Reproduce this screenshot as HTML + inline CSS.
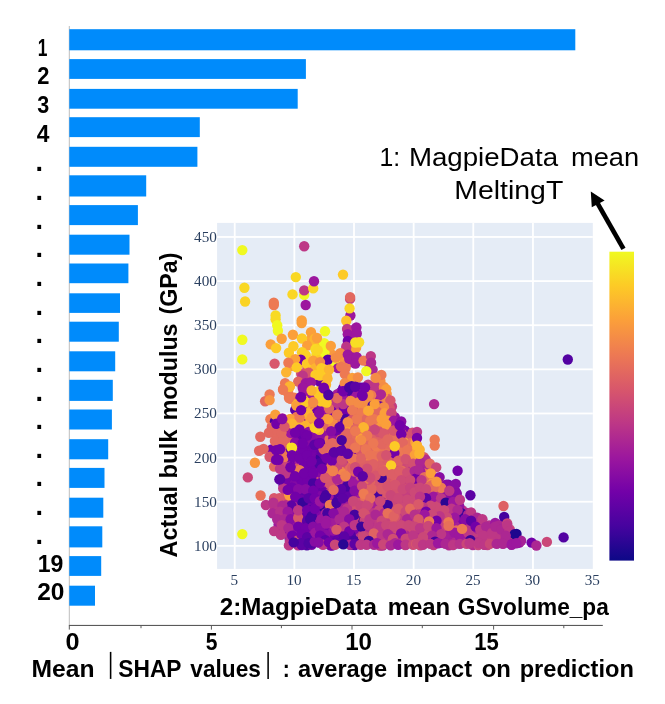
<!DOCTYPE html>
<html lang="en"><head><meta charset="utf-8"><title>SHAP feature importance</title>
<style>
html,body{margin:0;padding:0;background:#fff;}
body{width:665px;height:704px;overflow:hidden;position:relative;}
svg{display:block;position:absolute;left:0;top:0;}
.b{font-family:"Liberation Sans",sans-serif;font-weight:700;fill:#000;}
.r{font-family:"Liberation Sans",sans-serif;font-weight:400;fill:#000;}
.t{font-family:"Liberation Serif",serif;font-size:15.2px;fill:#2a3f5f;}
</style></head><body>
<svg width="665" height="704" viewBox="0 0 665 704">
<defs><linearGradient id="pl" x1="0" y1="1" x2="0" y2="0">
<stop offset="0.0000" stop-color="#0d0887"/>
<stop offset="0.1111" stop-color="#46039f"/>
<stop offset="0.2222" stop-color="#7201a8"/>
<stop offset="0.3333" stop-color="#9c179e"/>
<stop offset="0.4444" stop-color="#bd3786"/>
<stop offset="0.5556" stop-color="#d8576b"/>
<stop offset="0.6667" stop-color="#ed7953"/>
<stop offset="0.7778" stop-color="#fb9f3a"/>
<stop offset="0.8889" stop-color="#fdca26"/>
<stop offset="1.0000" stop-color="#f0f921"/>
</linearGradient>
<clipPath id="pc"><rect x="217.1" y="222.9" width="375.7" height="346"/></clipPath>
</defs>
<rect x="0" y="0" width="665" height="704" fill="#ffffff"/>
<g id="bars">
<rect x="68.8" y="26" width="1" height="599.5" fill="#bdbdbd"/>
<rect x="69.3" y="29.2" width="506.0" height="21.1" fill="#008bfb"/>
<rect x="69.3" y="59.1" width="236.6" height="19.8" fill="#008bfb"/>
<rect x="69.3" y="88.9" width="228.4" height="19.8" fill="#008bfb"/>
<rect x="69.3" y="117.2" width="130.5" height="19.9" fill="#008bfb"/>
<rect x="69.3" y="146.8" width="128.1" height="20.0" fill="#008bfb"/>
<rect x="69.3" y="175.3" width="76.9" height="21.2" fill="#008bfb"/>
<rect x="69.3" y="205.1" width="68.6" height="20.0" fill="#008bfb"/>
<rect x="69.3" y="234.7" width="60.2" height="20.0" fill="#008bfb"/>
<rect x="69.3" y="263.5" width="59.1" height="19.7" fill="#008bfb"/>
<rect x="69.3" y="293.3" width="50.7" height="19.6" fill="#008bfb"/>
<rect x="69.3" y="321.7" width="49.5" height="20.0" fill="#008bfb"/>
<rect x="69.3" y="351.3" width="45.9" height="20.0" fill="#008bfb"/>
<rect x="69.3" y="379.8" width="43.5" height="21.1" fill="#008bfb"/>
<rect x="69.3" y="409.5" width="42.6" height="20.0" fill="#008bfb"/>
<rect x="69.3" y="439.2" width="38.9" height="20.1" fill="#008bfb"/>
<rect x="69.3" y="467.9" width="35.2" height="20.0" fill="#008bfb"/>
<rect x="69.3" y="497.7" width="34.0" height="20.0" fill="#008bfb"/>
<rect x="69.3" y="526.3" width="33.0" height="21.1" fill="#008bfb"/>
<rect x="69.3" y="556.1" width="31.9" height="19.8" fill="#008bfb"/>
<rect x="69.3" y="585.7" width="25.7" height="20.0" fill="#008bfb"/>
</g>
<g id="scatter">
<rect x="217.1" y="222.9" width="375.7" height="346" fill="#e5ecf6"/>
<rect x="233.80" y="222.9" width="1.8" height="346" fill="#ffffff"/>
<rect x="293.45" y="222.9" width="1.8" height="346" fill="#ffffff"/>
<rect x="353.10" y="222.9" width="1.8" height="346" fill="#ffffff"/>
<rect x="412.75" y="222.9" width="1.8" height="346" fill="#ffffff"/>
<rect x="472.40" y="222.9" width="1.8" height="346" fill="#ffffff"/>
<rect x="532.05" y="222.9" width="1.8" height="346" fill="#ffffff"/>
<rect x="217.1" y="544.95" width="375.7" height="1.8" fill="#ffffff"/>
<rect x="217.1" y="500.82" width="375.7" height="1.8" fill="#ffffff"/>
<rect x="217.1" y="456.70" width="375.7" height="1.8" fill="#ffffff"/>
<rect x="217.1" y="412.57" width="375.7" height="1.8" fill="#ffffff"/>
<rect x="217.1" y="368.45" width="375.7" height="1.8" fill="#ffffff"/>
<rect x="217.1" y="324.32" width="375.7" height="1.8" fill="#ffffff"/>
<rect x="217.1" y="280.20" width="375.7" height="1.8" fill="#ffffff"/>
<rect x="217.1" y="236.07" width="375.7" height="1.8" fill="#ffffff"/>
<g clip-path="url(#pc)">
<circle cx="319.9" cy="415.7" r="5.2" fill="#99169f"/>
<circle cx="347.3" cy="459.9" r="5.2" fill="#da5a69"/>
<circle cx="293.3" cy="475.1" r="5.2" fill="#7402a7"/>
<circle cx="416.2" cy="513.6" r="5.2" fill="#de6164"/>
<circle cx="368.8" cy="519.7" r="5.2" fill="#c03b83"/>
<circle cx="353.8" cy="398.9" r="5.2" fill="#f48d46"/>
<circle cx="340.9" cy="392.0" r="5.2" fill="#7a05a6"/>
<circle cx="309.0" cy="398.7" r="5.2" fill="#ee7a52"/>
<circle cx="281.7" cy="466.9" r="5.2" fill="#d4526f"/>
<circle cx="383.9" cy="413.7" r="5.2" fill="#f99a3d"/>
<circle cx="466.7" cy="519.6" r="5.2" fill="#b02a90"/>
<circle cx="407.8" cy="520.9" r="5.2" fill="#c8447b"/>
<circle cx="416.6" cy="452.6" r="5.2" fill="#f79342"/>
<circle cx="402.5" cy="448.4" r="5.2" fill="#e87158"/>
<circle cx="325.8" cy="423.8" r="5.2" fill="#9011a1"/>
<circle cx="353.9" cy="416.5" r="5.2" fill="#e56c5c"/>
<circle cx="443.7" cy="532.3" r="5.2" fill="#e46b5d"/>
<circle cx="344.5" cy="393.7" r="5.2" fill="#7a05a6"/>
<circle cx="391.8" cy="531.0" r="5.2" fill="#c4407f"/>
<circle cx="372.3" cy="496.5" r="5.2" fill="#e06462"/>
<circle cx="396.8" cy="506.4" r="5.2" fill="#d6546d"/>
<circle cx="289.4" cy="464.2" r="5.2" fill="#7f08a5"/>
<circle cx="316.4" cy="355.0" r="5.2" fill="#f9d824"/>
<circle cx="406.1" cy="538.2" r="5.2" fill="#be3985"/>
<circle cx="479.8" cy="539.6" r="5.2" fill="#b12b8f"/>
<circle cx="305.3" cy="377.0" r="5.2" fill="#b6308b"/>
<circle cx="330.1" cy="442.3" r="5.2" fill="#e16561"/>
<circle cx="290.0" cy="488.6" r="5.2" fill="#b22c8e"/>
<circle cx="344.5" cy="532.3" r="5.2" fill="#c13c82"/>
<circle cx="312.5" cy="421.0" r="5.2" fill="#fad625"/>
<circle cx="318.4" cy="370.3" r="5.2" fill="#fdcb26"/>
<circle cx="355.3" cy="459.4" r="5.2" fill="#e46a5e"/>
<circle cx="334.1" cy="481.3" r="5.2" fill="#d25071"/>
<circle cx="386.5" cy="441.4" r="5.2" fill="#df6264"/>
<circle cx="330.7" cy="518.4" r="5.2" fill="#7f08a5"/>
<circle cx="411.9" cy="539.3" r="5.2" fill="#d14f72"/>
<circle cx="283.6" cy="500.4" r="5.2" fill="#d4536f"/>
<circle cx="299.6" cy="487.6" r="5.2" fill="#6801a6"/>
<circle cx="343.9" cy="488.1" r="5.2" fill="#5302a2"/>
<circle cx="290.6" cy="366.1" r="5.2" fill="#fa9d3b"/>
<circle cx="318.3" cy="456.4" r="5.2" fill="#6002a4"/>
<circle cx="323.4" cy="458.9" r="5.2" fill="#8209a4"/>
<circle cx="469.5" cy="542.2" r="5.2" fill="#c13c82"/>
<circle cx="301.5" cy="532.3" r="5.2" fill="#7001a8"/>
<circle cx="424.4" cy="521.3" r="5.2" fill="#c6417d"/>
<circle cx="391.7" cy="488.0" r="5.2" fill="#ca4779"/>
<circle cx="387.2" cy="477.4" r="5.2" fill="#d6546d"/>
<circle cx="339.4" cy="438.3" r="5.2" fill="#dc5d67"/>
<circle cx="330.4" cy="536.4" r="5.2" fill="#6102a4"/>
<circle cx="461.6" cy="542.5" r="5.2" fill="#ae2991"/>
<circle cx="362.0" cy="393.7" r="5.2" fill="#840aa4"/>
<circle cx="380.5" cy="394.8" r="5.2" fill="#ea7556"/>
<circle cx="387.6" cy="426.1" r="5.2" fill="#de6164"/>
<circle cx="390.7" cy="525.3" r="5.2" fill="#d5536e"/>
<circle cx="352.3" cy="399.4" r="5.2" fill="#f58e45"/>
<circle cx="365.2" cy="416.3" r="5.2" fill="#ec7854"/>
<circle cx="344.7" cy="510.0" r="5.2" fill="#ac2792"/>
<circle cx="361.5" cy="463.8" r="5.2" fill="#e3685f"/>
<circle cx="327.0" cy="362.4" r="5.2" fill="#fdc329"/>
<circle cx="405.2" cy="471.0" r="5.2" fill="#cb4878"/>
<circle cx="332.8" cy="499.1" r="5.2" fill="#350498"/>
<circle cx="372.8" cy="447.7" r="5.2" fill="#eb7655"/>
<circle cx="445.0" cy="541.2" r="5.2" fill="#a72296"/>
<circle cx="445.7" cy="516.7" r="5.2" fill="#b7318a"/>
<circle cx="334.3" cy="503.3" r="5.2" fill="#5902a3"/>
<circle cx="361.1" cy="444.3" r="5.2" fill="#f1854b"/>
<circle cx="452.0" cy="543.0" r="5.2" fill="#b7318a"/>
<circle cx="294.2" cy="397.6" r="5.2" fill="#ec7755"/>
<circle cx="304.0" cy="502.2" r="5.2" fill="#7d07a5"/>
<circle cx="397.3" cy="430.1" r="5.2" fill="#9413a0"/>
<circle cx="276.7" cy="465.7" r="5.2" fill="#6801a6"/>
<circle cx="354.0" cy="483.7" r="5.2" fill="#9513a0"/>
<circle cx="402.6" cy="462.6" r="5.2" fill="#ca4779"/>
<circle cx="383.5" cy="484.9" r="5.2" fill="#320597"/>
<circle cx="361.0" cy="441.8" r="5.2" fill="#e66e5b"/>
<circle cx="355.1" cy="409.3" r="5.2" fill="#ee7d51"/>
<circle cx="372.2" cy="439.1" r="5.2" fill="#e76f5a"/>
<circle cx="372.8" cy="434.3" r="5.2" fill="#da5a69"/>
<circle cx="347.5" cy="506.0" r="5.2" fill="#a41f98"/>
<circle cx="455.6" cy="511.1" r="5.2" fill="#a01b9b"/>
<circle cx="307.1" cy="406.3" r="5.2" fill="#fcad34"/>
<circle cx="448.1" cy="525.4" r="5.2" fill="#e3685f"/>
<circle cx="430.2" cy="471.6" r="5.2" fill="#e7705a"/>
<circle cx="309.2" cy="474.6" r="5.2" fill="#7402a8"/>
<circle cx="293.7" cy="477.3" r="5.2" fill="#7804a7"/>
<circle cx="323.4" cy="365.7" r="5.2" fill="#fba935"/>
<circle cx="390.9" cy="445.8" r="5.2" fill="#e2675f"/>
<circle cx="391.7" cy="458.4" r="5.2" fill="#e46b5d"/>
<circle cx="394.9" cy="438.5" r="5.2" fill="#e3685f"/>
<circle cx="347.3" cy="423.7" r="5.2" fill="#cf4c74"/>
<circle cx="319.3" cy="542.5" r="5.2" fill="#9111a1"/>
<circle cx="423.0" cy="481.7" r="5.2" fill="#c5407e"/>
<circle cx="323.0" cy="535.4" r="5.2" fill="#8d0fa1"/>
<circle cx="312.0" cy="470.7" r="5.2" fill="#8109a5"/>
<circle cx="307.2" cy="520.3" r="5.2" fill="#6302a5"/>
<circle cx="462.2" cy="510.3" r="5.2" fill="#b93389"/>
<circle cx="336.5" cy="517.3" r="5.2" fill="#a62197"/>
<circle cx="438.1" cy="509.8" r="5.2" fill="#d04e73"/>
<circle cx="278.3" cy="435.1" r="5.2" fill="#db5c68"/>
<circle cx="396.9" cy="510.0" r="5.2" fill="#e26760"/>
<circle cx="376.8" cy="530.4" r="5.2" fill="#c5407e"/>
<circle cx="351.4" cy="484.1" r="5.2" fill="#9e199c"/>
<circle cx="317.7" cy="364.8" r="5.2" fill="#fcbd2c"/>
<circle cx="390.2" cy="474.6" r="5.2" fill="#d4526f"/>
<circle cx="297.5" cy="431.6" r="5.2" fill="#7201a8"/>
<circle cx="376.5" cy="474.9" r="5.2" fill="#c7437c"/>
<circle cx="359.0" cy="451.7" r="5.2" fill="#e76f5a"/>
<circle cx="352.1" cy="462.6" r="5.2" fill="#e56c5c"/>
<circle cx="353.7" cy="444.3" r="5.2" fill="#e46a5e"/>
<circle cx="422.3" cy="511.0" r="5.2" fill="#9212a0"/>
<circle cx="304.1" cy="430.1" r="5.2" fill="#7d07a5"/>
<circle cx="422.7" cy="460.2" r="5.2" fill="#cd4a76"/>
<circle cx="305.2" cy="420.5" r="5.2" fill="#fcb82f"/>
<circle cx="359.3" cy="387.4" r="5.2" fill="#6d01a7"/>
<circle cx="453.1" cy="528.4" r="5.2" fill="#e87158"/>
<circle cx="386.1" cy="499.2" r="5.2" fill="#c7437c"/>
<circle cx="335.7" cy="365.8" r="5.2" fill="#f69243"/>
<circle cx="417.0" cy="480.1" r="5.2" fill="#b6308b"/>
<circle cx="379.1" cy="516.6" r="5.2" fill="#c9457a"/>
<circle cx="416.2" cy="459.6" r="5.2" fill="#cf4d74"/>
<circle cx="506.3" cy="539.1" r="5.2" fill="#a21d9a"/>
<circle cx="472.8" cy="529.2" r="5.2" fill="#c03b83"/>
<circle cx="329.2" cy="358.0" r="5.2" fill="#f79541"/>
<circle cx="433.1" cy="482.2" r="5.2" fill="#f2874a"/>
<circle cx="334.4" cy="449.4" r="5.2" fill="#5902a3"/>
<circle cx="308.3" cy="517.0" r="5.2" fill="#5302a2"/>
<circle cx="379.6" cy="502.2" r="5.2" fill="#340597"/>
<circle cx="452.6" cy="521.3" r="5.2" fill="#a21d99"/>
<circle cx="492.8" cy="539.1" r="5.2" fill="#b6308b"/>
<circle cx="337.5" cy="535.7" r="5.2" fill="#6b01a6"/>
<circle cx="339.4" cy="460.0" r="5.2" fill="#8008a5"/>
<circle cx="304.4" cy="458.8" r="5.2" fill="#6e01a7"/>
<circle cx="340.4" cy="491.7" r="5.2" fill="#5c02a4"/>
<circle cx="429.3" cy="539.6" r="5.2" fill="#a62197"/>
<circle cx="363.2" cy="400.9" r="5.2" fill="#7a05a6"/>
<circle cx="377.6" cy="391.7" r="5.2" fill="#b7328a"/>
<circle cx="339.7" cy="433.2" r="5.2" fill="#5f02a4"/>
<circle cx="326.4" cy="531.0" r="5.2" fill="#7804a7"/>
<circle cx="350.5" cy="487.4" r="5.2" fill="#a92395"/>
<circle cx="473.6" cy="542.0" r="5.2" fill="#bc3687"/>
<circle cx="340.4" cy="427.1" r="5.2" fill="#f0814e"/>
<circle cx="315.7" cy="428.3" r="5.2" fill="#fdc528"/>
<circle cx="344.3" cy="498.5" r="5.2" fill="#b32d8d"/>
<circle cx="395.0" cy="523.6" r="5.2" fill="#c7437c"/>
<circle cx="339.6" cy="420.2" r="5.2" fill="#e46b5d"/>
<circle cx="317.9" cy="421.0" r="5.2" fill="#f1854b"/>
<circle cx="279.6" cy="451.8" r="5.2" fill="#7603a7"/>
<circle cx="333.2" cy="429.8" r="5.2" fill="#8109a5"/>
<circle cx="391.2" cy="412.6" r="5.2" fill="#f8983f"/>
<circle cx="383.7" cy="478.1" r="5.2" fill="#d7566c"/>
<circle cx="311.7" cy="338.4" r="5.2" fill="#fba437"/>
<circle cx="441.5" cy="507.1" r="5.2" fill="#c5417e"/>
<circle cx="365.1" cy="401.1" r="5.2" fill="#f79541"/>
<circle cx="322.2" cy="441.8" r="5.2" fill="#e87159"/>
<circle cx="330.1" cy="509.0" r="5.2" fill="#820aa4"/>
<circle cx="332.7" cy="496.1" r="5.2" fill="#e76f5a"/>
<circle cx="326.5" cy="499.0" r="5.2" fill="#4b03a0"/>
<circle cx="332.7" cy="366.6" r="5.2" fill="#fdc329"/>
<circle cx="304.4" cy="507.1" r="5.2" fill="#6502a5"/>
<circle cx="314.6" cy="470.6" r="5.2" fill="#6e01a7"/>
<circle cx="405.0" cy="513.5" r="5.2" fill="#c23d81"/>
<circle cx="402.5" cy="430.6" r="5.2" fill="#8a0ea2"/>
<circle cx="317.7" cy="478.3" r="5.2" fill="#6801a6"/>
<circle cx="458.9" cy="530.4" r="5.2" fill="#bb3587"/>
<circle cx="359.4" cy="476.8" r="5.2" fill="#6d01a7"/>
<circle cx="376.6" cy="517.4" r="5.2" fill="#ba3488"/>
<circle cx="387.5" cy="421.1" r="5.2" fill="#fb9e3b"/>
<circle cx="330.7" cy="524.5" r="5.2" fill="#a62097"/>
<circle cx="350.6" cy="538.6" r="5.2" fill="#6202a5"/>
<circle cx="344.0" cy="399.2" r="5.2" fill="#bb3588"/>
<circle cx="353.8" cy="525.4" r="5.2" fill="#b93489"/>
<circle cx="354.7" cy="494.6" r="5.2" fill="#cf4c74"/>
<circle cx="343.9" cy="431.0" r="5.2" fill="#dc5d67"/>
<circle cx="361.6" cy="489.2" r="5.2" fill="#9614a0"/>
<circle cx="357.6" cy="459.2" r="5.2" fill="#e16561"/>
<circle cx="401.1" cy="477.9" r="5.2" fill="#c5417e"/>
<circle cx="311.4" cy="463.3" r="5.2" fill="#6e01a7"/>
<circle cx="285.5" cy="452.5" r="5.2" fill="#7101a8"/>
<circle cx="305.4" cy="416.1" r="5.2" fill="#fba935"/>
<circle cx="411.6" cy="534.3" r="5.2" fill="#cb4878"/>
<circle cx="409.2" cy="505.4" r="5.2" fill="#c7427c"/>
<circle cx="386.7" cy="394.0" r="5.2" fill="#f79540"/>
<circle cx="373.0" cy="466.7" r="5.2" fill="#df6263"/>
<circle cx="400.7" cy="542.3" r="5.2" fill="#b93389"/>
<circle cx="296.3" cy="528.8" r="5.2" fill="#7b06a6"/>
<circle cx="425.8" cy="498.6" r="5.2" fill="#b02b8f"/>
<circle cx="288.9" cy="437.7" r="5.2" fill="#e97258"/>
<circle cx="454.7" cy="535.9" r="5.2" fill="#a62197"/>
<circle cx="332.4" cy="405.4" r="5.2" fill="#c6427d"/>
<circle cx="420.1" cy="537.7" r="5.2" fill="#d5546e"/>
<circle cx="368.9" cy="456.4" r="5.2" fill="#e97258"/>
<circle cx="370.2" cy="449.7" r="5.2" fill="#eb7655"/>
<circle cx="296.7" cy="501.9" r="5.2" fill="#c5407e"/>
<circle cx="382.5" cy="538.6" r="5.2" fill="#c4407f"/>
<circle cx="325.9" cy="412.7" r="5.2" fill="#96149f"/>
<circle cx="427.9" cy="513.6" r="5.2" fill="#c7437c"/>
<circle cx="297.4" cy="474.3" r="5.2" fill="#e06462"/>
<circle cx="325.7" cy="417.5" r="5.2" fill="#a51f98"/>
<circle cx="412.9" cy="487.8" r="5.2" fill="#c8447b"/>
<circle cx="380.3" cy="445.7" r="5.2" fill="#dd5f66"/>
<circle cx="318.7" cy="437.2" r="5.2" fill="#7f08a5"/>
<circle cx="405.0" cy="430.6" r="5.2" fill="#7402a8"/>
<circle cx="283.6" cy="516.4" r="5.2" fill="#a72196"/>
<circle cx="355.4" cy="520.7" r="5.2" fill="#7804a6"/>
<circle cx="300.5" cy="510.4" r="5.2" fill="#6801a6"/>
<circle cx="336.9" cy="530.8" r="5.2" fill="#b12b8f"/>
<circle cx="463.8" cy="538.4" r="5.2" fill="#a01b9b"/>
<circle cx="371.8" cy="415.5" r="5.2" fill="#f0804e"/>
<circle cx="373.2" cy="484.8" r="5.2" fill="#d8576b"/>
<circle cx="395.4" cy="499.0" r="5.2" fill="#c7427c"/>
<circle cx="469.5" cy="538.8" r="5.2" fill="#c03a83"/>
<circle cx="328.4" cy="538.3" r="5.2" fill="#7d07a5"/>
<circle cx="391.3" cy="427.0" r="5.2" fill="#9c179e"/>
<circle cx="420.3" cy="481.8" r="5.2" fill="#d5546e"/>
<circle cx="321.8" cy="524.0" r="5.2" fill="#8a0ea2"/>
<circle cx="311.4" cy="415.6" r="5.2" fill="#f79541"/>
<circle cx="462.3" cy="517.4" r="5.2" fill="#a31e99"/>
<circle cx="355.8" cy="406.1" r="5.2" fill="#f1844c"/>
<circle cx="380.3" cy="405.4" r="5.2" fill="#f79342"/>
<circle cx="369.8" cy="495.1" r="5.2" fill="#e66d5b"/>
<circle cx="305.1" cy="462.5" r="5.2" fill="#7703a7"/>
<circle cx="364.7" cy="502.0" r="5.2" fill="#cc4977"/>
<circle cx="411.5" cy="516.5" r="5.2" fill="#cd4a76"/>
<circle cx="430.6" cy="508.9" r="5.2" fill="#c7437c"/>
<circle cx="316.4" cy="445.5" r="5.2" fill="#4c03a0"/>
<circle cx="346.5" cy="433.7" r="5.2" fill="#db5d67"/>
<circle cx="426.5" cy="495.9" r="5.2" fill="#cf4c74"/>
<circle cx="510.0" cy="541.9" r="5.2" fill="#a92495"/>
<circle cx="330.3" cy="364.8" r="5.2" fill="#f69143"/>
<circle cx="474.3" cy="535.3" r="5.2" fill="#c5407e"/>
<circle cx="433.1" cy="478.7" r="5.2" fill="#e87159"/>
<circle cx="290.2" cy="459.1" r="5.2" fill="#6402a5"/>
<circle cx="427.9" cy="469.9" r="5.2" fill="#e3695e"/>
<circle cx="351.0" cy="345.0" r="5.2" fill="#fad425"/>
<circle cx="322.8" cy="488.7" r="5.2" fill="#7d07a5"/>
<circle cx="402.7" cy="488.5" r="5.2" fill="#c33e80"/>
<circle cx="365.5" cy="445.1" r="5.2" fill="#ef7f4f"/>
<circle cx="383.8" cy="524.1" r="5.2" fill="#d35270"/>
<circle cx="337.3" cy="423.8" r="5.2" fill="#dc5d67"/>
<circle cx="442.1" cy="539.6" r="5.2" fill="#af2990"/>
<circle cx="285.6" cy="484.7" r="5.2" fill="#7704a7"/>
<circle cx="434.6" cy="492.9" r="5.2" fill="#dc5e66"/>
<circle cx="430.4" cy="488.5" r="5.2" fill="#d5546e"/>
<circle cx="394.8" cy="426.7" r="5.2" fill="#8e10a1"/>
<circle cx="318.5" cy="441.4" r="5.2" fill="#8109a4"/>
<circle cx="365.7" cy="452.8" r="5.2" fill="#e66d5b"/>
<circle cx="451.9" cy="518.0" r="5.2" fill="#e87258"/>
<circle cx="386.8" cy="527.3" r="5.2" fill="#c6427d"/>
<circle cx="290.9" cy="483.7" r="5.2" fill="#8109a5"/>
<circle cx="303.7" cy="391.1" r="5.2" fill="#6a01a6"/>
<circle cx="344.4" cy="405.6" r="5.2" fill="#c6427d"/>
<circle cx="305.1" cy="423.0" r="5.2" fill="#f99b3d"/>
<circle cx="437.3" cy="539.4" r="5.2" fill="#b02a8f"/>
<circle cx="362.6" cy="392.1" r="5.2" fill="#7603a7"/>
<circle cx="299.8" cy="466.1" r="5.2" fill="#ee7c51"/>
<circle cx="377.3" cy="412.2" r="5.2" fill="#e06462"/>
<circle cx="322.1" cy="531.6" r="5.2" fill="#7301a8"/>
<circle cx="388.3" cy="405.0" r="5.2" fill="#df6263"/>
<circle cx="372.2" cy="424.6" r="5.2" fill="#e06362"/>
<circle cx="384.1" cy="471.3" r="5.2" fill="#e16660"/>
<circle cx="494.3" cy="528.0" r="5.2" fill="#a01a9b"/>
<circle cx="301.4" cy="520.2" r="5.2" fill="#7301a8"/>
<circle cx="290.6" cy="481.8" r="5.2" fill="#7402a8"/>
<circle cx="465.3" cy="538.3" r="5.2" fill="#a21d9a"/>
<circle cx="303.9" cy="440.6" r="5.2" fill="#6c01a7"/>
<circle cx="449.0" cy="545.3" r="5.2" fill="#b22d8e"/>
<circle cx="468.9" cy="532.7" r="5.2" fill="#bc3687"/>
<circle cx="297.3" cy="439.1" r="5.2" fill="#9111a1"/>
<circle cx="368.8" cy="506.1" r="5.2" fill="#d25071"/>
<circle cx="394.9" cy="457.0" r="5.2" fill="#fdc528"/>
<circle cx="299.9" cy="438.9" r="5.2" fill="#6801a6"/>
<circle cx="423.5" cy="541.6" r="5.2" fill="#b6308b"/>
<circle cx="355.8" cy="419.4" r="5.2" fill="#e56c5c"/>
<circle cx="424.0" cy="471.3" r="5.2" fill="#e46b5d"/>
<circle cx="301.8" cy="434.6" r="5.2" fill="#6901a6"/>
<circle cx="328.5" cy="412.6" r="5.2" fill="#e97258"/>
<circle cx="470.7" cy="517.6" r="5.2" fill="#8b0ea2"/>
<circle cx="384.1" cy="448.0" r="5.2" fill="#e16661"/>
<circle cx="433.5" cy="516.4" r="5.2" fill="#6502a5"/>
<circle cx="362.6" cy="503.0" r="5.2" fill="#ca4779"/>
<circle cx="487.5" cy="536.4" r="5.2" fill="#c33f80"/>
<circle cx="490.7" cy="530.5" r="5.2" fill="#b52f8c"/>
<circle cx="340.0" cy="500.2" r="5.2" fill="#6702a6"/>
<circle cx="415.7" cy="516.6" r="5.2" fill="#b22c8e"/>
<circle cx="382.9" cy="487.9" r="5.2" fill="#4d03a0"/>
<circle cx="350.3" cy="409.5" r="5.2" fill="#dd6065"/>
<circle cx="380.4" cy="380.9" r="5.2" fill="#f58e45"/>
<circle cx="405.1" cy="478.1" r="5.2" fill="#d8576b"/>
<circle cx="301.3" cy="362.4" r="5.2" fill="#f99a3d"/>
<circle cx="339.9" cy="424.1" r="5.2" fill="#5802a3"/>
<circle cx="413.5" cy="459.8" r="5.2" fill="#c9467a"/>
<circle cx="366.6" cy="473.0" r="5.2" fill="#d4526f"/>
<circle cx="375.3" cy="398.4" r="5.2" fill="#e87059"/>
<circle cx="419.4" cy="516.5" r="5.2" fill="#b32d8d"/>
<circle cx="387.9" cy="423.1" r="5.2" fill="#fcae33"/>
<circle cx="307.0" cy="502.5" r="5.2" fill="#6d01a7"/>
<circle cx="444.3" cy="527.9" r="5.2" fill="#c33e80"/>
<circle cx="325.2" cy="505.6" r="5.2" fill="#41039d"/>
<circle cx="337.0" cy="412.7" r="5.2" fill="#c5407e"/>
<circle cx="358.7" cy="513.6" r="5.2" fill="#cb4878"/>
<circle cx="381.1" cy="423.4" r="5.2" fill="#fb9f3a"/>
<circle cx="417.2" cy="500.1" r="5.2" fill="#c13c82"/>
<circle cx="401.9" cy="460.0" r="5.2" fill="#e56c5c"/>
<circle cx="347.3" cy="456.5" r="5.2" fill="#5402a2"/>
<circle cx="394.7" cy="520.1" r="5.2" fill="#c43f7f"/>
<circle cx="326.2" cy="420.3" r="5.2" fill="#f79441"/>
<circle cx="275.9" cy="424.5" r="5.2" fill="#6901a6"/>
<circle cx="347.2" cy="408.1" r="5.2" fill="#ea7457"/>
<circle cx="285.7" cy="492.5" r="5.2" fill="#e06462"/>
<circle cx="315.9" cy="417.5" r="5.2" fill="#9413a0"/>
<circle cx="357.3" cy="431.9" r="5.2" fill="#fba139"/>
<circle cx="329.0" cy="418.9" r="5.2" fill="#e66d5b"/>
<circle cx="413.2" cy="484.6" r="5.2" fill="#c13b82"/>
<circle cx="386.3" cy="534.7" r="5.2" fill="#d04d73"/>
<circle cx="294.5" cy="430.4" r="5.2" fill="#9b169e"/>
<circle cx="316.2" cy="399.4" r="5.2" fill="#f9d725"/>
<circle cx="306.9" cy="536.0" r="5.2" fill="#6202a5"/>
<circle cx="370.0" cy="420.9" r="5.2" fill="#e66e5b"/>
<circle cx="426.7" cy="527.0" r="5.2" fill="#b93389"/>
<circle cx="394.0" cy="493.1" r="5.2" fill="#d25071"/>
<circle cx="347.0" cy="467.9" r="5.2" fill="#d9586a"/>
<circle cx="361.2" cy="500.0" r="5.2" fill="#cb4778"/>
<circle cx="321.3" cy="422.8" r="5.2" fill="#8d0fa2"/>
<circle cx="310.6" cy="520.1" r="5.2" fill="#5a02a3"/>
<circle cx="402.7" cy="480.9" r="5.2" fill="#cb4878"/>
<circle cx="404.9" cy="462.3" r="5.2" fill="#dc5d67"/>
<circle cx="383.4" cy="466.1" r="5.2" fill="#dd6065"/>
<circle cx="401.5" cy="523.5" r="5.2" fill="#ca4679"/>
<circle cx="312.2" cy="526.8" r="5.2" fill="#8f10a1"/>
<circle cx="287.2" cy="521.5" r="5.2" fill="#b8328a"/>
<circle cx="371.7" cy="521.7" r="5.2" fill="#b6308b"/>
<circle cx="311.7" cy="439.2" r="5.2" fill="#7302a8"/>
<circle cx="361.1" cy="420.2" r="5.2" fill="#f0804e"/>
<circle cx="409.8" cy="460.6" r="5.2" fill="#d6546d"/>
<circle cx="427.5" cy="488.8" r="5.2" fill="#cb4778"/>
<circle cx="362.0" cy="433.8" r="5.2" fill="#f69243"/>
<circle cx="316.1" cy="465.8" r="5.2" fill="#6f01a7"/>
<circle cx="443.8" cy="498.0" r="5.2" fill="#98159f"/>
<circle cx="387.7" cy="494.6" r="5.2" fill="#c9457a"/>
<circle cx="359.2" cy="516.7" r="5.2" fill="#9111a1"/>
<circle cx="308.0" cy="528.6" r="5.2" fill="#6702a6"/>
<circle cx="296.9" cy="451.9" r="5.2" fill="#6202a5"/>
<circle cx="314.4" cy="422.7" r="5.2" fill="#fccc26"/>
<circle cx="426.0" cy="503.5" r="5.2" fill="#7a05a6"/>
<circle cx="484.8" cy="532.5" r="5.2" fill="#b42e8d"/>
<circle cx="289.4" cy="513.2" r="5.2" fill="#a92395"/>
<circle cx="386.1" cy="485.4" r="5.2" fill="#db5c68"/>
<circle cx="355.7" cy="387.3" r="5.2" fill="#5802a3"/>
<circle cx="350.8" cy="460.3" r="5.2" fill="#e36a5e"/>
<circle cx="358.3" cy="421.0" r="5.2" fill="#eb7556"/>
<circle cx="346.6" cy="453.2" r="5.2" fill="#6602a5"/>
<circle cx="332.6" cy="467.5" r="5.2" fill="#6302a5"/>
<circle cx="324.9" cy="527.2" r="5.2" fill="#9111a1"/>
<circle cx="503.4" cy="531.7" r="5.2" fill="#b8328a"/>
<circle cx="465.3" cy="541.9" r="5.2" fill="#b93389"/>
<circle cx="301.9" cy="516.3" r="5.2" fill="#c23e81"/>
<circle cx="301.2" cy="373.8" r="5.2" fill="#cf4c74"/>
<circle cx="416.1" cy="484.8" r="5.2" fill="#d04e73"/>
<circle cx="311.1" cy="422.8" r="5.2" fill="#f9da24"/>
<circle cx="284.0" cy="523.8" r="5.2" fill="#b8328a"/>
<circle cx="362.7" cy="467.5" r="5.2" fill="#cd4976"/>
<circle cx="368.7" cy="434.4" r="5.2" fill="#ea7457"/>
<circle cx="380.2" cy="480.9" r="5.2" fill="#d14f72"/>
<circle cx="319.7" cy="430.6" r="5.2" fill="#fcb530"/>
<circle cx="350.7" cy="427.5" r="5.2" fill="#e87059"/>
<circle cx="347.5" cy="469.2" r="5.2" fill="#ef7d50"/>
<circle cx="463.5" cy="523.6" r="5.2" fill="#aa2594"/>
<circle cx="366.8" cy="506.2" r="5.2" fill="#c43f7f"/>
<circle cx="314.2" cy="464.1" r="5.2" fill="#5103a1"/>
<circle cx="364.5" cy="420.6" r="5.2" fill="#e56d5c"/>
<circle cx="350.4" cy="362.1" r="5.2" fill="#99169f"/>
<circle cx="419.5" cy="476.5" r="5.2" fill="#b12b8f"/>
<circle cx="429.4" cy="494.9" r="5.2" fill="#9513a0"/>
<circle cx="354.7" cy="336.2" r="5.2" fill="#a21d9a"/>
<circle cx="286.1" cy="459.1" r="5.2" fill="#7503a7"/>
<circle cx="328.5" cy="506.7" r="5.2" fill="#3b049a"/>
<circle cx="371.7" cy="446.0" r="5.2" fill="#e56c5c"/>
<circle cx="326.2" cy="434.5" r="5.2" fill="#e46a5e"/>
<circle cx="310.7" cy="535.6" r="5.2" fill="#8f10a1"/>
<circle cx="361.7" cy="410.1" r="5.2" fill="#fba03a"/>
<circle cx="348.0" cy="413.1" r="5.2" fill="#6102a4"/>
<circle cx="360.8" cy="542.0" r="5.2" fill="#be3885"/>
<circle cx="325.6" cy="538.4" r="5.2" fill="#8008a5"/>
<circle cx="376.1" cy="543.2" r="5.2" fill="#b42e8d"/>
<circle cx="321.2" cy="518.2" r="5.2" fill="#a31d99"/>
<circle cx="304.1" cy="532.5" r="5.2" fill="#6d01a7"/>
<circle cx="355.8" cy="535.4" r="5.2" fill="#7f08a5"/>
<circle cx="361.7" cy="458.8" r="5.2" fill="#ef7f4f"/>
<circle cx="290.1" cy="505.8" r="5.2" fill="#a31e99"/>
<circle cx="307.8" cy="470.3" r="5.2" fill="#7402a8"/>
<circle cx="398.9" cy="532.6" r="5.2" fill="#d04e73"/>
<circle cx="381.1" cy="451.6" r="5.2" fill="#d8576b"/>
<circle cx="335.9" cy="499.5" r="5.2" fill="#4b03a0"/>
<circle cx="411.8" cy="439.0" r="5.2" fill="#ca4679"/>
<circle cx="294.0" cy="499.6" r="5.2" fill="#6602a6"/>
<circle cx="503.5" cy="529.0" r="5.2" fill="#c7437c"/>
<circle cx="343.5" cy="463.0" r="5.2" fill="#e56b5d"/>
<circle cx="318.9" cy="506.9" r="5.2" fill="#5402a2"/>
<circle cx="365.2" cy="394.5" r="5.2" fill="#9312a0"/>
<circle cx="365.3" cy="477.5" r="5.2" fill="#d8576b"/>
<circle cx="352.2" cy="383.3" r="5.2" fill="#3c049b"/>
<circle cx="316.3" cy="478.5" r="5.2" fill="#6a01a6"/>
<circle cx="416.0" cy="442.3" r="5.2" fill="#db5c67"/>
<circle cx="310.9" cy="394.0" r="5.2" fill="#9513a0"/>
<circle cx="462.9" cy="514.8" r="5.2" fill="#a92395"/>
<circle cx="308.0" cy="531.2" r="5.2" fill="#9111a1"/>
<circle cx="455.0" cy="506.8" r="5.2" fill="#c13c82"/>
<circle cx="347.9" cy="525.0" r="5.2" fill="#b02a90"/>
<circle cx="314.1" cy="510.5" r="5.2" fill="#310596"/>
<circle cx="314.2" cy="442.3" r="5.2" fill="#4f03a1"/>
<circle cx="361.6" cy="482.0" r="5.2" fill="#d4526f"/>
<circle cx="409.9" cy="481.0" r="5.2" fill="#c13b82"/>
<circle cx="297.4" cy="449.8" r="5.2" fill="#97149f"/>
<circle cx="436.8" cy="506.2" r="5.2" fill="#d14f72"/>
<circle cx="447.3" cy="531.4" r="5.2" fill="#ba3488"/>
<circle cx="368.4" cy="426.3" r="5.2" fill="#fcba2d"/>
<circle cx="307.0" cy="427.6" r="5.2" fill="#fcb430"/>
<circle cx="348.4" cy="398.8" r="5.2" fill="#9a169e"/>
<circle cx="369.1" cy="472.8" r="5.2" fill="#d5536e"/>
<circle cx="422.0" cy="500.0" r="5.2" fill="#b02a90"/>
<circle cx="307.7" cy="480.1" r="5.2" fill="#7101a8"/>
<circle cx="368.8" cy="534.9" r="5.2" fill="#be3885"/>
<circle cx="375.5" cy="512.9" r="5.2" fill="#d4526f"/>
<circle cx="378.8" cy="538.1" r="5.2" fill="#ce4b75"/>
<circle cx="456.7" cy="524.8" r="5.2" fill="#a41e98"/>
<circle cx="372.1" cy="442.4" r="5.2" fill="#eb7655"/>
<circle cx="314.8" cy="449.9" r="5.2" fill="#5003a1"/>
<circle cx="354.6" cy="462.7" r="5.2" fill="#eb7655"/>
<circle cx="384.1" cy="403.2" r="5.2" fill="#e87158"/>
<circle cx="351.9" cy="495.6" r="5.2" fill="#6801a6"/>
<circle cx="388.1" cy="437.3" r="5.2" fill="#df6263"/>
<circle cx="323.1" cy="435.2" r="5.2" fill="#8109a4"/>
<circle cx="453.1" cy="489.5" r="5.2" fill="#9011a1"/>
<circle cx="478.1" cy="520.0" r="5.2" fill="#7703a7"/>
<circle cx="478.4" cy="538.8" r="5.2" fill="#b42e8d"/>
<circle cx="303.5" cy="427.1" r="5.2" fill="#7402a7"/>
<circle cx="434.4" cy="507.0" r="5.2" fill="#c5417e"/>
<circle cx="406.2" cy="542.1" r="5.2" fill="#ce4b75"/>
<circle cx="383.9" cy="511.0" r="5.2" fill="#ca4679"/>
<circle cx="382.6" cy="545.6" r="5.2" fill="#b12c8e"/>
<circle cx="355.6" cy="395.8" r="5.2" fill="#a62197"/>
<circle cx="329.6" cy="460.1" r="5.2" fill="#6502a5"/>
<circle cx="300.6" cy="503.7" r="5.2" fill="#6e01a7"/>
<circle cx="339.6" cy="397.8" r="5.2" fill="#bd3786"/>
<circle cx="318.6" cy="534.4" r="5.2" fill="#860ca3"/>
<circle cx="306.9" cy="455.5" r="5.2" fill="#6701a6"/>
<circle cx="316.0" cy="498.6" r="5.2" fill="#7703a7"/>
<circle cx="390.9" cy="431.8" r="5.2" fill="#d25071"/>
<circle cx="368.5" cy="499.7" r="5.2" fill="#c4407f"/>
<circle cx="326.5" cy="508.9" r="5.2" fill="#8209a4"/>
<circle cx="293.6" cy="541.5" r="5.2" fill="#c03a83"/>
<circle cx="351.8" cy="478.7" r="5.2" fill="#6f01a7"/>
<circle cx="332.8" cy="426.2" r="5.2" fill="#98159f"/>
<circle cx="453.0" cy="539.3" r="5.2" fill="#b6318b"/>
<circle cx="429.7" cy="505.8" r="5.2" fill="#be3885"/>
<circle cx="378.9" cy="496.2" r="5.2" fill="#e46b5d"/>
<circle cx="380.5" cy="465.8" r="5.2" fill="#d7566c"/>
<circle cx="484.0" cy="527.9" r="5.2" fill="#bb3588"/>
<circle cx="344.2" cy="442.8" r="5.2" fill="#df6263"/>
<circle cx="330.8" cy="434.2" r="5.2" fill="#de6164"/>
<circle cx="368.9" cy="463.7" r="5.2" fill="#d9586a"/>
<circle cx="377.4" cy="496.8" r="5.2" fill="#d8576b"/>
<circle cx="433.3" cy="502.8" r="5.2" fill="#c8447b"/>
<circle cx="322.0" cy="445.6" r="5.2" fill="#db5c67"/>
<circle cx="362.1" cy="509.6" r="5.2" fill="#d35170"/>
<circle cx="361.4" cy="424.1" r="5.2" fill="#eb7556"/>
<circle cx="322.2" cy="437.2" r="5.2" fill="#5602a2"/>
<circle cx="408.2" cy="534.2" r="5.2" fill="#c23d81"/>
<circle cx="312.7" cy="444.7" r="5.2" fill="#6c01a7"/>
<circle cx="442.3" cy="528.0" r="5.2" fill="#be3885"/>
<circle cx="317.7" cy="539.6" r="5.2" fill="#9413a0"/>
<circle cx="286.4" cy="523.3" r="5.2" fill="#ae2991"/>
<circle cx="328.9" cy="401.6" r="5.2" fill="#b7318a"/>
<circle cx="383.6" cy="424.3" r="5.2" fill="#df6263"/>
<circle cx="348.1" cy="538.3" r="5.2" fill="#6602a5"/>
<circle cx="364.5" cy="455.3" r="5.2" fill="#e87059"/>
<circle cx="319.4" cy="531.4" r="5.2" fill="#7703a7"/>
<circle cx="333.6" cy="416.5" r="5.2" fill="#ef7f4f"/>
<circle cx="497.7" cy="537.9" r="5.2" fill="#bb3587"/>
<circle cx="351.5" cy="521.1" r="5.2" fill="#8c0fa2"/>
<circle cx="386.2" cy="401.4" r="5.2" fill="#dc5e66"/>
<circle cx="325.8" cy="521.4" r="5.2" fill="#a41f98"/>
<circle cx="340.6" cy="514.8" r="5.2" fill="#a92494"/>
<circle cx="417.0" cy="492.7" r="5.2" fill="#c13c82"/>
<circle cx="301.9" cy="523.4" r="5.2" fill="#7001a8"/>
<circle cx="383.3" cy="503.2" r="5.2" fill="#d04e73"/>
<circle cx="434.4" cy="510.5" r="5.2" fill="#b32d8e"/>
<circle cx="359.0" cy="449.3" r="5.2" fill="#df6363"/>
<circle cx="364.6" cy="460.5" r="5.2" fill="#dd6065"/>
<circle cx="411.7" cy="503.7" r="5.2" fill="#df6263"/>
<circle cx="330.7" cy="417.4" r="5.2" fill="#ec7754"/>
<circle cx="397.0" cy="456.6" r="5.2" fill="#dc5d67"/>
<circle cx="451.9" cy="523.6" r="5.2" fill="#cd4a76"/>
<circle cx="369.6" cy="431.9" r="5.2" fill="#f2864a"/>
<circle cx="383.3" cy="452.9" r="5.2" fill="#cc4977"/>
<circle cx="405.0" cy="532.5" r="5.2" fill="#c13b82"/>
<circle cx="386.1" cy="506.9" r="5.2" fill="#d5536e"/>
<circle cx="433.0" cy="527.5" r="5.2" fill="#8b0ea2"/>
<circle cx="440.4" cy="484.9" r="5.2" fill="#7704a7"/>
<circle cx="419.6" cy="462.1" r="5.2" fill="#cb4878"/>
<circle cx="400.9" cy="441.5" r="5.2" fill="#de6064"/>
<circle cx="387.4" cy="488.8" r="5.2" fill="#d7566c"/>
<circle cx="433.7" cy="485.8" r="5.2" fill="#e3695e"/>
<circle cx="381.2" cy="492.4" r="5.2" fill="#d6556d"/>
<circle cx="375.2" cy="456.6" r="5.2" fill="#eb7655"/>
<circle cx="420.3" cy="545.4" r="5.2" fill="#c6427d"/>
<circle cx="308.0" cy="379.2" r="5.2" fill="#b12b8f"/>
<circle cx="395.0" cy="452.2" r="5.2" fill="#e06461"/>
<circle cx="290.6" cy="466.7" r="5.2" fill="#7a05a6"/>
<circle cx="398.5" cy="538.0" r="5.2" fill="#a41f98"/>
<circle cx="288.8" cy="474.2" r="5.2" fill="#6c01a7"/>
<circle cx="379.5" cy="428.3" r="5.2" fill="#d04e73"/>
<circle cx="426.6" cy="518.2" r="5.2" fill="#c13c82"/>
<circle cx="420.0" cy="489.3" r="5.2" fill="#cb4878"/>
<circle cx="481.9" cy="525.0" r="5.2" fill="#b02b8f"/>
<circle cx="361.4" cy="473.2" r="5.2" fill="#cd4a76"/>
<circle cx="383.7" cy="516.8" r="5.2" fill="#dc5e66"/>
<circle cx="291.1" cy="510.5" r="5.2" fill="#aa2594"/>
<circle cx="441.8" cy="530.5" r="5.2" fill="#ee7b52"/>
<circle cx="297.2" cy="410.3" r="5.2" fill="#7c06a6"/>
<circle cx="351.0" cy="453.0" r="5.2" fill="#ed7953"/>
<circle cx="394.7" cy="473.1" r="5.2" fill="#d4526f"/>
<circle cx="377.5" cy="528.4" r="5.2" fill="#c23d81"/>
<circle cx="339.5" cy="401.3" r="5.2" fill="#bd3786"/>
<circle cx="405.0" cy="499.0" r="5.2" fill="#cd4a76"/>
<circle cx="354.1" cy="440.8" r="5.2" fill="#ee7b52"/>
<circle cx="285.7" cy="476.5" r="5.2" fill="#7402a8"/>
<circle cx="480.6" cy="532.6" r="5.2" fill="#a62197"/>
<circle cx="330.3" cy="477.9" r="5.2" fill="#d35170"/>
<circle cx="358.7" cy="456.0" r="5.2" fill="#f79342"/>
<circle cx="394.5" cy="539.1" r="5.2" fill="#b52f8c"/>
<circle cx="378.9" cy="431.7" r="5.2" fill="#db5b68"/>
<circle cx="353.9" cy="476.5" r="5.2" fill="#a72196"/>
<circle cx="314.4" cy="474.6" r="5.2" fill="#8109a4"/>
<circle cx="401.1" cy="484.6" r="5.2" fill="#c9457a"/>
<circle cx="325.7" cy="482.3" r="5.2" fill="#e06362"/>
<circle cx="362.5" cy="496.8" r="5.2" fill="#c6427d"/>
<circle cx="387.6" cy="538.8" r="5.2" fill="#c7427c"/>
<circle cx="297.9" cy="516.2" r="5.2" fill="#b8328a"/>
<circle cx="486.9" cy="538.7" r="5.2" fill="#be3885"/>
<circle cx="322.5" cy="410.4" r="5.2" fill="#890da2"/>
<circle cx="519.4" cy="542.6" r="5.2" fill="#a72296"/>
<circle cx="308.3" cy="420.9" r="5.2" fill="#fba736"/>
<circle cx="426.5" cy="477.7" r="5.2" fill="#fba239"/>
<circle cx="443.9" cy="507.1" r="5.2" fill="#c33e80"/>
<circle cx="279.4" cy="527.0" r="5.2" fill="#ba3488"/>
<circle cx="361.0" cy="412.5" r="5.2" fill="#ed7853"/>
<circle cx="353.9" cy="434.9" r="5.2" fill="#dd5f65"/>
<circle cx="474.6" cy="520.0" r="5.2" fill="#b6308b"/>
<circle cx="387.1" cy="467.5" r="5.2" fill="#e3685f"/>
<circle cx="426.8" cy="492.1" r="5.2" fill="#9212a0"/>
<circle cx="398.2" cy="467.7" r="5.2" fill="#e16661"/>
<circle cx="424.3" cy="462.8" r="5.2" fill="#df6264"/>
<circle cx="466.6" cy="527.7" r="5.2" fill="#7402a7"/>
<circle cx="369.0" cy="491.5" r="5.2" fill="#da5a69"/>
<circle cx="330.7" cy="449.9" r="5.2" fill="#e87059"/>
<circle cx="311.0" cy="517.4" r="5.2" fill="#370498"/>
<circle cx="441.8" cy="523.4" r="5.2" fill="#c5417e"/>
<circle cx="398.1" cy="513.3" r="5.2" fill="#e77059"/>
<circle cx="390.6" cy="435.0" r="5.2" fill="#d8576b"/>
<circle cx="311.9" cy="427.9" r="5.2" fill="#fcab34"/>
<circle cx="336.2" cy="416.2" r="5.2" fill="#ea7457"/>
<circle cx="371.8" cy="477.0" r="5.2" fill="#d4526f"/>
<circle cx="391.0" cy="438.7" r="5.2" fill="#e16561"/>
<circle cx="416.9" cy="510.9" r="5.2" fill="#b7318b"/>
<circle cx="438.4" cy="521.8" r="5.2" fill="#c5417e"/>
<circle cx="415.0" cy="538.4" r="5.2" fill="#c8447b"/>
<circle cx="297.6" cy="426.8" r="5.2" fill="#8109a4"/>
<circle cx="408.2" cy="465.7" r="5.2" fill="#cf4c74"/>
<circle cx="386.8" cy="521.6" r="5.2" fill="#d5536e"/>
<circle cx="364.4" cy="465.9" r="5.2" fill="#d4526f"/>
<circle cx="292.9" cy="470.1" r="5.2" fill="#7804a7"/>
<circle cx="441.2" cy="542.7" r="5.2" fill="#ae2991"/>
<circle cx="348.3" cy="406.5" r="5.2" fill="#b93389"/>
<circle cx="306.9" cy="545.3" r="5.2" fill="#5003a1"/>
<circle cx="372.7" cy="517.8" r="5.2" fill="#b5308c"/>
<circle cx="284.0" cy="469.8" r="5.2" fill="#be3885"/>
<circle cx="315.2" cy="494.8" r="5.2" fill="#6202a5"/>
<circle cx="492.1" cy="542.0" r="5.2" fill="#c5417e"/>
<circle cx="358.3" cy="467.7" r="5.2" fill="#c7437c"/>
<circle cx="335.9" cy="525.6" r="5.2" fill="#ba3488"/>
<circle cx="368.1" cy="436.9" r="5.2" fill="#f2874a"/>
<circle cx="329.8" cy="529.2" r="5.2" fill="#9011a1"/>
<circle cx="321.8" cy="398.6" r="5.2" fill="#fccf25"/>
<circle cx="376.2" cy="502.5" r="5.2" fill="#c6427d"/>
<circle cx="341.0" cy="531.7" r="5.2" fill="#6302a5"/>
<circle cx="347.3" cy="426.8" r="5.2" fill="#df6363"/>
<circle cx="361.3" cy="530.8" r="5.2" fill="#b12b8f"/>
<circle cx="287.4" cy="442.4" r="5.2" fill="#e76f5a"/>
<circle cx="355.1" cy="401.1" r="5.2" fill="#f8983f"/>
<circle cx="422.5" cy="513.6" r="5.2" fill="#b02a90"/>
<circle cx="348.8" cy="488.0" r="5.2" fill="#7f08a5"/>
<circle cx="394.3" cy="484.1" r="5.2" fill="#dd6065"/>
<circle cx="278.3" cy="444.2" r="5.2" fill="#e06362"/>
<circle cx="292.4" cy="509.3" r="5.2" fill="#a11c9a"/>
<circle cx="365.2" cy="388.3" r="5.2" fill="#96149f"/>
<circle cx="443.6" cy="514.6" r="5.2" fill="#d35170"/>
<circle cx="306.9" cy="385.0" r="5.2" fill="#a52097"/>
<circle cx="377.2" cy="477.6" r="5.2" fill="#d25071"/>
<circle cx="340.4" cy="441.1" r="5.2" fill="#db5c68"/>
<circle cx="333.3" cy="477.9" r="5.2" fill="#dc5d66"/>
<circle cx="347.7" cy="449.5" r="5.2" fill="#5a02a3"/>
<circle cx="326.5" cy="404.7" r="5.2" fill="#b83289"/>
<circle cx="377.1" cy="509.0" r="5.2" fill="#d04d73"/>
<circle cx="343.0" cy="491.0" r="5.2" fill="#5302a2"/>
<circle cx="387.0" cy="470.3" r="5.2" fill="#e16660"/>
<circle cx="426.4" cy="473.4" r="5.2" fill="#bf3984"/>
<circle cx="466.5" cy="517.8" r="5.2" fill="#7b06a6"/>
<circle cx="383.1" cy="543.4" r="5.2" fill="#a92395"/>
<circle cx="433.1" cy="496.7" r="5.2" fill="#9413a0"/>
<circle cx="300.1" cy="542.8" r="5.2" fill="#5003a1"/>
<circle cx="398.5" cy="519.9" r="5.2" fill="#c5417e"/>
<circle cx="345.0" cy="419.3" r="5.2" fill="#6d01a7"/>
<circle cx="353.7" cy="422.8" r="5.2" fill="#f1854b"/>
<circle cx="419.1" cy="467.9" r="5.2" fill="#b32d8d"/>
<circle cx="431.2" cy="501.9" r="5.2" fill="#c7437c"/>
<circle cx="433.5" cy="538.6" r="5.2" fill="#bc3687"/>
<circle cx="318.3" cy="475.2" r="5.2" fill="#6c01a7"/>
<circle cx="318.8" cy="391.0" r="5.2" fill="#fbd025"/>
<circle cx="319.7" cy="525.2" r="5.2" fill="#a92395"/>
<circle cx="312.3" cy="484.7" r="5.2" fill="#7001a8"/>
<circle cx="351.7" cy="354.9" r="5.2" fill="#97159f"/>
<circle cx="399.0" cy="503.2" r="5.2" fill="#ca4679"/>
<circle cx="354.6" cy="473.6" r="5.2" fill="#6b01a7"/>
<circle cx="430.8" cy="492.1" r="5.2" fill="#de6164"/>
<circle cx="276.0" cy="427.1" r="5.2" fill="#e56c5c"/>
<circle cx="436.9" cy="484.0" r="5.2" fill="#e97357"/>
<circle cx="365.3" cy="392.3" r="5.2" fill="#6b01a7"/>
<circle cx="315.0" cy="520.2" r="5.2" fill="#9413a0"/>
<circle cx="366.2" cy="516.6" r="5.2" fill="#bd3786"/>
<circle cx="406.3" cy="488.3" r="5.2" fill="#d6546d"/>
<circle cx="447.9" cy="496.0" r="5.2" fill="#9c179e"/>
<circle cx="303.6" cy="484.1" r="5.2" fill="#820aa4"/>
<circle cx="303.5" cy="518.3" r="5.2" fill="#6b01a7"/>
<circle cx="347.0" cy="415.6" r="5.2" fill="#ed7a53"/>
<circle cx="304.2" cy="543.4" r="5.2" fill="#8209a4"/>
<circle cx="390.2" cy="416.3" r="5.2" fill="#cf4d74"/>
<circle cx="289.6" cy="538.4" r="5.2" fill="#7603a7"/>
<circle cx="296.8" cy="513.3" r="5.2" fill="#be3985"/>
<circle cx="311.1" cy="502.4" r="5.2" fill="#6901a6"/>
<circle cx="433.0" cy="513.7" r="5.2" fill="#c5407e"/>
<circle cx="321.4" cy="413.5" r="5.2" fill="#a01b9b"/>
<circle cx="358.0" cy="485.1" r="5.2" fill="#8d0fa2"/>
<circle cx="445.7" cy="502.7" r="5.2" fill="#b93389"/>
<circle cx="353.7" cy="456.6" r="5.2" fill="#6702a6"/>
<circle cx="386.6" cy="481.5" r="5.2" fill="#db5c68"/>
<circle cx="380.5" cy="520.6" r="5.2" fill="#cd4a76"/>
<circle cx="310.4" cy="491.3" r="5.2" fill="#7d07a5"/>
<circle cx="319.1" cy="484.8" r="5.2" fill="#d6556d"/>
<circle cx="455.4" cy="491.2" r="5.2" fill="#8008a5"/>
<circle cx="301.3" cy="513.2" r="5.2" fill="#b6308b"/>
<circle cx="388.2" cy="523.4" r="5.2" fill="#d4536f"/>
<circle cx="301.7" cy="409.1" r="5.2" fill="#7f08a5"/>
<circle cx="380.8" cy="462.2" r="5.2" fill="#df6362"/>
<circle cx="296.5" cy="534.2" r="5.2" fill="#7e07a5"/>
<circle cx="347.0" cy="542.3" r="5.2" fill="#340597"/>
<circle cx="398.5" cy="473.3" r="5.2" fill="#dc5d67"/>
<circle cx="325.5" cy="463.4" r="5.2" fill="#6c01a7"/>
<circle cx="378.9" cy="469.3" r="5.2" fill="#e26760"/>
<circle cx="422.6" cy="466.4" r="5.2" fill="#d7566c"/>
<circle cx="430.9" cy="476.4" r="5.2" fill="#ee7b51"/>
<circle cx="415.9" cy="496.0" r="5.2" fill="#d4526f"/>
<circle cx="391.9" cy="406.5" r="5.2" fill="#c23d81"/>
<circle cx="358.6" cy="471.1" r="5.2" fill="#e16660"/>
<circle cx="483.3" cy="525.3" r="5.2" fill="#c43f7f"/>
<circle cx="373.1" cy="488.3" r="5.2" fill="#e87158"/>
<circle cx="344.4" cy="527.0" r="5.2" fill="#a21c9a"/>
<circle cx="342.8" cy="521.3" r="5.2" fill="#af2a90"/>
<circle cx="384.0" cy="491.3" r="5.2" fill="#c33e80"/>
<circle cx="332.8" cy="538.9" r="5.2" fill="#c8447b"/>
<circle cx="304.8" cy="509.8" r="5.2" fill="#7302a8"/>
<circle cx="455.3" cy="519.9" r="5.2" fill="#ee7c51"/>
<circle cx="477.5" cy="524.3" r="5.2" fill="#b6308b"/>
<circle cx="426.4" cy="466.7" r="5.2" fill="#aa2593"/>
<circle cx="416.2" cy="507.1" r="5.2" fill="#c23d81"/>
<circle cx="376.6" cy="484.9" r="5.2" fill="#d4526f"/>
<circle cx="379.9" cy="398.2" r="5.2" fill="#e66e5b"/>
<circle cx="339.7" cy="430.1" r="5.2" fill="#9111a1"/>
<circle cx="470.3" cy="527.0" r="5.2" fill="#7603a7"/>
<circle cx="296.6" cy="423.9" r="5.2" fill="#7503a7"/>
<circle cx="364.4" cy="470.7" r="5.2" fill="#c7427c"/>
<circle cx="408.6" cy="469.6" r="5.2" fill="#a01b9b"/>
<circle cx="448.7" cy="498.5" r="5.2" fill="#bc3686"/>
<circle cx="390.7" cy="513.5" r="5.2" fill="#cc4977"/>
<circle cx="314.3" cy="366.4" r="5.2" fill="#fcae33"/>
<circle cx="298.4" cy="532.5" r="5.2" fill="#6502a5"/>
<circle cx="404.9" cy="437.3" r="5.2" fill="#d7566c"/>
<circle cx="377.0" cy="431.4" r="5.2" fill="#da5a69"/>
<circle cx="383.0" cy="496.5" r="5.2" fill="#c7437c"/>
<circle cx="326.7" cy="441.0" r="5.2" fill="#de6064"/>
<circle cx="304.2" cy="478.5" r="5.2" fill="#6901a6"/>
<circle cx="420.5" cy="543.2" r="5.2" fill="#d04d73"/>
<circle cx="301.0" cy="527.7" r="5.2" fill="#7804a7"/>
<circle cx="377.4" cy="440.5" r="5.2" fill="#df6363"/>
<circle cx="292.8" cy="433.3" r="5.2" fill="#6a01a6"/>
<circle cx="340.2" cy="488.5" r="5.2" fill="#a11c9b"/>
<circle cx="353.7" cy="499.3" r="5.2" fill="#d5536e"/>
<circle cx="350.3" cy="430.8" r="5.2" fill="#e76f5a"/>
<circle cx="373.1" cy="419.9" r="5.2" fill="#df6363"/>
<circle cx="368.0" cy="445.3" r="5.2" fill="#ed7953"/>
<circle cx="314.5" cy="523.4" r="5.2" fill="#380499"/>
<circle cx="424.2" cy="538.0" r="5.2" fill="#cb4878"/>
<circle cx="358.6" cy="413.1" r="5.2" fill="#ed7a52"/>
<circle cx="412.5" cy="481.8" r="5.2" fill="#be3885"/>
<circle cx="390.3" cy="469.6" r="5.2" fill="#db5d67"/>
<circle cx="379.8" cy="416.0" r="5.2" fill="#f99b3d"/>
<circle cx="424.0" cy="473.4" r="5.2" fill="#ea7456"/>
<circle cx="296.7" cy="538.6" r="5.2" fill="#6702a6"/>
<circle cx="305.5" cy="399.1" r="5.2" fill="#a31e99"/>
<circle cx="387.1" cy="462.0" r="5.2" fill="#da5a69"/>
<circle cx="368.5" cy="386.6" r="5.2" fill="#b93389"/>
<circle cx="415.2" cy="469.5" r="5.2" fill="#d14f72"/>
<circle cx="325.5" cy="524.5" r="5.2" fill="#9212a0"/>
<circle cx="278.7" cy="499.8" r="5.2" fill="#b7318a"/>
<circle cx="443.7" cy="539.8" r="5.2" fill="#9f1a9c"/>
<circle cx="358.0" cy="416.7" r="5.2" fill="#ea7456"/>
<circle cx="348.4" cy="530.5" r="5.2" fill="#b7318a"/>
<circle cx="436.6" cy="525.1" r="5.2" fill="#ca4679"/>
<circle cx="459.0" cy="543.0" r="5.2" fill="#b83289"/>
<circle cx="325.9" cy="475.2" r="5.2" fill="#d35170"/>
<circle cx="495.6" cy="535.8" r="5.2" fill="#c5417e"/>
<circle cx="375.7" cy="506.4" r="5.2" fill="#c5407e"/>
<circle cx="286.1" cy="489.0" r="5.2" fill="#b12c8f"/>
<circle cx="364.6" cy="412.5" r="5.2" fill="#ec7754"/>
<circle cx="376.3" cy="416.2" r="5.2" fill="#f1844c"/>
<circle cx="315.3" cy="451.7" r="5.2" fill="#96149f"/>
<circle cx="314.1" cy="481.6" r="5.2" fill="#6402a5"/>
<circle cx="407.6" cy="477.6" r="5.2" fill="#c4407f"/>
<circle cx="401.7" cy="490.9" r="5.2" fill="#cd4a76"/>
<circle cx="330.0" cy="362.3" r="5.2" fill="#f2864b"/>
<circle cx="408.6" cy="516.2" r="5.2" fill="#c23d81"/>
<circle cx="354.6" cy="532.0" r="5.2" fill="#c6427d"/>
<circle cx="506.5" cy="542.4" r="5.2" fill="#a41f98"/>
<circle cx="394.3" cy="431.6" r="5.2" fill="#d04e73"/>
<circle cx="297.2" cy="481.6" r="5.2" fill="#7201a8"/>
<circle cx="389.7" cy="483.9" r="5.2" fill="#db5b68"/>
<circle cx="305.1" cy="528.4" r="5.2" fill="#6c01a7"/>
<circle cx="332.1" cy="354.7" r="5.2" fill="#f8983f"/>
<circle cx="297.1" cy="420.2" r="5.2" fill="#fcbb2d"/>
<circle cx="387.3" cy="433.7" r="5.2" fill="#d6556d"/>
<circle cx="337.2" cy="482.3" r="5.2" fill="#c33e80"/>
<circle cx="365.1" cy="440.6" r="5.2" fill="#f38849"/>
<circle cx="301.8" cy="401.6" r="5.2" fill="#fcb530"/>
<circle cx="319.1" cy="354.6" r="5.2" fill="#fad425"/>
<circle cx="394.3" cy="441.0" r="5.2" fill="#e46a5e"/>
<circle cx="447.3" cy="505.8" r="5.2" fill="#a21c9a"/>
<circle cx="394.9" cy="506.5" r="5.2" fill="#d14f72"/>
<circle cx="335.6" cy="434.3" r="5.2" fill="#7e07a5"/>
<circle cx="362.7" cy="439.0" r="5.2" fill="#ec7754"/>
<circle cx="344.0" cy="447.9" r="5.2" fill="#e97258"/>
<circle cx="369.1" cy="404.9" r="5.2" fill="#fba338"/>
<circle cx="503.4" cy="538.0" r="5.2" fill="#ae2891"/>
<circle cx="286.4" cy="510.9" r="5.2" fill="#b7318a"/>
<circle cx="387.5" cy="429.7" r="5.2" fill="#cf4d74"/>
<circle cx="294.4" cy="439.0" r="5.2" fill="#a92395"/>
<circle cx="316.0" cy="532.2" r="5.2" fill="#8c0fa2"/>
<circle cx="368.1" cy="537.9" r="5.2" fill="#b32d8d"/>
<circle cx="319.9" cy="489.5" r="5.2" fill="#6901a6"/>
<circle cx="355.7" cy="359.2" r="5.2" fill="#9212a0"/>
<circle cx="332.1" cy="534.8" r="5.2" fill="#6b01a7"/>
<circle cx="359.4" cy="530.5" r="5.2" fill="#7f08a5"/>
<circle cx="312.4" cy="473.0" r="5.2" fill="#7402a8"/>
<circle cx="404.2" cy="449.6" r="5.2" fill="#e56c5c"/>
<circle cx="454.8" cy="512.9" r="5.2" fill="#a01b9b"/>
<circle cx="382.7" cy="398.9" r="5.2" fill="#e56c5c"/>
<circle cx="288.9" cy="423.8" r="5.2" fill="#fba736"/>
<circle cx="466.8" cy="513.0" r="5.2" fill="#ad2891"/>
<circle cx="362.4" cy="387.6" r="5.2" fill="#6801a6"/>
<circle cx="391.5" cy="419.6" r="5.2" fill="#f99a3d"/>
<circle cx="498.4" cy="530.6" r="5.2" fill="#b93389"/>
<circle cx="372.1" cy="499.2" r="5.2" fill="#c5407e"/>
<circle cx="337.0" cy="453.3" r="5.2" fill="#6602a5"/>
<circle cx="317.7" cy="510.5" r="5.2" fill="#8109a4"/>
<circle cx="332.6" cy="527.2" r="5.2" fill="#a82395"/>
<circle cx="369.0" cy="483.7" r="5.2" fill="#c9457a"/>
<circle cx="316.1" cy="537.9" r="5.2" fill="#8d0fa2"/>
<circle cx="341.6" cy="476.9" r="5.2" fill="#d5546e"/>
<circle cx="357.3" cy="498.5" r="5.2" fill="#d5536e"/>
<circle cx="330.6" cy="428.2" r="5.2" fill="#97149f"/>
<circle cx="391.8" cy="535.3" r="5.2" fill="#a92494"/>
<circle cx="379.7" cy="391.7" r="5.2" fill="#ef7e50"/>
<circle cx="340.0" cy="523.4" r="5.2" fill="#a21d99"/>
<circle cx="389.9" cy="451.2" r="5.2" fill="#da5a69"/>
<circle cx="399.0" cy="451.9" r="5.2" fill="#e66d5b"/>
<circle cx="307.3" cy="442.5" r="5.2" fill="#6701a6"/>
<circle cx="376.0" cy="448.6" r="5.2" fill="#e56b5d"/>
<circle cx="487.8" cy="528.2" r="5.2" fill="#a52097"/>
<circle cx="290.1" cy="528.0" r="5.2" fill="#8d0fa1"/>
<circle cx="344.6" cy="452.0" r="5.2" fill="#5e02a4"/>
<circle cx="292.9" cy="459.7" r="5.2" fill="#6102a5"/>
<circle cx="293.5" cy="463.9" r="5.2" fill="#9c179e"/>
<circle cx="340.4" cy="453.2" r="5.2" fill="#6d01a7"/>
<circle cx="366.8" cy="426.8" r="5.2" fill="#e97258"/>
<circle cx="304.4" cy="451.6" r="5.2" fill="#6502a5"/>
<circle cx="322.7" cy="430.0" r="5.2" fill="#fcb530"/>
<circle cx="332.7" cy="460.3" r="5.2" fill="#6801a6"/>
<circle cx="409.1" cy="433.6" r="5.2" fill="#7d07a5"/>
<circle cx="366.2" cy="431.5" r="5.2" fill="#e87159"/>
<circle cx="342.9" cy="390.2" r="5.2" fill="#7804a6"/>
<circle cx="436.6" cy="491.4" r="5.2" fill="#c23d81"/>
<circle cx="322.0" cy="466.7" r="5.2" fill="#7804a6"/>
<circle cx="311.0" cy="431.4" r="5.2" fill="#8b0ea2"/>
<circle cx="329.3" cy="491.5" r="5.2" fill="#7302a8"/>
<circle cx="329.6" cy="431.6" r="5.2" fill="#e46b5d"/>
<circle cx="470.0" cy="535.5" r="5.2" fill="#d4526f"/>
<circle cx="406.3" cy="433.6" r="5.2" fill="#7905a6"/>
<circle cx="386.4" cy="398.3" r="5.2" fill="#e06462"/>
<circle cx="303.6" cy="394.2" r="5.2" fill="#6202a5"/>
<circle cx="312.8" cy="531.0" r="5.2" fill="#9413a0"/>
<circle cx="398.2" cy="441.1" r="5.2" fill="#da5a69"/>
<circle cx="405.7" cy="525.3" r="5.2" fill="#ca4679"/>
<circle cx="355.2" cy="426.4" r="5.2" fill="#ea7456"/>
<circle cx="285.7" cy="474.7" r="5.2" fill="#c43f7f"/>
<circle cx="332.7" cy="514.3" r="5.2" fill="#ae2891"/>
<circle cx="394.1" cy="489.2" r="5.2" fill="#da5a69"/>
<circle cx="322.7" cy="415.9" r="5.2" fill="#9c179e"/>
<circle cx="498.5" cy="535.7" r="5.2" fill="#c6417d"/>
<circle cx="452.4" cy="499.6" r="5.2" fill="#7704a7"/>
<circle cx="420.8" cy="457.0" r="5.2" fill="#f9993e"/>
<circle cx="437.1" cy="531.9" r="5.2" fill="#9a169e"/>
<circle cx="391.7" cy="455.9" r="5.2" fill="#da5a69"/>
<circle cx="409.8" cy="509.9" r="5.2" fill="#ce4b75"/>
<circle cx="368.3" cy="452.7" r="5.2" fill="#eb7655"/>
<circle cx="386.7" cy="542.1" r="5.2" fill="#b02b8f"/>
<circle cx="330.1" cy="513.7" r="5.2" fill="#96149f"/>
<circle cx="304.6" cy="481.2" r="5.2" fill="#7101a8"/>
<circle cx="297.0" cy="434.9" r="5.2" fill="#7905a6"/>
<circle cx="416.9" cy="445.8" r="5.2" fill="#f9993e"/>
<circle cx="420.3" cy="512.7" r="5.2" fill="#99159f"/>
<circle cx="492.5" cy="528.9" r="5.2" fill="#ab2593"/>
<circle cx="336.9" cy="513.9" r="5.2" fill="#ac2792"/>
<circle cx="334.1" cy="435.2" r="5.2" fill="#a72196"/>
<circle cx="310.9" cy="488.0" r="5.2" fill="#7201a8"/>
<circle cx="389.7" cy="507.4" r="5.2" fill="#ce4b75"/>
<circle cx="297.5" cy="492.0" r="5.2" fill="#6c01a7"/>
<circle cx="408.8" cy="527.3" r="5.2" fill="#cb4878"/>
<circle cx="311.6" cy="442.5" r="5.2" fill="#7201a8"/>
<circle cx="426.5" cy="480.5" r="5.2" fill="#c6427d"/>
<circle cx="285.6" cy="463.2" r="5.2" fill="#e36a5e"/>
<circle cx="325.9" cy="437.3" r="5.2" fill="#8d0fa2"/>
<circle cx="339.3" cy="536.4" r="5.2" fill="#5d02a4"/>
<circle cx="309.2" cy="510.5" r="5.2" fill="#4a03a0"/>
<circle cx="305.2" cy="491.7" r="5.2" fill="#6602a6"/>
<circle cx="420.3" cy="535.8" r="5.2" fill="#bd3786"/>
<circle cx="395.5" cy="532.3" r="5.2" fill="#ce4b75"/>
<circle cx="352.4" cy="467.1" r="5.2" fill="#da5a69"/>
<circle cx="314.1" cy="489.0" r="5.2" fill="#7c06a6"/>
<circle cx="434.6" cy="531.8" r="5.2" fill="#a72296"/>
<circle cx="372.9" cy="543.6" r="5.2" fill="#97149f"/>
<circle cx="318.9" cy="460.0" r="5.2" fill="#6502a5"/>
<circle cx="362.3" cy="426.3" r="5.2" fill="#e87159"/>
<circle cx="408.3" cy="484.8" r="5.2" fill="#cb4878"/>
<circle cx="309.0" cy="434.8" r="5.2" fill="#7d07a5"/>
<circle cx="336.4" cy="473.5" r="5.2" fill="#f28849"/>
<circle cx="275.7" cy="419.3" r="5.2" fill="#9111a1"/>
<circle cx="400.9" cy="456.8" r="5.2" fill="#e76f5a"/>
<circle cx="328.5" cy="474.2" r="5.2" fill="#d8586a"/>
<circle cx="415.9" cy="520.3" r="5.2" fill="#cb4878"/>
<circle cx="480.7" cy="535.1" r="5.2" fill="#c33f80"/>
<circle cx="373.0" cy="452.8" r="5.2" fill="#e16660"/>
<circle cx="440.1" cy="512.8" r="5.2" fill="#d35170"/>
<circle cx="474.0" cy="524.9" r="5.2" fill="#6a01a6"/>
<circle cx="301.2" cy="423.6" r="5.2" fill="#f1844c"/>
<circle cx="339.6" cy="413.0" r="5.2" fill="#7301a8"/>
<circle cx="285.7" cy="466.1" r="5.2" fill="#bc3687"/>
<circle cx="307.8" cy="445.3" r="5.2" fill="#7001a8"/>
<circle cx="305.0" cy="402.3" r="5.2" fill="#6f01a7"/>
<circle cx="437.5" cy="494.6" r="5.2" fill="#b52f8c"/>
<circle cx="397.6" cy="485.5" r="5.2" fill="#cb4778"/>
<circle cx="326.7" cy="471.2" r="5.2" fill="#e06462"/>
<circle cx="355.1" cy="487.5" r="5.2" fill="#9111a1"/>
<circle cx="395.3" cy="510.0" r="5.2" fill="#d7566c"/>
<circle cx="372.3" cy="481.4" r="5.2" fill="#ca4779"/>
<circle cx="354.8" cy="545.0" r="5.2" fill="#6102a4"/>
<circle cx="291.0" cy="503.7" r="5.2" fill="#a62197"/>
<circle cx="317.9" cy="445.3" r="5.2" fill="#7301a8"/>
<circle cx="282.8" cy="426.6" r="5.2" fill="#d14e72"/>
<circle cx="297.7" cy="505.6" r="5.2" fill="#6302a5"/>
<circle cx="337.6" cy="487.5" r="5.2" fill="#b02a8f"/>
<circle cx="289.6" cy="435.5" r="5.2" fill="#e76f5a"/>
<circle cx="437.7" cy="503.3" r="5.2" fill="#c03b83"/>
<circle cx="337.7" cy="539.9" r="5.2" fill="#6202a5"/>
<circle cx="311.2" cy="539.7" r="5.2" fill="#840ba4"/>
<circle cx="347.2" cy="431.4" r="5.2" fill="#e66e5b"/>
<circle cx="375.6" cy="459.6" r="5.2" fill="#da5b68"/>
<circle cx="286.5" cy="431.9" r="5.2" fill="#e3695e"/>
<circle cx="375.5" cy="388.0" r="5.2" fill="#b42f8c"/>
<circle cx="337.7" cy="442.0" r="5.2" fill="#e3695e"/>
<circle cx="400.7" cy="506.8" r="5.2" fill="#c6417d"/>
<circle cx="323.0" cy="509.1" r="5.2" fill="#9212a0"/>
<circle cx="383.2" cy="500.4" r="5.2" fill="#340597"/>
<circle cx="508.5" cy="534.0" r="5.2" fill="#bf3984"/>
<circle cx="405.2" cy="451.6" r="5.2" fill="#ea7556"/>
<circle cx="375.6" cy="451.3" r="5.2" fill="#e3685f"/>
<circle cx="376.2" cy="488.7" r="5.2" fill="#d6556d"/>
<circle cx="303.9" cy="520.6" r="5.2" fill="#6701a6"/>
<circle cx="409.7" cy="464.2" r="5.2" fill="#d4536f"/>
<circle cx="354.6" cy="539.9" r="5.2" fill="#ad2891"/>
<circle cx="339.3" cy="475.2" r="5.2" fill="#c23c81"/>
<circle cx="359.2" cy="427.5" r="5.2" fill="#e56c5c"/>
<circle cx="447.5" cy="503.9" r="5.2" fill="#bb3587"/>
<circle cx="337.1" cy="529.0" r="5.2" fill="#c5417e"/>
<circle cx="325.6" cy="478.7" r="5.2" fill="#6e01a7"/>
<circle cx="283.6" cy="485.2" r="5.2" fill="#7001a8"/>
<circle cx="354.9" cy="431.1" r="5.2" fill="#dc5d67"/>
<circle cx="300.4" cy="413.3" r="5.2" fill="#8008a5"/>
<circle cx="336.0" cy="438.1" r="5.2" fill="#e06362"/>
<circle cx="362.5" cy="416.1" r="5.2" fill="#e87159"/>
<circle cx="365.2" cy="447.9" r="5.2" fill="#e46a5d"/>
<circle cx="409.1" cy="530.6" r="5.2" fill="#c23d81"/>
<circle cx="433.6" cy="545.1" r="5.2" fill="#c13b82"/>
<circle cx="427.7" cy="510.3" r="5.2" fill="#b52f8c"/>
<circle cx="310.7" cy="467.2" r="5.2" fill="#7402a7"/>
<circle cx="517.9" cy="542.6" r="5.2" fill="#8e10a1"/>
<circle cx="397.5" cy="433.3" r="5.2" fill="#d24f71"/>
<circle cx="408.2" cy="441.3" r="5.2" fill="#f0824d"/>
<circle cx="345.1" cy="465.7" r="5.2" fill="#d7566c"/>
<circle cx="361.9" cy="518.1" r="5.2" fill="#c7427c"/>
<circle cx="308.3" cy="505.7" r="5.2" fill="#6c01a7"/>
<circle cx="347.5" cy="513.8" r="5.2" fill="#8d0fa1"/>
<circle cx="348.5" cy="386.8" r="5.2" fill="#4a03a0"/>
<circle cx="384.7" cy="421.0" r="5.2" fill="#f79441"/>
<circle cx="322.5" cy="405.1" r="5.2" fill="#fccd26"/>
<circle cx="350.0" cy="498.8" r="5.2" fill="#ca4679"/>
<circle cx="391.1" cy="492.7" r="5.2" fill="#dd5f65"/>
<circle cx="391.9" cy="521.1" r="5.2" fill="#d35170"/>
<circle cx="466.3" cy="535.8" r="5.2" fill="#b8328a"/>
<circle cx="422.3" cy="477.8" r="5.2" fill="#e46a5d"/>
<circle cx="447.7" cy="542.9" r="5.2" fill="#ab2593"/>
<circle cx="430.3" cy="530.8" r="5.2" fill="#a11c9a"/>
<circle cx="289.6" cy="494.8" r="5.2" fill="#7503a7"/>
<circle cx="423.2" cy="488.5" r="5.2" fill="#c4407f"/>
<circle cx="404.7" cy="496.7" r="5.2" fill="#d6546d"/>
<circle cx="293.3" cy="449.4" r="5.2" fill="#8209a4"/>
<circle cx="373.7" cy="456.1" r="5.2" fill="#f0804e"/>
<circle cx="348.4" cy="482.4" r="5.2" fill="#97149f"/>
<circle cx="366.1" cy="542.5" r="5.2" fill="#c7437c"/>
<circle cx="337.3" cy="469.4" r="5.2" fill="#d6556d"/>
<circle cx="339.9" cy="503.4" r="5.2" fill="#c13b82"/>
<circle cx="279.3" cy="513.6" r="5.2" fill="#b22c8e"/>
<circle cx="424.0" cy="495.4" r="5.2" fill="#c03b83"/>
<circle cx="387.2" cy="417.0" r="5.2" fill="#fcae33"/>
<circle cx="400.6" cy="513.0" r="5.2" fill="#c43f7f"/>
<circle cx="382.7" cy="395.0" r="5.2" fill="#f89740"/>
<circle cx="287.1" cy="437.0" r="5.2" fill="#da5b68"/>
<circle cx="401.6" cy="534.5" r="5.2" fill="#a01b9b"/>
<circle cx="413.6" cy="498.1" r="5.2" fill="#d14f72"/>
<circle cx="341.4" cy="449.5" r="5.2" fill="#5c02a4"/>
<circle cx="373.6" cy="511.1" r="5.2" fill="#c8447b"/>
<circle cx="411.4" cy="532.0" r="5.2" fill="#cf4c74"/>
<circle cx="379.5" cy="542.9" r="5.2" fill="#a62097"/>
<circle cx="322.1" cy="449.9" r="5.2" fill="#7201a8"/>
<circle cx="420.7" cy="521.4" r="5.2" fill="#c13b82"/>
<circle cx="391.1" cy="498.6" r="5.2" fill="#cd4976"/>
<circle cx="322.2" cy="483.8" r="5.2" fill="#7e07a5"/>
<circle cx="365.6" cy="482.1" r="5.2" fill="#dc5e66"/>
<circle cx="326.0" cy="401.7" r="5.2" fill="#fdc927"/>
<circle cx="333.2" cy="488.4" r="5.2" fill="#5a02a3"/>
<circle cx="390.6" cy="464.3" r="5.2" fill="#d9596a"/>
<circle cx="319.3" cy="381.4" r="5.2" fill="#6a01a6"/>
<circle cx="357.3" cy="535.2" r="5.2" fill="#5202a1"/>
<circle cx="351.0" cy="413.9" r="5.2" fill="#6a01a6"/>
<circle cx="343.1" cy="518.1" r="5.2" fill="#b52f8c"/>
<circle cx="371.9" cy="528.4" r="5.2" fill="#b8328a"/>
<circle cx="448.1" cy="537.8" r="5.2" fill="#9111a1"/>
<circle cx="488.3" cy="543.5" r="5.2" fill="#ba3488"/>
<circle cx="376.2" cy="470.4" r="5.2" fill="#e2675f"/>
<circle cx="346.9" cy="436.9" r="5.2" fill="#e06462"/>
<circle cx="388.1" cy="513.0" r="5.2" fill="#e76f5a"/>
<circle cx="297.0" cy="543.1" r="5.2" fill="#5302a2"/>
<circle cx="339.3" cy="521.2" r="5.2" fill="#a01b9b"/>
<circle cx="312.1" cy="500.2" r="5.2" fill="#7d07a5"/>
<circle cx="357.8" cy="496.5" r="5.2" fill="#d35170"/>
<circle cx="345.2" cy="539.6" r="5.2" fill="#5202a1"/>
<circle cx="336.7" cy="484.9" r="5.2" fill="#b5308c"/>
<circle cx="412.9" cy="462.3" r="5.2" fill="#dc5d67"/>
<circle cx="285.9" cy="470.1" r="5.2" fill="#c43f7f"/>
<circle cx="354.5" cy="412.8" r="5.2" fill="#e66e5b"/>
<circle cx="415.6" cy="503.6" r="5.2" fill="#d5546e"/>
<circle cx="314.7" cy="527.6" r="5.2" fill="#6701a6"/>
<circle cx="321.9" cy="453.3" r="5.2" fill="#6f01a7"/>
<circle cx="416.2" cy="438.3" r="5.2" fill="#fa9d3b"/>
<circle cx="285.6" cy="435.6" r="5.2" fill="#e77059"/>
<circle cx="404.4" cy="505.4" r="5.2" fill="#d6556d"/>
<circle cx="286.2" cy="426.9" r="5.2" fill="#d7566c"/>
<circle cx="405.4" cy="521.5" r="5.2" fill="#d04e73"/>
<circle cx="380.1" cy="505.4" r="5.2" fill="#aa2593"/>
<circle cx="369.9" cy="394.1" r="5.2" fill="#f1844c"/>
<circle cx="355.4" cy="451.6" r="5.2" fill="#e26760"/>
<circle cx="494.5" cy="537.7" r="5.2" fill="#c03b83"/>
<circle cx="321.3" cy="527.0" r="5.2" fill="#a72296"/>
<circle cx="401.8" cy="446.3" r="5.2" fill="#f0814e"/>
<circle cx="393.9" cy="470.5" r="5.2" fill="#e06561"/>
<circle cx="339.5" cy="507.2" r="5.2" fill="#850ba4"/>
<circle cx="350.7" cy="423.3" r="5.2" fill="#f2874a"/>
<circle cx="375.5" cy="491.7" r="5.2" fill="#d14e72"/>
<circle cx="368.8" cy="541.9" r="5.2" fill="#8c0fa2"/>
<circle cx="341.0" cy="357.7" r="5.2" fill="#f79540"/>
<circle cx="282.7" cy="513.9" r="5.2" fill="#aa2494"/>
<circle cx="311.3" cy="460.5" r="5.2" fill="#7101a8"/>
<circle cx="296.7" cy="500.3" r="5.2" fill="#7804a6"/>
<circle cx="312.1" cy="507.1" r="5.2" fill="#6e01a7"/>
<circle cx="404.4" cy="510.1" r="5.2" fill="#ce4b75"/>
<circle cx="376.6" cy="538.2" r="5.2" fill="#bb3588"/>
<circle cx="361.5" cy="398.1" r="5.2" fill="#f0814e"/>
<circle cx="307.9" cy="538.3" r="5.2" fill="#6602a5"/>
<circle cx="391.4" cy="538.1" r="5.2" fill="#b42e8d"/>
<circle cx="400.5" cy="495.2" r="5.2" fill="#c4407f"/>
<circle cx="441.2" cy="494.5" r="5.2" fill="#ba3489"/>
<circle cx="354.5" cy="329.4" r="5.2" fill="#a41e98"/>
<circle cx="382.6" cy="444.1" r="5.2" fill="#e56c5c"/>
<circle cx="332.2" cy="454.9" r="5.2" fill="#6b01a7"/>
<circle cx="380.1" cy="442.3" r="5.2" fill="#e87258"/>
<circle cx="330.5" cy="543.0" r="5.2" fill="#96149f"/>
<circle cx="300.3" cy="492.8" r="5.2" fill="#6d01a7"/>
<circle cx="304.4" cy="433.2" r="5.2" fill="#7402a7"/>
<circle cx="441.9" cy="519.8" r="5.2" fill="#bb3587"/>
<circle cx="382.5" cy="441.9" r="5.2" fill="#e97357"/>
<circle cx="398.4" cy="493.0" r="5.2" fill="#c7427c"/>
<circle cx="442.2" cy="499.8" r="5.2" fill="#c7437c"/>
<circle cx="506.1" cy="535.0" r="5.2" fill="#a41f98"/>
<circle cx="281.8" cy="422.5" r="5.2" fill="#a41f98"/>
<circle cx="362.3" cy="431.4" r="5.2" fill="#f2874a"/>
<circle cx="297.7" cy="489.2" r="5.2" fill="#7d07a5"/>
<circle cx="370.1" cy="441.4" r="5.2" fill="#ee7b52"/>
<circle cx="423.9" cy="457.1" r="5.2" fill="#d95969"/>
<circle cx="503.4" cy="534.0" r="5.2" fill="#a01b9b"/>
<circle cx="311.5" cy="413.6" r="5.2" fill="#fb9e3a"/>
<circle cx="399.1" cy="525.2" r="5.2" fill="#cf4d74"/>
<circle cx="413.1" cy="528.7" r="5.2" fill="#cf4c74"/>
<circle cx="329.7" cy="489.4" r="5.2" fill="#5702a3"/>
<circle cx="325.9" cy="459.0" r="5.2" fill="#7301a8"/>
<circle cx="344.0" cy="469.8" r="5.2" fill="#eb7556"/>
<circle cx="472.9" cy="539.4" r="5.2" fill="#b12b8f"/>
<circle cx="297.4" cy="404.4" r="5.2" fill="#6f01a7"/>
<circle cx="351.1" cy="501.9" r="5.2" fill="#8e10a1"/>
<circle cx="393.9" cy="460.1" r="5.2" fill="#e16561"/>
<circle cx="422.1" cy="492.0" r="5.2" fill="#c03a83"/>
<circle cx="370.1" cy="516.4" r="5.2" fill="#b7318a"/>
<circle cx="404.6" cy="455.3" r="5.2" fill="#e06462"/>
<circle cx="373.1" cy="401.7" r="5.2" fill="#e87158"/>
<circle cx="429.3" cy="514.2" r="5.2" fill="#c43f7f"/>
<circle cx="395.4" cy="542.7" r="5.2" fill="#ac2693"/>
<circle cx="489.1" cy="525.4" r="5.2" fill="#b6308b"/>
<circle cx="494.5" cy="542.3" r="5.2" fill="#a11c9a"/>
<circle cx="390.8" cy="543.5" r="5.2" fill="#c5407e"/>
<circle cx="300.7" cy="427.5" r="5.2" fill="#fcb72f"/>
<circle cx="380.1" cy="412.5" r="5.2" fill="#f1844c"/>
<circle cx="324.9" cy="483.8" r="5.2" fill="#6402a5"/>
<circle cx="437.1" cy="513.3" r="5.2" fill="#d25071"/>
<circle cx="323.1" cy="393.8" r="5.2" fill="#5e02a4"/>
<circle cx="316.2" cy="370.3" r="5.2" fill="#fbd225"/>
<circle cx="347.1" cy="498.2" r="5.2" fill="#9111a1"/>
<circle cx="361.2" cy="448.1" r="5.2" fill="#eb7655"/>
<circle cx="292.8" cy="532.2" r="5.2" fill="#6901a6"/>
<circle cx="308.4" cy="424.4" r="5.2" fill="#fcb62f"/>
<circle cx="311.7" cy="544.8" r="5.2" fill="#7f08a5"/>
<circle cx="405.9" cy="444.5" r="5.2" fill="#eb7556"/>
<circle cx="372.5" cy="458.9" r="5.2" fill="#e2675f"/>
<circle cx="290.9" cy="498.6" r="5.2" fill="#b22c8e"/>
<circle cx="286.1" cy="388.3" r="5.2" fill="#e56c5c"/>
<circle cx="308.3" cy="542.2" r="5.2" fill="#4b03a0"/>
<circle cx="290.0" cy="444.8" r="5.2" fill="#f3ed22"/>
<circle cx="340.2" cy="408.3" r="5.2" fill="#b42e8c"/>
<circle cx="326.1" cy="503.1" r="5.2" fill="#a01b9b"/>
<circle cx="378.9" cy="532.5" r="5.2" fill="#c6427d"/>
<circle cx="318.7" cy="527.6" r="5.2" fill="#7a05a6"/>
<circle cx="396.8" cy="470.4" r="5.2" fill="#d5546e"/>
<circle cx="340.2" cy="537.9" r="5.2" fill="#6901a6"/>
<circle cx="459.2" cy="528.1" r="5.2" fill="#c8447b"/>
<circle cx="393.6" cy="477.0" r="5.2" fill="#d5546e"/>
<circle cx="344.2" cy="445.0" r="5.2" fill="#dd5f66"/>
<circle cx="309.0" cy="459.9" r="5.2" fill="#6c01a7"/>
<circle cx="315.8" cy="518.3" r="5.2" fill="#4b03a0"/>
<circle cx="404.9" cy="474.3" r="5.2" fill="#cc4977"/>
<circle cx="405.4" cy="528.5" r="5.2" fill="#ce4c75"/>
<circle cx="326.6" cy="409.8" r="5.2" fill="#9212a0"/>
<circle cx="364.8" cy="423.2" r="5.2" fill="#e97258"/>
<circle cx="401.5" cy="499.5" r="5.2" fill="#c23d81"/>
<circle cx="362.0" cy="538.8" r="5.2" fill="#c33e80"/>
<circle cx="368.2" cy="532.6" r="5.2" fill="#d4526f"/>
<circle cx="293.2" cy="452.4" r="5.2" fill="#6e01a7"/>
<circle cx="387.8" cy="474.8" r="5.2" fill="#e06561"/>
<circle cx="348.2" cy="381.4" r="5.2" fill="#f69242"/>
<circle cx="413.4" cy="510.0" r="5.2" fill="#c23d81"/>
<circle cx="371.7" cy="408.2" r="5.2" fill="#fba836"/>
<circle cx="340.8" cy="494.7" r="5.2" fill="#5d02a4"/>
<circle cx="340.0" cy="481.5" r="5.2" fill="#c7437c"/>
<circle cx="371.6" cy="430.9" r="5.2" fill="#ed7953"/>
<circle cx="333.0" cy="440.9" r="5.2" fill="#e3695f"/>
<circle cx="296.3" cy="465.8" r="5.2" fill="#a82395"/>
<circle cx="369.8" cy="514.2" r="5.2" fill="#cc4977"/>
<circle cx="383.1" cy="427.5" r="5.2" fill="#fa9c3c"/>
<circle cx="333.5" cy="485.5" r="5.2" fill="#de6164"/>
<circle cx="358.8" cy="444.2" r="5.2" fill="#e06362"/>
<circle cx="298.2" cy="509.6" r="5.2" fill="#5902a3"/>
<circle cx="303.5" cy="538.0" r="5.2" fill="#5802a3"/>
<circle cx="308.9" cy="499.5" r="5.2" fill="#7a05a6"/>
<circle cx="379.6" cy="410.4" r="5.2" fill="#f1844c"/>
<circle cx="358.4" cy="541.4" r="5.2" fill="#be3985"/>
<circle cx="440.2" cy="535.2" r="5.2" fill="#8e0fa1"/>
<circle cx="455.8" cy="517.4" r="5.2" fill="#b93389"/>
<circle cx="399.0" cy="517.9" r="5.2" fill="#de6064"/>
<circle cx="343.7" cy="435.0" r="5.2" fill="#db5c68"/>
<circle cx="392.0" cy="422.9" r="5.2" fill="#cf4c74"/>
<circle cx="351.4" cy="441.7" r="5.2" fill="#ed7a53"/>
<circle cx="379.3" cy="514.0" r="5.2" fill="#be3885"/>
<circle cx="336.3" cy="427.2" r="5.2" fill="#6901a6"/>
<circle cx="373.6" cy="397.4" r="5.2" fill="#f79540"/>
<circle cx="433.1" cy="487.7" r="5.2" fill="#eb7655"/>
<circle cx="298.0" cy="545.4" r="5.2" fill="#b7318a"/>
<circle cx="459.7" cy="537.7" r="5.2" fill="#bc3687"/>
<circle cx="447.4" cy="519.6" r="5.2" fill="#ec7754"/>
<circle cx="318.5" cy="405.9" r="5.2" fill="#f0824d"/>
<circle cx="366.7" cy="438.9" r="5.2" fill="#e87158"/>
<circle cx="297.0" cy="478.2" r="5.2" fill="#7a05a6"/>
<circle cx="309.1" cy="463.3" r="5.2" fill="#6c01a7"/>
<circle cx="390.6" cy="516.7" r="5.2" fill="#d6556d"/>
<circle cx="293.9" cy="444.6" r="5.2" fill="#f5e723"/>
<circle cx="426.3" cy="483.6" r="5.2" fill="#c8447b"/>
<circle cx="301.3" cy="484.1" r="5.2" fill="#6d01a7"/>
<circle cx="384.4" cy="519.8" r="5.2" fill="#d25071"/>
<circle cx="401.3" cy="438.4" r="5.2" fill="#d6546d"/>
<circle cx="448.4" cy="484.7" r="5.2" fill="#7804a7"/>
<circle cx="286.2" cy="449.1" r="5.2" fill="#ea7457"/>
<circle cx="419.6" cy="485.4" r="5.2" fill="#d14f72"/>
<circle cx="337.8" cy="505.6" r="5.2" fill="#6c01a7"/>
<circle cx="329.0" cy="452.7" r="5.2" fill="#5702a3"/>
<circle cx="316.2" cy="513.6" r="5.2" fill="#6202a5"/>
<circle cx="333.0" cy="462.6" r="5.2" fill="#e56c5c"/>
<circle cx="347.7" cy="444.2" r="5.2" fill="#df6363"/>
<circle cx="412.1" cy="465.7" r="5.2" fill="#ad2891"/>
<circle cx="458.3" cy="510.0" r="5.2" fill="#9111a1"/>
<circle cx="311.6" cy="480.8" r="5.2" fill="#6402a5"/>
<circle cx="317.8" cy="424.8" r="5.2" fill="#fcbe2c"/>
<circle cx="357.8" cy="528.7" r="5.2" fill="#c7437c"/>
<circle cx="308.4" cy="448.2" r="5.2" fill="#7804a7"/>
<circle cx="386.4" cy="503.3" r="5.2" fill="#cc4877"/>
<circle cx="425.9" cy="538.0" r="5.2" fill="#b12b8f"/>
<circle cx="332.2" cy="543.3" r="5.2" fill="#5602a2"/>
<circle cx="333.7" cy="509.3" r="5.2" fill="#97149f"/>
<circle cx="419.9" cy="509.2" r="5.2" fill="#c13c82"/>
<circle cx="337.9" cy="459.8" r="5.2" fill="#6302a5"/>
<circle cx="305.0" cy="488.1" r="5.2" fill="#8109a4"/>
<circle cx="476.1" cy="542.9" r="5.2" fill="#c43f7f"/>
<circle cx="440.7" cy="517.4" r="5.2" fill="#d25071"/>
<circle cx="397.2" cy="535.8" r="5.2" fill="#9212a0"/>
<circle cx="300.3" cy="451.8" r="5.2" fill="#7a05a6"/>
<circle cx="418.5" cy="453.0" r="5.2" fill="#f79540"/>
<circle cx="371.9" cy="413.3" r="5.2" fill="#ec7755"/>
<circle cx="394.7" cy="513.2" r="5.2" fill="#cd4a76"/>
<circle cx="309.1" cy="416.9" r="5.2" fill="#fcb032"/>
<circle cx="317.9" cy="516.7" r="5.2" fill="#8109a4"/>
<circle cx="456.5" cy="529.1" r="5.2" fill="#e16661"/>
<circle cx="395.0" cy="534.7" r="5.2" fill="#b52f8c"/>
<circle cx="311.5" cy="434.8" r="5.2" fill="#8b0ea2"/>
<circle cx="376.6" cy="499.2" r="5.2" fill="#cc4977"/>
<circle cx="348.3" cy="420.3" r="5.2" fill="#f9993e"/>
<circle cx="328.7" cy="530.7" r="5.2" fill="#7905a6"/>
<circle cx="336.5" cy="449.4" r="5.2" fill="#6402a5"/>
<circle cx="350.8" cy="351.8" r="5.2" fill="#9413a0"/>
<circle cx="383.3" cy="456.8" r="5.2" fill="#ef7f4f"/>
<circle cx="299.8" cy="420.5" r="5.2" fill="#eb7655"/>
<circle cx="441.8" cy="491.9" r="5.2" fill="#c8447b"/>
<circle cx="308.3" cy="453.4" r="5.2" fill="#7a05a6"/>
<circle cx="346.8" cy="394.9" r="5.2" fill="#6701a6"/>
<circle cx="424.0" cy="524.7" r="5.2" fill="#d25071"/>
<circle cx="505.6" cy="523.4" r="5.2" fill="#b22c8e"/>
<circle cx="387.0" cy="448.0" r="5.2" fill="#e06462"/>
<circle cx="318.6" cy="470.2" r="5.2" fill="#7e07a5"/>
<circle cx="352.4" cy="387.0" r="5.2" fill="#5502a2"/>
<circle cx="391.7" cy="442.3" r="5.2" fill="#de6164"/>
<circle cx="330.3" cy="545.4" r="5.2" fill="#7b06a6"/>
<circle cx="348.8" cy="528.4" r="5.2" fill="#97149f"/>
<circle cx="405.7" cy="459.4" r="5.2" fill="#e97357"/>
<circle cx="346.5" cy="463.7" r="5.2" fill="#e26760"/>
<circle cx="358.0" cy="523.5" r="5.2" fill="#97149f"/>
<circle cx="379.0" cy="528.2" r="5.2" fill="#c33f80"/>
<circle cx="319.3" cy="413.3" r="5.2" fill="#99159f"/>
<circle cx="372.3" cy="474.6" r="5.2" fill="#d9586a"/>
<circle cx="430.2" cy="542.1" r="5.2" fill="#b5308c"/>
<circle cx="355.4" cy="491.2" r="5.2" fill="#a72196"/>
<circle cx="327.2" cy="487.5" r="5.2" fill="#df6263"/>
<circle cx="322.5" cy="471.4" r="5.2" fill="#8d0fa2"/>
<circle cx="394.8" cy="417.3" r="5.2" fill="#9413a0"/>
<circle cx="315.3" cy="419.8" r="5.2" fill="#9f1a9c"/>
<circle cx="279.1" cy="516.4" r="5.2" fill="#b42e8d"/>
<circle cx="314.7" cy="506.9" r="5.2" fill="#7804a7"/>
<circle cx="430.6" cy="481.8" r="5.2" fill="#f8973f"/>
<circle cx="301.8" cy="456.5" r="5.2" fill="#7d07a5"/>
<circle cx="389.9" cy="501.9" r="5.2" fill="#d5536e"/>
<circle cx="343.9" cy="417.5" r="5.2" fill="#7603a7"/>
<circle cx="382.9" cy="416.7" r="5.2" fill="#fba836"/>
<circle cx="308.4" cy="513.9" r="5.2" fill="#6d01a7"/>
<circle cx="351.0" cy="331.1" r="5.2" fill="#96149f"/>
<circle cx="430.2" cy="518.0" r="5.2" fill="#a21c9a"/>
<circle cx="293.1" cy="466.1" r="5.2" fill="#6e01a7"/>
<circle cx="353.6" cy="502.6" r="5.2" fill="#8209a4"/>
<circle cx="451.1" cy="531.7" r="5.2" fill="#a62197"/>
<circle cx="315.5" cy="408.8" r="5.2" fill="#e56c5c"/>
<circle cx="452.6" cy="503.7" r="5.2" fill="#a01b9b"/>
<circle cx="383.3" cy="437.4" r="5.2" fill="#e46a5e"/>
<circle cx="283.7" cy="448.7" r="5.2" fill="#ed7953"/>
<circle cx="440.4" cy="510.1" r="5.2" fill="#c7437c"/>
<circle cx="337.3" cy="521.5" r="5.2" fill="#b22c8e"/>
<circle cx="332.8" cy="517.6" r="5.2" fill="#850ba3"/>
<circle cx="383.7" cy="473.5" r="5.2" fill="#e16561"/>
<circle cx="332.3" cy="444.6" r="5.2" fill="#dd5f65"/>
<circle cx="305.4" cy="358.4" r="5.2" fill="#fdc628"/>
<circle cx="336.9" cy="542.7" r="5.2" fill="#5e02a4"/>
<circle cx="412.2" cy="542.1" r="5.2" fill="#cd4a76"/>
<circle cx="285.9" cy="530.5" r="5.2" fill="#c33e80"/>
<circle cx="329.7" cy="480.1" r="5.2" fill="#d14e72"/>
<circle cx="376.1" cy="423.6" r="5.2" fill="#eb7655"/>
<circle cx="391.4" cy="476.8" r="5.2" fill="#e26760"/>
<circle cx="316.1" cy="536.3" r="5.2" fill="#9011a1"/>
<circle cx="398.6" cy="424.0" r="5.2" fill="#9c179e"/>
<circle cx="448.4" cy="516.9" r="5.2" fill="#d6546d"/>
<circle cx="286.8" cy="456.9" r="5.2" fill="#6a01a6"/>
<circle cx="301.1" cy="473.0" r="5.2" fill="#da5a69"/>
<circle cx="412.9" cy="448.6" r="5.2" fill="#fa9c3c"/>
<circle cx="407.6" cy="445.1" r="5.2" fill="#df6263"/>
<circle cx="401.7" cy="521.8" r="5.2" fill="#c9457a"/>
<circle cx="300.0" cy="506.4" r="5.2" fill="#6c01a7"/>
<circle cx="391.2" cy="509.9" r="5.2" fill="#dc5d67"/>
<circle cx="305.2" cy="448.1" r="5.2" fill="#6502a5"/>
<circle cx="391.4" cy="495.8" r="5.2" fill="#c8447b"/>
<circle cx="362.5" cy="535.7" r="5.2" fill="#c33e80"/>
<circle cx="402.0" cy="511.0" r="5.2" fill="#d35170"/>
<circle cx="337.8" cy="490.8" r="5.2" fill="#5402a2"/>
<circle cx="336.6" cy="444.9" r="5.2" fill="#ea7456"/>
<circle cx="461.9" cy="529.2" r="5.2" fill="#9513a0"/>
<circle cx="354.0" cy="449.4" r="5.2" fill="#dd5f65"/>
<circle cx="286.9" cy="445.8" r="5.2" fill="#dc5e66"/>
<circle cx="323.3" cy="372.3" r="5.2" fill="#fdc528"/>
<circle cx="352.0" cy="358.1" r="5.2" fill="#8e10a1"/>
<circle cx="301.9" cy="480.2" r="5.2" fill="#7d07a5"/>
<circle cx="362.5" cy="514.6" r="5.2" fill="#d04e73"/>
<circle cx="312.1" cy="509.6" r="5.2" fill="#5402a2"/>
<circle cx="459.2" cy="506.1" r="5.2" fill="#9312a0"/>
<circle cx="305.5" cy="474.1" r="5.2" fill="#7f08a5"/>
<circle cx="308.3" cy="494.4" r="5.2" fill="#5c02a4"/>
<circle cx="336.8" cy="476.7" r="5.2" fill="#e66e5b"/>
<circle cx="290.7" cy="477.0" r="5.2" fill="#7a05a6"/>
<circle cx="390.9" cy="448.4" r="5.2" fill="#e2685f"/>
<circle cx="319.6" cy="373.2" r="5.2" fill="#fbd125"/>
<circle cx="387.7" cy="409.2" r="5.2" fill="#f8983f"/>
<circle cx="326.7" cy="491.0" r="5.2" fill="#7402a7"/>
<circle cx="274.6" cy="431.5" r="5.2" fill="#eb7556"/>
<circle cx="319.2" cy="492.8" r="5.2" fill="#370499"/>
<circle cx="437.9" cy="542.7" r="5.2" fill="#b42e8d"/>
<circle cx="322.0" cy="494.9" r="5.2" fill="#6c01a7"/>
<circle cx="362.0" cy="404.9" r="5.2" fill="#f48b47"/>
<circle cx="345.0" cy="542.3" r="5.2" fill="#6c01a7"/>
<circle cx="297.0" cy="494.6" r="5.2" fill="#96149f"/>
<circle cx="318.7" cy="426.6" r="5.2" fill="#9111a1"/>
<circle cx="380.0" cy="545.5" r="5.2" fill="#bc3687"/>
<circle cx="290.7" cy="491.1" r="5.2" fill="#7201a8"/>
<circle cx="473.3" cy="532.1" r="5.2" fill="#c23c81"/>
<circle cx="330.6" cy="521.4" r="5.2" fill="#96149f"/>
<circle cx="369.7" cy="424.7" r="5.2" fill="#e56c5d"/>
<circle cx="297.4" cy="463.9" r="5.2" fill="#a62197"/>
<circle cx="303.2" cy="513.6" r="5.2" fill="#6b01a7"/>
<circle cx="423.5" cy="485.7" r="5.2" fill="#e46b5d"/>
<circle cx="354.7" cy="390.0" r="5.2" fill="#350598"/>
<circle cx="415.9" cy="467.8" r="5.2" fill="#c7427c"/>
<circle cx="301.4" cy="417.0" r="5.2" fill="#7001a8"/>
<circle cx="355.7" cy="465.9" r="5.2" fill="#dc5d67"/>
<circle cx="325.7" cy="466.9" r="5.2" fill="#7905a6"/>
<circle cx="351.0" cy="405.4" r="5.2" fill="#e66e5b"/>
<circle cx="344.4" cy="496.2" r="5.2" fill="#300596"/>
<circle cx="282.6" cy="419.1" r="5.2" fill="#a11c9a"/>
<circle cx="304.1" cy="437.7" r="5.2" fill="#6901a6"/>
<circle cx="321.4" cy="503.6" r="5.2" fill="#9f1a9c"/>
<circle cx="344.7" cy="456.7" r="5.2" fill="#d4536f"/>
<circle cx="368.8" cy="400.8" r="5.2" fill="#f38849"/>
<circle cx="301.6" cy="545.0" r="5.2" fill="#5f02a4"/>
<circle cx="417.0" cy="541.3" r="5.2" fill="#b32d8d"/>
<circle cx="315.5" cy="437.4" r="5.2" fill="#7704a7"/>
<circle cx="412.0" cy="496.8" r="5.2" fill="#d6556d"/>
<circle cx="415.1" cy="535.6" r="5.2" fill="#d35270"/>
<circle cx="397.4" cy="459.0" r="5.2" fill="#dc5e66"/>
<circle cx="365.7" cy="528.6" r="5.2" fill="#be3885"/>
<circle cx="429.5" cy="534.0" r="5.2" fill="#c9457a"/>
<circle cx="321.3" cy="480.4" r="5.2" fill="#8209a4"/>
<circle cx="329.2" cy="405.1" r="5.2" fill="#e66d5b"/>
<circle cx="343.4" cy="481.6" r="5.2" fill="#cb4778"/>
<circle cx="368.9" cy="489.1" r="5.2" fill="#e56b5d"/>
<circle cx="278.8" cy="424.3" r="5.2" fill="#d6546d"/>
<circle cx="358.9" cy="510.6" r="5.2" fill="#cb4878"/>
<circle cx="357.6" cy="399.3" r="5.2" fill="#7001a8"/>
<circle cx="357.3" cy="442.4" r="5.2" fill="#e56c5c"/>
<circle cx="318.3" cy="464.0" r="5.2" fill="#7503a7"/>
<circle cx="292.9" cy="442.0" r="5.2" fill="#9d189e"/>
<circle cx="386.8" cy="493.2" r="5.2" fill="#d8576b"/>
<circle cx="294.3" cy="481.6" r="5.2" fill="#7a05a6"/>
<circle cx="368.9" cy="413.1" r="5.2" fill="#f1834c"/>
<circle cx="401.4" cy="539.5" r="5.2" fill="#a01b9b"/>
<circle cx="347.4" cy="510.3" r="5.2" fill="#c23d81"/>
<circle cx="294.5" cy="506.4" r="5.2" fill="#4e03a1"/>
<circle cx="323.6" cy="521.5" r="5.2" fill="#97149f"/>
<circle cx="350.5" cy="433.4" r="5.2" fill="#dd5e66"/>
<circle cx="346.7" cy="521.7" r="5.2" fill="#a92395"/>
<circle cx="343.1" cy="426.2" r="5.2" fill="#6502a5"/>
<circle cx="445.2" cy="496.8" r="5.2" fill="#7704a7"/>
<circle cx="387.1" cy="412.5" r="5.2" fill="#fba537"/>
<circle cx="370.0" cy="471.2" r="5.2" fill="#db5c68"/>
<circle cx="294.2" cy="517.1" r="5.2" fill="#a41f98"/>
<circle cx="481.4" cy="541.4" r="5.2" fill="#c33e80"/>
<circle cx="431.4" cy="485.5" r="5.2" fill="#e16661"/>
<circle cx="271.7" cy="449.4" r="5.2" fill="#7101a8"/>
<circle cx="314.2" cy="412.8" r="5.2" fill="#f8983f"/>
<circle cx="366.1" cy="496.4" r="5.2" fill="#d8586b"/>
<circle cx="420.7" cy="505.9" r="5.2" fill="#bc3687"/>
<circle cx="446.0" cy="521.9" r="5.2" fill="#c9467a"/>
<circle cx="293.9" cy="521.9" r="5.2" fill="#7e07a5"/>
<circle cx="360.9" cy="523.9" r="5.2" fill="#b93389"/>
<circle cx="420.5" cy="495.7" r="5.2" fill="#c7437c"/>
<circle cx="339.6" cy="517.2" r="5.2" fill="#a11c9a"/>
<circle cx="332.8" cy="475.1" r="5.2" fill="#cb4778"/>
<circle cx="326.8" cy="376.2" r="5.2" fill="#fdc329"/>
<circle cx="294.0" cy="423.4" r="5.2" fill="#f69342"/>
<circle cx="330.3" cy="423.8" r="5.2" fill="#f69242"/>
<circle cx="333.1" cy="423.0" r="5.2" fill="#e3695e"/>
<circle cx="408.7" cy="538.2" r="5.2" fill="#d4536f"/>
<circle cx="512.1" cy="538.5" r="5.2" fill="#a21d9a"/>
<circle cx="289.4" cy="420.5" r="5.2" fill="#f99a3d"/>
<circle cx="351.6" cy="492.3" r="5.2" fill="#97159f"/>
<circle cx="407.6" cy="437.1" r="5.2" fill="#d9596a"/>
<circle cx="341.2" cy="543.0" r="5.2" fill="#6402a5"/>
<circle cx="334.3" cy="409.6" r="5.2" fill="#e26760"/>
<circle cx="333.4" cy="530.5" r="5.2" fill="#9312a0"/>
<circle cx="329.0" cy="501.7" r="5.2" fill="#47039f"/>
<circle cx="292.6" cy="487.5" r="5.2" fill="#b8328a"/>
<circle cx="425.7" cy="524.3" r="5.2" fill="#c7437c"/>
<circle cx="411.3" cy="451.6" r="5.2" fill="#f1834c"/>
<circle cx="301.0" cy="406.4" r="5.2" fill="#fb9e3a"/>
<circle cx="296.3" cy="442.4" r="5.2" fill="#870ca3"/>
<circle cx="456.4" cy="543.2" r="5.2" fill="#a11c9a"/>
<circle cx="405.3" cy="535.2" r="5.2" fill="#b12b8f"/>
<circle cx="279.6" cy="455.5" r="5.2" fill="#7503a7"/>
<circle cx="350.7" cy="437.0" r="5.2" fill="#e46b5d"/>
<circle cx="361.5" cy="527.0" r="5.2" fill="#c33f80"/>
<circle cx="497.8" cy="541.6" r="5.2" fill="#ad2892"/>
<circle cx="318.2" cy="498.1" r="5.2" fill="#7a05a6"/>
<circle cx="451.7" cy="491.1" r="5.2" fill="#820aa4"/>
<circle cx="318.6" cy="410.0" r="5.2" fill="#850ba3"/>
<circle cx="337.4" cy="462.8" r="5.2" fill="#cb4778"/>
<circle cx="350.4" cy="474.0" r="5.2" fill="#d8576b"/>
<circle cx="436.8" cy="489.5" r="5.2" fill="#b83289"/>
<circle cx="339.6" cy="465.8" r="5.2" fill="#cf4d74"/>
<circle cx="401.3" cy="518.4" r="5.2" fill="#c03b83"/>
<circle cx="377.1" cy="480.5" r="5.2" fill="#d9586a"/>
<circle cx="423.0" cy="503.4" r="5.2" fill="#c43f7f"/>
<circle cx="340.2" cy="416.0" r="5.2" fill="#830aa4"/>
<circle cx="330.0" cy="484.4" r="5.2" fill="#d6556d"/>
<circle cx="432.9" cy="524.9" r="5.2" fill="#9413a0"/>
<circle cx="335.7" cy="402.2" r="5.2" fill="#c7437c"/>
<circle cx="333.5" cy="524.4" r="5.2" fill="#b32e8d"/>
<circle cx="314.9" cy="430.7" r="5.2" fill="#fcbb2d"/>
<circle cx="294.0" cy="502.1" r="5.2" fill="#b22c8e"/>
<circle cx="347.1" cy="484.0" r="5.2" fill="#a41e99"/>
<circle cx="319.6" cy="453.2" r="5.2" fill="#de6164"/>
<circle cx="389.7" cy="527.6" r="5.2" fill="#c6427d"/>
<circle cx="401.8" cy="433.7" r="5.2" fill="#ca4779"/>
<circle cx="326.9" cy="494.4" r="5.2" fill="#e3695e"/>
<circle cx="286.4" cy="481.7" r="5.2" fill="#7402a7"/>
<circle cx="335.7" cy="511.1" r="5.2" fill="#8109a4"/>
<circle cx="397.0" cy="426.7" r="5.2" fill="#8c0fa2"/>
<circle cx="405.2" cy="466.9" r="5.2" fill="#cf4d74"/>
<circle cx="322.6" cy="513.5" r="5.2" fill="#8e0fa1"/>
<circle cx="484.6" cy="544.8" r="5.2" fill="#b8328a"/>
<circle cx="351.8" cy="523.4" r="5.2" fill="#9111a1"/>
<circle cx="422.2" cy="530.7" r="5.2" fill="#c13c82"/>
<circle cx="311.3" cy="478.2" r="5.2" fill="#6e01a7"/>
<circle cx="394.2" cy="448.8" r="5.2" fill="#e76f5a"/>
<circle cx="314.3" cy="455.8" r="5.2" fill="#7302a8"/>
<circle cx="337.5" cy="419.3" r="5.2" fill="#e66d5c"/>
<circle cx="345.0" cy="477.9" r="5.2" fill="#c23d81"/>
<circle cx="325.2" cy="534.8" r="5.2" fill="#8a0ea2"/>
<circle cx="443.8" cy="485.8" r="5.2" fill="#be3885"/>
<circle cx="296.6" cy="456.3" r="5.2" fill="#7001a8"/>
<circle cx="427.1" cy="531.3" r="5.2" fill="#d35170"/>
<circle cx="351.8" cy="516.7" r="5.2" fill="#b8328a"/>
<circle cx="365.4" cy="511.1" r="5.2" fill="#c6427d"/>
<circle cx="368.3" cy="509.3" r="5.2" fill="#ce4b75"/>
<circle cx="325.1" cy="427.8" r="5.2" fill="#a92495"/>
<circle cx="311.7" cy="543.5" r="5.2" fill="#5702a2"/>
<circle cx="472.7" cy="517.3" r="5.2" fill="#a92495"/>
<circle cx="288.8" cy="471.1" r="5.2" fill="#7a05a6"/>
<circle cx="423.9" cy="505.8" r="5.2" fill="#c5407e"/>
<circle cx="383.7" cy="464.4" r="5.2" fill="#e56c5c"/>
<circle cx="368.4" cy="467.3" r="5.2" fill="#cb4878"/>
<circle cx="397.6" cy="445.1" r="5.2" fill="#f0824d"/>
<circle cx="330.1" cy="398.6" r="5.2" fill="#e76f5a"/>
<circle cx="353.9" cy="354.8" r="5.2" fill="#9312a0"/>
<circle cx="286.6" cy="424.3" r="5.2" fill="#d35270"/>
<circle cx="317.8" cy="448.9" r="5.2" fill="#6602a6"/>
<circle cx="419.2" cy="524.4" r="5.2" fill="#ce4b75"/>
<circle cx="423.1" cy="535.2" r="5.2" fill="#b52f8c"/>
<circle cx="343.9" cy="408.3" r="5.2" fill="#be3885"/>
<circle cx="315.1" cy="344.1" r="5.2" fill="#fdc727"/>
<circle cx="347.2" cy="390.3" r="5.2" fill="#5103a1"/>
<circle cx="374.0" cy="427.1" r="5.2" fill="#e87158"/>
<circle cx="382.6" cy="391.1" r="5.2" fill="#ee7b52"/>
<circle cx="293.1" cy="513.3" r="5.2" fill="#820aa4"/>
<circle cx="271.8" cy="426.8" r="5.2" fill="#de6064"/>
<circle cx="376.7" cy="523.2" r="5.2" fill="#b12b8f"/>
<circle cx="336.4" cy="399.6" r="5.2" fill="#c13c82"/>
<circle cx="420.7" cy="530.6" r="5.2" fill="#c8447b"/>
<circle cx="285.4" cy="420.4" r="5.2" fill="#f8983f"/>
<circle cx="430.7" cy="521.4" r="5.2" fill="#a41f98"/>
<circle cx="303.9" cy="523.7" r="5.2" fill="#7302a8"/>
<circle cx="383.3" cy="528.6" r="5.2" fill="#c23d81"/>
<circle cx="293.6" cy="457.0" r="5.2" fill="#8c0fa2"/>
<circle cx="343.0" cy="513.2" r="5.2" fill="#a41f98"/>
<circle cx="512.9" cy="542.8" r="5.2" fill="#a82395"/>
<circle cx="400.6" cy="466.7" r="5.2" fill="#cc4977"/>
<circle cx="299.6" cy="431.4" r="5.2" fill="#7201a8"/>
<circle cx="401.6" cy="530.4" r="5.2" fill="#c8447b"/>
<circle cx="300.4" cy="448.0" r="5.2" fill="#7703a7"/>
<circle cx="355.5" cy="541.7" r="5.2" fill="#c43f7f"/>
<circle cx="345.2" cy="502.3" r="5.2" fill="#b42e8d"/>
<circle cx="426.7" cy="521.2" r="5.2" fill="#c23d81"/>
<circle cx="388.0" cy="444.5" r="5.2" fill="#e46a5e"/>
<circle cx="379.5" cy="500.3" r="5.2" fill="#d9586a"/>
<circle cx="317.6" cy="467.8" r="5.2" fill="#6402a5"/>
<circle cx="311.3" cy="514.2" r="5.2" fill="#6b01a6"/>
<circle cx="334.2" cy="401.5" r="5.2" fill="#cf4c74"/>
<circle cx="319.1" cy="480.5" r="5.2" fill="#6c01a7"/>
<circle cx="304.5" cy="535.5" r="5.2" fill="#5f02a4"/>
<circle cx="496.1" cy="530.6" r="5.2" fill="#b7318a"/>
<circle cx="377.1" cy="394.5" r="5.2" fill="#f2864b"/>
<circle cx="343.6" cy="523.3" r="5.2" fill="#b42f8c"/>
<circle cx="306.8" cy="493.0" r="5.2" fill="#7c06a6"/>
<circle cx="382.7" cy="458.5" r="5.2" fill="#dd5f65"/>
<circle cx="445.3" cy="492.8" r="5.2" fill="#9011a1"/>
<circle cx="461.7" cy="535.1" r="5.2" fill="#a82296"/>
<circle cx="369.1" cy="417.5" r="5.2" fill="#ef7f4f"/>
<circle cx="429.4" cy="523.5" r="5.2" fill="#9111a1"/>
<circle cx="296.6" cy="471.2" r="5.2" fill="#e56d5c"/>
<circle cx="376.1" cy="521.2" r="5.2" fill="#c7437c"/>
<circle cx="480.3" cy="521.4" r="5.2" fill="#af2a90"/>
<circle cx="379.2" cy="454.9" r="5.2" fill="#ed7953"/>
<circle cx="412.6" cy="444.6" r="5.2" fill="#dd6065"/>
<circle cx="370.0" cy="481.8" r="5.2" fill="#e06462"/>
<circle cx="322.4" cy="455.2" r="5.2" fill="#6402a5"/>
<circle cx="372.8" cy="406.3" r="5.2" fill="#fba836"/>
<circle cx="400.8" cy="528.2" r="5.2" fill="#c8447b"/>
<circle cx="434.9" cy="534.5" r="5.2" fill="#9011a1"/>
<circle cx="294.7" cy="484.0" r="5.2" fill="#7d07a5"/>
<circle cx="413.2" cy="506.3" r="5.2" fill="#d5546e"/>
<circle cx="394.8" cy="423.1" r="5.2" fill="#9c179e"/>
<circle cx="307.7" cy="467.5" r="5.2" fill="#7f08a5"/>
<circle cx="360.9" cy="470.0" r="5.2" fill="#7302a8"/>
<circle cx="350.9" cy="420.2" r="5.2" fill="#e97357"/>
<circle cx="437.8" cy="480.9" r="5.2" fill="#ee7c51"/>
<circle cx="366.5" cy="483.7" r="5.2" fill="#d04e73"/>
<circle cx="314.5" cy="541.3" r="5.2" fill="#4b03a0"/>
<circle cx="337.6" cy="410.3" r="5.2" fill="#7201a8"/>
<circle cx="447.3" cy="514.4" r="5.2" fill="#d04e73"/>
<circle cx="343.2" cy="388.2" r="5.2" fill="#7101a8"/>
<circle cx="330.2" cy="462.6" r="5.2" fill="#ee7c51"/>
<circle cx="465.2" cy="524.8" r="5.2" fill="#860ba3"/>
<circle cx="375.8" cy="427.8" r="5.2" fill="#e56c5c"/>
<circle cx="477.4" cy="535.0" r="5.2" fill="#b7318a"/>
<circle cx="503.3" cy="523.5" r="5.2" fill="#b32d8d"/>
<circle cx="372.7" cy="470.7" r="5.2" fill="#d4526f"/>
<circle cx="450.9" cy="509.8" r="5.2" fill="#9111a1"/>
<circle cx="304.9" cy="444.7" r="5.2" fill="#830aa4"/>
<circle cx="358.6" cy="474.9" r="5.2" fill="#da5a69"/>
<circle cx="405.6" cy="484.7" r="5.2" fill="#d6546d"/>
<circle cx="337.4" cy="394.1" r="5.2" fill="#a11c9a"/>
<circle cx="380.5" cy="402.2" r="5.2" fill="#f2864a"/>
<circle cx="351.7" cy="512.8" r="5.2" fill="#b93389"/>
<circle cx="382.9" cy="507.4" r="5.2" fill="#c6427d"/>
<circle cx="352.3" cy="333.4" r="5.2" fill="#8d0fa1"/>
<circle cx="394.7" cy="502.0" r="5.2" fill="#cd4a76"/>
<circle cx="359.5" cy="521.8" r="5.2" fill="#be3885"/>
<circle cx="297.4" cy="524.4" r="5.2" fill="#870ca3"/>
<circle cx="301.7" cy="496.4" r="5.2" fill="#8109a4"/>
<circle cx="373.8" cy="531.1" r="5.2" fill="#c13c82"/>
<circle cx="413.1" cy="456.7" r="5.2" fill="#ce4c75"/>
<circle cx="333.9" cy="507.0" r="5.2" fill="#360498"/>
<circle cx="379.8" cy="485.7" r="5.2" fill="#d7566c"/>
<circle cx="327.1" cy="516.4" r="5.2" fill="#9f199c"/>
<circle cx="278.6" cy="524.7" r="5.2" fill="#9f1a9c"/>
<circle cx="340.4" cy="463.8" r="5.2" fill="#d04e73"/>
<circle cx="387.1" cy="516.4" r="5.2" fill="#c7427c"/>
<circle cx="310.7" cy="398.3" r="5.2" fill="#e66e5b"/>
<circle cx="401.1" cy="427.2" r="5.2" fill="#7d07a5"/>
<circle cx="354.8" cy="506.3" r="5.2" fill="#c33e80"/>
<circle cx="375.7" cy="408.8" r="5.2" fill="#5402a2"/>
<circle cx="358.7" cy="434.0" r="5.2" fill="#ed7953"/>
<circle cx="350.4" cy="531.5" r="5.2" fill="#6901a6"/>
<circle cx="326.1" cy="367.0" r="5.2" fill="#f8dc24"/>
<circle cx="384.7" cy="534.1" r="5.2" fill="#c33e80"/>
<circle cx="324.8" cy="390.2" r="5.2" fill="#6f01a7"/>
<circle cx="328.5" cy="444.6" r="5.2" fill="#e26760"/>
<circle cx="369.6" cy="364.9" r="5.2" fill="#ac2693"/>
<circle cx="369.9" cy="409.7" r="5.2" fill="#fa9e3b"/>
<circle cx="454.5" cy="538.3" r="5.2" fill="#b02a90"/>
<circle cx="407.9" cy="451.6" r="5.2" fill="#e56c5c"/>
<circle cx="357.6" cy="481.9" r="5.2" fill="#a41f98"/>
<circle cx="278.3" cy="427.1" r="5.2" fill="#e3695e"/>
<circle cx="430.7" cy="527.2" r="5.2" fill="#c43f7f"/>
<circle cx="394.1" cy="462.0" r="5.2" fill="#cb4878"/>
<circle cx="359.3" cy="401.1" r="5.2" fill="#f0814d"/>
<circle cx="411.6" cy="512.6" r="5.2" fill="#b5308c"/>
<circle cx="293.7" cy="539.9" r="5.2" fill="#6202a5"/>
<circle cx="472.9" cy="545.1" r="5.2" fill="#b22c8e"/>
<circle cx="286.3" cy="499.4" r="5.2" fill="#a62097"/>
<circle cx="401.6" cy="474.8" r="5.2" fill="#da5a69"/>
<circle cx="336.6" cy="455.3" r="5.2" fill="#5302a2"/>
<circle cx="357.5" cy="405.8" r="5.2" fill="#f0804e"/>
<circle cx="481.3" cy="527.5" r="5.2" fill="#b6308b"/>
<circle cx="357.5" cy="538.4" r="5.2" fill="#b32e8d"/>
<circle cx="371.9" cy="507.4" r="5.2" fill="#c23d81"/>
<circle cx="376.5" cy="465.7" r="5.2" fill="#df6263"/>
<circle cx="383.9" cy="431.2" r="5.2" fill="#d8576b"/>
<circle cx="411.4" cy="478.7" r="5.2" fill="#cf4c74"/>
<circle cx="376.9" cy="405.7" r="5.2" fill="#5102a1"/>
<circle cx="278.8" cy="437.8" r="5.2" fill="#e97358"/>
<circle cx="315.4" cy="435.1" r="5.2" fill="#7b06a6"/>
<circle cx="372.8" cy="393.8" r="5.2" fill="#f0804e"/>
<circle cx="378.9" cy="449.9" r="5.2" fill="#e97357"/>
<circle cx="335.8" cy="496.3" r="5.2" fill="#5302a2"/>
<circle cx="341.2" cy="510.6" r="5.2" fill="#ab2693"/>
<circle cx="383.3" cy="433.9" r="5.2" fill="#e26760"/>
<circle cx="354.0" cy="481.6" r="5.2" fill="#a11c9a"/>
<circle cx="325.6" cy="372.0" r="5.2" fill="#fbd325"/>
<circle cx="298.1" cy="413.0" r="5.2" fill="#6e01a7"/>
<circle cx="319.9" cy="513.6" r="5.2" fill="#8008a5"/>
<circle cx="343.3" cy="534.2" r="5.2" fill="#5b02a3"/>
<circle cx="347.0" cy="492.4" r="5.2" fill="#5e02a4"/>
<circle cx="377.5" cy="419.0" r="5.2" fill="#e66d5c"/>
<circle cx="327.0" cy="445.8" r="5.2" fill="#e77059"/>
<circle cx="350.1" cy="395.1" r="5.2" fill="#e56c5c"/>
<circle cx="333.0" cy="471.1" r="5.2" fill="#ec7754"/>
<circle cx="369.1" cy="527.6" r="5.2" fill="#d04e73"/>
<circle cx="289.6" cy="442.8" r="5.2" fill="#e06462"/>
<circle cx="300.6" cy="476.8" r="5.2" fill="#7b06a6"/>
<circle cx="354.1" cy="379.5" r="5.2" fill="#330597"/>
<circle cx="459.0" cy="524.2" r="5.2" fill="#a31e99"/>
<circle cx="360.9" cy="478.4" r="5.2" fill="#d14f72"/>
<circle cx="351.1" cy="544.9" r="5.2" fill="#3a049a"/>
<circle cx="397.7" cy="529.1" r="5.2" fill="#c6427d"/>
<circle cx="352.3" cy="449.5" r="5.2" fill="#6d01a7"/>
<circle cx="501.9" cy="542.8" r="5.2" fill="#b83389"/>
<circle cx="297.2" cy="415.9" r="5.2" fill="#7001a8"/>
<circle cx="304.3" cy="496.4" r="5.2" fill="#6202a5"/>
<circle cx="290.3" cy="517.6" r="5.2" fill="#a11c9b"/>
<circle cx="510.0" cy="538.3" r="5.2" fill="#9c179e"/>
<circle cx="426.6" cy="506.8" r="5.2" fill="#bf3984"/>
<circle cx="354.2" cy="437.4" r="5.2" fill="#e87158"/>
<circle cx="365.6" cy="531.6" r="5.2" fill="#b42e8d"/>
<circle cx="448.8" cy="528.7" r="5.2" fill="#d14e72"/>
<circle cx="488.6" cy="530.8" r="5.2" fill="#b02a8f"/>
<circle cx="348.3" cy="502.1" r="5.2" fill="#9f1a9c"/>
<circle cx="408.8" cy="449.8" r="5.2" fill="#f79441"/>
<circle cx="373.5" cy="539.2" r="5.2" fill="#c23c81"/>
<circle cx="484.1" cy="542.3" r="5.2" fill="#c5407e"/>
<circle cx="416.0" cy="449.9" r="5.2" fill="#fba637"/>
<circle cx="443.7" cy="510.9" r="5.2" fill="#c9467a"/>
<circle cx="412.7" cy="492.0" r="5.2" fill="#c33e80"/>
<circle cx="405.7" cy="480.2" r="5.2" fill="#c43f7f"/>
<circle cx="289.2" cy="453.4" r="5.2" fill="#e97357"/>
<circle cx="409.9" cy="542.5" r="5.2" fill="#c13c82"/>
<circle cx="354.4" cy="529.0" r="5.2" fill="#7c06a6"/>
<circle cx="344.6" cy="413.6" r="5.2" fill="#dd5f65"/>
<circle cx="312.8" cy="495.8" r="5.2" fill="#7301a8"/>
<circle cx="340.8" cy="527.8" r="5.2" fill="#7804a7"/>
<circle cx="459.8" cy="521.2" r="5.2" fill="#a62196"/>
<circle cx="323.3" cy="426.7" r="5.2" fill="#e26760"/>
<circle cx="326.2" cy="451.3" r="5.2" fill="#6302a5"/>
<circle cx="420.6" cy="473.2" r="5.2" fill="#bc3687"/>
<circle cx="405.2" cy="545.1" r="5.2" fill="#cc4977"/>
<circle cx="399.1" cy="449.2" r="5.2" fill="#e66e5b"/>
<circle cx="309.0" cy="365.5" r="5.2" fill="#fa9c3c"/>
<circle cx="343.0" cy="460.3" r="5.2" fill="#6c01a7"/>
<circle cx="358.2" cy="463.2" r="5.2" fill="#d8576b"/>
<circle cx="290.0" cy="541.3" r="5.2" fill="#ba3488"/>
<circle cx="371.8" cy="513.0" r="5.2" fill="#be3985"/>
<circle cx="459.3" cy="512.6" r="5.2" fill="#9f1a9c"/>
<circle cx="357.8" cy="437.3" r="5.2" fill="#e56c5c"/>
<circle cx="364.7" cy="513.8" r="5.2" fill="#d25071"/>
<circle cx="440.9" cy="487.8" r="5.2" fill="#c13b82"/>
<circle cx="303.7" cy="466.5" r="5.2" fill="#d7566c"/>
<circle cx="337.7" cy="406.5" r="5.2" fill="#8008a5"/>
<circle cx="305.5" cy="499.1" r="5.2" fill="#6302a5"/>
<circle cx="418.5" cy="460.2" r="5.2" fill="#ce4b75"/>
<circle cx="438.7" cy="529.1" r="5.2" fill="#ba3488"/>
<circle cx="379.6" cy="524.9" r="5.2" fill="#d35170"/>
<circle cx="300.2" cy="538.2" r="5.2" fill="#5a02a3"/>
<circle cx="405.5" cy="516.2" r="5.2" fill="#c33e80"/>
<circle cx="287.5" cy="495.6" r="5.2" fill="#da5a69"/>
<circle cx="346.4" cy="401.8" r="5.2" fill="#e76f5a"/>
<circle cx="452.2" cy="506.1" r="5.2" fill="#b22c8e"/>
<circle cx="478.2" cy="545.0" r="5.2" fill="#c7437c"/>
<circle cx="290.5" cy="456.5" r="5.2" fill="#7603a7"/>
<circle cx="395.0" cy="527.9" r="5.2" fill="#d25071"/>
<circle cx="395.5" cy="516.7" r="5.2" fill="#d4536f"/>
<circle cx="364.5" cy="539.6" r="5.2" fill="#b22d8e"/>
<circle cx="314.7" cy="485.5" r="5.2" fill="#8008a5"/>
<circle cx="372.6" cy="536.1" r="5.2" fill="#b32d8d"/>
<circle cx="279.1" cy="463.7" r="5.2" fill="#7804a7"/>
<circle cx="293.1" cy="492.7" r="5.2" fill="#8009a5"/>
<circle cx="352.1" cy="506.6" r="5.2" fill="#c43f7f"/>
<circle cx="399.1" cy="496.6" r="5.2" fill="#d4526f"/>
<circle cx="398.3" cy="438.5" r="5.2" fill="#eb7556"/>
<circle cx="300.3" cy="458.5" r="5.2" fill="#7d07a5"/>
<circle cx="330.6" cy="468.0" r="5.2" fill="#e3695f"/>
<circle cx="301.2" cy="535.5" r="5.2" fill="#7502a7"/>
<circle cx="386.5" cy="453.6" r="5.2" fill="#e87159"/>
<circle cx="290.3" cy="525.0" r="5.2" fill="#b93389"/>
<circle cx="291.0" cy="429.9" r="5.2" fill="#fcb82e"/>
<circle cx="365.0" cy="399.1" r="5.2" fill="#f58f45"/>
<circle cx="297.3" cy="460.2" r="5.2" fill="#6f01a7"/>
<circle cx="299.8" cy="470.5" r="5.2" fill="#df6363"/>
<circle cx="362.2" cy="492.3" r="5.2" fill="#e97358"/>
<circle cx="346.6" cy="474.4" r="5.2" fill="#c03a83"/>
<circle cx="456.3" cy="530.5" r="5.2" fill="#e76f5a"/>
<circle cx="336.4" cy="501.9" r="5.2" fill="#8b0ea2"/>
<circle cx="376.5" cy="434.4" r="5.2" fill="#d7566c"/>
<circle cx="459.4" cy="517.5" r="5.2" fill="#a31e99"/>
<circle cx="329.6" cy="438.9" r="5.2" fill="#e76f5a"/>
<circle cx="364.9" cy="536.2" r="5.2" fill="#c6427d"/>
<circle cx="377.1" cy="401.7" r="5.2" fill="#a51f98"/>
<circle cx="455.3" cy="502.6" r="5.2" fill="#b7328a"/>
<circle cx="357.5" cy="394.6" r="5.2" fill="#a31e99"/>
<circle cx="308.5" cy="402.1" r="5.2" fill="#f9993e"/>
<circle cx="404.6" cy="442.7" r="5.2" fill="#fba935"/>
<circle cx="360.9" cy="519.6" r="5.2" fill="#340597"/>
<circle cx="380.3" cy="534.8" r="5.2" fill="#b6308b"/>
<circle cx="415.9" cy="531.8" r="5.2" fill="#b42e8d"/>
<circle cx="359.0" cy="502.2" r="5.2" fill="#ce4c75"/>
<circle cx="402.3" cy="451.8" r="5.2" fill="#ec7854"/>
<circle cx="290.1" cy="532.8" r="5.2" fill="#7502a7"/>
<circle cx="507.0" cy="530.9" r="5.2" fill="#c23d81"/>
<circle cx="346.8" cy="477.5" r="5.2" fill="#c4407f"/>
<circle cx="322.2" cy="537.7" r="5.2" fill="#7704a7"/>
<circle cx="485.5" cy="535.1" r="5.2" fill="#c43f7f"/>
<circle cx="374.0" cy="464.2" r="5.2" fill="#f0814e"/>
<circle cx="299.7" cy="462.1" r="5.2" fill="#a31d99"/>
<circle cx="433.6" cy="522.0" r="5.2" fill="#c8447b"/>
<circle cx="302.0" cy="440.5" r="5.2" fill="#6801a6"/>
<circle cx="290.1" cy="536.4" r="5.2" fill="#b02a90"/>
<circle cx="425.7" cy="459.8" r="5.2" fill="#b52f8c"/>
<circle cx="293.4" cy="427.1" r="5.2" fill="#fcb62f"/>
<circle cx="373.7" cy="524.3" r="5.2" fill="#c03a83"/>
<circle cx="370.4" cy="391.6" r="5.2" fill="#c7437c"/>
<circle cx="311.2" cy="449.5" r="5.2" fill="#7402a8"/>
<circle cx="322.5" cy="506.3" r="5.2" fill="#350498"/>
<circle cx="419.4" cy="501.9" r="5.2" fill="#b42e8d"/>
<circle cx="369.4" cy="523.5" r="5.2" fill="#ba3488"/>
<circle cx="476.7" cy="532.1" r="5.2" fill="#c13c82"/>
<circle cx="340.9" cy="456.9" r="5.2" fill="#6b01a7"/>
<circle cx="413.1" cy="474.6" r="5.2" fill="#a11c9b"/>
<circle cx="333.9" cy="412.9" r="5.2" fill="#df6363"/>
<circle cx="339.3" cy="469.9" r="5.2" fill="#ee7c51"/>
<circle cx="366.6" cy="410.4" r="5.2" fill="#e56b5d"/>
<circle cx="336.9" cy="467.8" r="5.2" fill="#cb4878"/>
<circle cx="462.9" cy="519.6" r="5.2" fill="#8008a5"/>
<circle cx="333.3" cy="438.2" r="5.2" fill="#97149f"/>
<circle cx="321.8" cy="473.5" r="5.2" fill="#9011a1"/>
<circle cx="424.3" cy="516.9" r="5.2" fill="#a52098"/>
<circle cx="388.2" cy="531.4" r="5.2" fill="#b12b8f"/>
<circle cx="351.8" cy="415.5" r="5.2" fill="#f28849"/>
<circle cx="364.8" cy="435.6" r="5.2" fill="#ef7e50"/>
<circle cx="393.8" cy="419.7" r="5.2" fill="#9413a0"/>
<circle cx="441.1" cy="501.9" r="5.2" fill="#c33e80"/>
<circle cx="452.2" cy="512.8" r="5.2" fill="#b6308b"/>
<circle cx="498.0" cy="528.8" r="5.2" fill="#a92494"/>
<circle cx="376.2" cy="462.6" r="5.2" fill="#df6263"/>
<circle cx="380.1" cy="474.0" r="5.2" fill="#d8576b"/>
<circle cx="333.1" cy="452.8" r="5.2" fill="#6702a6"/>
<circle cx="412.0" cy="442.5" r="5.2" fill="#e97258"/>
<circle cx="290.0" cy="521.1" r="5.2" fill="#a82395"/>
<circle cx="304.3" cy="456.8" r="5.2" fill="#7101a8"/>
<circle cx="381.2" cy="460.7" r="5.2" fill="#dd6065"/>
<circle cx="325.8" cy="513.4" r="5.2" fill="#a72296"/>
<circle cx="387.5" cy="460.2" r="5.2" fill="#db5d67"/>
<circle cx="305.5" cy="471.0" r="5.2" fill="#6602a6"/>
<circle cx="447.3" cy="510.5" r="5.2" fill="#c13c82"/>
<circle cx="293.3" cy="534.8" r="5.2" fill="#b12b8f"/>
<circle cx="330.2" cy="409.6" r="5.2" fill="#dc5e66"/>
<circle cx="351.0" cy="401.7" r="5.2" fill="#ec7755"/>
<circle cx="380.2" cy="421.1" r="5.2" fill="#f99a3d"/>
<circle cx="350.5" cy="481.0" r="5.2" fill="#97149f"/>
<circle cx="417.2" cy="524.7" r="5.2" fill="#ba3588"/>
<circle cx="321.6" cy="477.9" r="5.2" fill="#dc5d67"/>
<circle cx="411.6" cy="524.0" r="5.2" fill="#cc4977"/>
<circle cx="332.1" cy="545.5" r="5.2" fill="#7704a7"/>
<circle cx="294.2" cy="523.6" r="5.2" fill="#96149f"/>
<circle cx="350.4" cy="510.9" r="5.2" fill="#8109a4"/>
<circle cx="347.4" cy="517.4" r="5.2" fill="#a41f98"/>
<circle cx="314.7" cy="490.9" r="5.2" fill="#6c01a7"/>
<circle cx="293.5" cy="527.8" r="5.2" fill="#8d0fa2"/>
<circle cx="431.4" cy="498.0" r="5.2" fill="#c03b83"/>
<circle cx="325.1" cy="430.5" r="5.2" fill="#8e10a1"/>
<circle cx="322.8" cy="498.1" r="5.2" fill="#7201a8"/>
<circle cx="397.6" cy="462.8" r="5.2" fill="#de6065"/>
<circle cx="397.7" cy="543.5" r="5.2" fill="#b93389"/>
<circle cx="416.4" cy="527.8" r="5.2" fill="#c23d81"/>
<circle cx="394.2" cy="435.2" r="5.2" fill="#e87159"/>
<circle cx="373.7" cy="391.8" r="5.2" fill="#b52f8c"/>
<circle cx="405.0" cy="503.2" r="5.2" fill="#d14e72"/>
<circle cx="465.3" cy="532.7" r="5.2" fill="#9d189d"/>
<circle cx="290.9" cy="449.2" r="5.2" fill="#6402a5"/>
<circle cx="369.9" cy="477.8" r="5.2" fill="#da5a69"/>
<circle cx="389.6" cy="482.1" r="5.2" fill="#d5546e"/>
<circle cx="383.0" cy="405.0" r="5.2" fill="#f2874a"/>
<circle cx="344.9" cy="423.3" r="5.2" fill="#4d03a0"/>
<circle cx="376.3" cy="446.2" r="5.2" fill="#ee7b51"/>
<circle cx="361.6" cy="505.5" r="5.2" fill="#cc4977"/>
<circle cx="300.8" cy="499.7" r="5.2" fill="#6f01a7"/>
<circle cx="397.0" cy="498.9" r="5.2" fill="#ca4779"/>
<circle cx="434.3" cy="541.4" r="5.2" fill="#a11c9a"/>
<circle cx="444.1" cy="524.1" r="5.2" fill="#c7437c"/>
<circle cx="286.6" cy="502.1" r="5.2" fill="#d6556d"/>
<circle cx="415.8" cy="489.1" r="5.2" fill="#ce4b75"/>
<circle cx="325.6" cy="454.9" r="5.2" fill="#6b01a7"/>
<circle cx="311.3" cy="453.0" r="5.2" fill="#7503a7"/>
<circle cx="285.5" cy="516.3" r="5.2" fill="#ad2792"/>
<circle cx="451.7" cy="536.2" r="5.2" fill="#af2990"/>
<circle cx="368.2" cy="458.8" r="5.2" fill="#e46a5d"/>
<circle cx="419.0" cy="492.7" r="5.2" fill="#cc4977"/>
<circle cx="386.4" cy="509.9" r="5.2" fill="#c6427d"/>
<circle cx="416.5" cy="462.7" r="5.2" fill="#a01a9b"/>
<circle cx="308.4" cy="525.5" r="5.2" fill="#39049a"/>
<circle cx="372.9" cy="503.1" r="5.2" fill="#a52097"/>
<circle cx="470.0" cy="521.4" r="5.2" fill="#7804a7"/>
<circle cx="332.8" cy="398.9" r="5.2" fill="#d8586b"/>
<circle cx="309.2" cy="478.4" r="5.2" fill="#6302a5"/>
<circle cx="376.3" cy="534.2" r="5.2" fill="#bc3687"/>
<circle cx="368.8" cy="399.6" r="5.2" fill="#6b01a7"/>
<circle cx="365.1" cy="463.9" r="5.2" fill="#dd5f65"/>
<circle cx="458.1" cy="534.6" r="5.2" fill="#c33e80"/>
<circle cx="341.1" cy="395.3" r="5.2" fill="#6602a6"/>
<circle cx="426.1" cy="541.5" r="5.2" fill="#bf3a84"/>
<circle cx="395.3" cy="481.9" r="5.2" fill="#dc5d66"/>
<circle cx="408.9" cy="523.3" r="5.2" fill="#c6427d"/>
<circle cx="330.8" cy="456.9" r="5.2" fill="#7503a7"/>
<circle cx="438.8" cy="517.0" r="5.2" fill="#b12b8f"/>
<circle cx="345.2" cy="485.4" r="5.2" fill="#a51f98"/>
<circle cx="307.2" cy="489.1" r="5.2" fill="#8a0ea2"/>
<circle cx="278.6" cy="418.9" r="5.2" fill="#a62197"/>
<circle cx="462.3" cy="532.6" r="5.2" fill="#a11c9b"/>
<circle cx="423.0" cy="527.6" r="5.2" fill="#c9457a"/>
<circle cx="415.6" cy="456.9" r="5.2" fill="#d5536e"/>
<circle cx="373.9" cy="491.3" r="5.2" fill="#e66e5b"/>
<circle cx="311.7" cy="365.0" r="5.2" fill="#f79342"/>
<circle cx="357.8" cy="507.4" r="5.2" fill="#ca4679"/>
<circle cx="332.0" cy="521.3" r="5.2" fill="#a11c9a"/>
<circle cx="281.9" cy="462.8" r="5.2" fill="#c7437c"/>
<circle cx="393.6" cy="496.3" r="5.2" fill="#cd4976"/>
<circle cx="312.8" cy="369.2" r="5.2" fill="#fdc628"/>
<circle cx="354.2" cy="517.6" r="5.2" fill="#c23d81"/>
<circle cx="297.2" cy="520.5" r="5.2" fill="#bd3886"/>
<circle cx="401.7" cy="470.6" r="5.2" fill="#e46a5e"/>
<circle cx="366.5" cy="523.5" r="5.2" fill="#c8447b"/>
<circle cx="380.8" cy="477.4" r="5.2" fill="#d14f72"/>
<circle cx="419.0" cy="526.8" r="5.2" fill="#cc4977"/>
<circle cx="350.6" cy="543.5" r="5.2" fill="#5d02a4"/>
<circle cx="430.7" cy="473.6" r="5.2" fill="#e7705a"/>
<circle cx="387.1" cy="456.0" r="5.2" fill="#df6363"/>
<circle cx="330.4" cy="498.4" r="5.2" fill="#4c03a0"/>
<circle cx="379.2" cy="510.2" r="5.2" fill="#cb4878"/>
<circle cx="352.1" cy="347.4" r="5.2" fill="#fb9e3a"/>
<circle cx="351.4" cy="526.9" r="5.2" fill="#8109a4"/>
<circle cx="456.0" cy="498.6" r="5.2" fill="#bf3984"/>
<circle cx="343.1" cy="473.8" r="5.2" fill="#f2874a"/>
<circle cx="408.9" cy="500.3" r="5.2" fill="#de6164"/>
<circle cx="322.4" cy="421.1" r="5.2" fill="#a11c9a"/>
<circle cx="336.6" cy="430.5" r="5.2" fill="#6c01a7"/>
<circle cx="379.9" cy="435.5" r="5.2" fill="#d7566c"/>
<circle cx="408.0" cy="504.0" r="5.2" fill="#c6417d"/>
<circle cx="448.7" cy="534.6" r="5.2" fill="#a21d9a"/>
<circle cx="297.1" cy="484.9" r="5.2" fill="#8209a4"/>
<circle cx="334.3" cy="493.0" r="5.2" fill="#5302a2"/>
<circle cx="365.7" cy="406.6" r="5.2" fill="#f38949"/>
<circle cx="364.6" cy="520.8" r="5.2" fill="#c7437c"/>
<circle cx="315.2" cy="459.8" r="5.2" fill="#3e049c"/>
<circle cx="408.2" cy="455.7" r="5.2" fill="#df6263"/>
<circle cx="358.2" cy="410.1" r="5.2" fill="#f0824d"/>
<circle cx="319.7" cy="521.0" r="5.2" fill="#96149f"/>
<circle cx="344.8" cy="402.2" r="5.2" fill="#a11c9b"/>
<circle cx="346.6" cy="348.1" r="5.2" fill="#c4407f"/>
<circle cx="484.0" cy="537.9" r="5.2" fill="#c5417e"/>
<circle cx="348.6" cy="496.5" r="5.2" fill="#6302a5"/>
<circle cx="307.4" cy="369.0" r="5.2" fill="#d7556c"/>
<circle cx="296.8" cy="445.6" r="5.2" fill="#9513a0"/>
<circle cx="408.0" cy="488.2" r="5.2" fill="#d25071"/>
<circle cx="347.5" cy="440.9" r="5.2" fill="#e2685f"/>
<circle cx="357.8" cy="488.7" r="5.2" fill="#9513a0"/>
<circle cx="487.5" cy="545.0" r="5.2" fill="#c43f7f"/>
<circle cx="365.4" cy="499.0" r="5.2" fill="#e87059"/>
<circle cx="361.2" cy="484.7" r="5.2" fill="#9a169f"/>
<circle cx="359.5" cy="492.8" r="5.2" fill="#a21d9a"/>
<circle cx="350.7" cy="469.8" r="5.2" fill="#e56c5d"/>
<circle cx="394.2" cy="467.8" r="5.2" fill="#d8576b"/>
<circle cx="409.3" cy="496.7" r="5.2" fill="#cd4a76"/>
<circle cx="444.7" cy="536.1" r="5.2" fill="#a41f98"/>
<circle cx="391.6" cy="466.3" r="5.2" fill="#dc5d67"/>
<circle cx="304.5" cy="383.0" r="5.2" fill="#bb3587"/>
<circle cx="341.1" cy="444.9" r="5.2" fill="#5b02a3"/>
<circle cx="322.1" cy="356.4" r="5.2" fill="#fdc926"/>
<circle cx="326.4" cy="448.4" r="5.2" fill="#db5c67"/>
<circle cx="341.0" cy="405.9" r="5.2" fill="#bd3786"/>
<circle cx="310.8" cy="455.6" r="5.2" fill="#7503a7"/>
<circle cx="276.6" cy="434.8" r="5.2" fill="#e46a5d"/>
<circle cx="433.7" cy="500.3" r="5.2" fill="#c33e80"/>
<circle cx="516.2" cy="538.6" r="5.2" fill="#9212a0"/>
<circle cx="368.4" cy="503.7" r="5.2" fill="#cd4a76"/>
<circle cx="365.7" cy="491.0" r="5.2" fill="#d9586a"/>
<circle cx="354.3" cy="514.4" r="5.2" fill="#b42e8d"/>
<circle cx="357.3" cy="423.8" r="5.2" fill="#dd5f65"/>
<circle cx="301.5" cy="445.6" r="5.2" fill="#8a0ea2"/>
<circle cx="315.6" cy="502.2" r="5.2" fill="#6c01a7"/>
<circle cx="425.8" cy="535.2" r="5.2" fill="#ce4b75"/>
<circle cx="416.4" cy="474.9" r="5.2" fill="#a82295"/>
<circle cx="329.8" cy="469.8" r="5.2" fill="#ee7b51"/>
<circle cx="321.3" cy="541.9" r="5.2" fill="#9312a0"/>
<circle cx="438.3" cy="535.7" r="5.2" fill="#8e10a1"/>
<circle cx="471.1" cy="525.6" r="5.2" fill="#bc3686"/>
<circle cx="344.0" cy="438.6" r="5.2" fill="#e26760"/>
<circle cx="345.1" cy="507.2" r="5.2" fill="#a41f98"/>
<circle cx="287.3" cy="513.7" r="5.2" fill="#9212a0"/>
<circle cx="275.1" cy="459.7" r="5.2" fill="#7704a7"/>
<circle cx="340.3" cy="484.8" r="5.2" fill="#9f1a9c"/>
<circle cx="322.3" cy="492.4" r="5.2" fill="#6502a5"/>
<circle cx="332.4" cy="419.6" r="5.2" fill="#f48d46"/>
<circle cx="353.9" cy="470.5" r="5.2" fill="#e16561"/>
<circle cx="321.8" cy="462.8" r="5.2" fill="#6102a5"/>
<circle cx="286.0" cy="505.2" r="5.2" fill="#b32d8d"/>
<circle cx="416.2" cy="477.7" r="5.2" fill="#ab2693"/>
<circle cx="348.6" cy="535.4" r="5.2" fill="#b42e8d"/>
<circle cx="379.9" cy="437.2" r="5.2" fill="#e97258"/>
<circle cx="348.4" cy="361.9" r="5.2" fill="#f28849"/>
<circle cx="409.3" cy="473.3" r="5.2" fill="#b7318a"/>
<circle cx="308.5" cy="413.8" r="5.2" fill="#fb9f3a"/>
<circle cx="376.6" cy="437.4" r="5.2" fill="#de6065"/>
<circle cx="407.9" cy="491.9" r="5.2" fill="#c33e80"/>
<circle cx="351.6" cy="337.8" r="5.2" fill="#a21c9a"/>
<circle cx="384.4" cy="513.2" r="5.2" fill="#b12b8f"/>
<circle cx="362.3" cy="456.6" r="5.2" fill="#e26760"/>
<circle cx="319.7" cy="496.3" r="5.2" fill="#7e07a5"/>
<circle cx="455.8" cy="495.1" r="5.2" fill="#9312a0"/>
<circle cx="351.1" cy="390.4" r="5.2" fill="#3a049a"/>
<circle cx="384.8" cy="409.4" r="5.2" fill="#cc4977"/>
<circle cx="397.7" cy="477.3" r="5.2" fill="#d8576b"/>
<circle cx="413.3" cy="469.3" r="5.2" fill="#b6308b"/>
<circle cx="311.0" cy="524.4" r="5.2" fill="#3c049b"/>
<circle cx="393.2" cy="445.8" r="5.2" fill="#e56c5c"/>
<circle cx="361.0" cy="452.8" r="5.2" fill="#d7566c"/>
<circle cx="396.9" cy="488.5" r="5.2" fill="#d4526f"/>
<circle cx="492.0" cy="535.1" r="5.2" fill="#bf3984"/>
<circle cx="407.7" cy="514.0" r="5.2" fill="#b42f8c"/>
<circle cx="308.9" cy="437.3" r="5.2" fill="#7804a6"/>
<circle cx="292.9" cy="496.6" r="5.2" fill="#7703a7"/>
<circle cx="354.0" cy="510.0" r="5.2" fill="#d4526f"/>
<circle cx="355.6" cy="334.8" r="5.2" fill="#a51f98"/>
<circle cx="389.7" cy="408.1" r="5.2" fill="#d6556d"/>
<circle cx="350.1" cy="445.5" r="5.2" fill="#db5c67"/>
<circle cx="406.0" cy="492.2" r="5.2" fill="#c43f7f"/>
<circle cx="397.5" cy="480.8" r="5.2" fill="#df6363"/>
<circle cx="307.7" cy="485.8" r="5.2" fill="#6602a6"/>
<circle cx="291.0" cy="426.8" r="5.2" fill="#da5a69"/>
<circle cx="383.6" cy="481.7" r="5.2" fill="#d95969"/>
<circle cx="350.3" cy="457.1" r="5.2" fill="#ee7b52"/>
<circle cx="364.6" cy="489.0" r="5.2" fill="#e76f5a"/>
<circle cx="401.3" cy="502.9" r="5.2" fill="#c23d81"/>
<circle cx="358.8" cy="390.6" r="5.2" fill="#6d01a7"/>
<circle cx="437.5" cy="498.4" r="5.2" fill="#cb4778"/>
<circle cx="419.7" cy="449.7" r="5.2" fill="#fcb231"/>
<circle cx="477.4" cy="528.5" r="5.2" fill="#ab2593"/>
<circle cx="413.3" cy="522.0" r="5.2" fill="#c33e80"/>
<circle cx="420.3" cy="498.9" r="5.2" fill="#b7328a"/>
<circle cx="319.3" cy="503.8" r="5.2" fill="#8e10a1"/>
<circle cx="380.1" cy="488.1" r="5.2" fill="#d7566c"/>
<circle cx="383.7" cy="530.4" r="5.2" fill="#c5417e"/>
<circle cx="274.8" cy="506.8" r="5.2" fill="#bb3588"/>
<circle cx="512.4" cy="534.0" r="5.2" fill="#c4407f"/>
<circle cx="328.5" cy="496.4" r="5.2" fill="#9f1a9c"/>
<circle cx="326.7" cy="541.9" r="5.2" fill="#bd3786"/>
<circle cx="420.1" cy="471.1" r="5.2" fill="#a01b9b"/>
<circle cx="317.9" cy="433.5" r="5.2" fill="#8d0fa2"/>
<circle cx="350.8" cy="535.7" r="5.2" fill="#5302a2"/>
<circle cx="308.7" cy="431.9" r="5.2" fill="#8e10a1"/>
<circle cx="242.3" cy="250.1" r="5.2" fill="#f0f921"/>
<circle cx="244.4" cy="287.7" r="5.2" fill="#f9d824"/>
<circle cx="245.1" cy="301.5" r="5.2" fill="#fad325"/>
<circle cx="273.8" cy="305.0" r="5.2" fill="#ed7953"/>
<circle cx="273.8" cy="302.7" r="5.2" fill="#ed7953"/>
<circle cx="275.6" cy="319.2" r="5.2" fill="#f8da24"/>
<circle cx="275.6" cy="315.5" r="5.2" fill="#f8da24"/>
<circle cx="295.8" cy="277.1" r="5.2" fill="#f9d824"/>
<circle cx="292.5" cy="294.4" r="5.2" fill="#fad625"/>
<circle cx="304.2" cy="246.3" r="5.2" fill="#bd3786"/>
<circle cx="304.2" cy="294.9" r="5.2" fill="#f0f921"/>
<circle cx="304.2" cy="290.4" r="5.2" fill="#bd3786"/>
<circle cx="313.2" cy="288.4" r="5.2" fill="#fad625"/>
<circle cx="314.0" cy="281.3" r="5.2" fill="#9c179e"/>
<circle cx="305.7" cy="305.0" r="5.2" fill="#9c179e"/>
<circle cx="301.7" cy="320.4" r="5.2" fill="#fb9f3a"/>
<circle cx="343.0" cy="274.6" r="5.2" fill="#fdca26"/>
<circle cx="350.1" cy="298.9" r="5.2" fill="#ca4778"/>
<circle cx="350.1" cy="297.1" r="5.2" fill="#e2685f"/>
<circle cx="350.4" cy="315.5" r="5.2" fill="#9c179e"/>
<circle cx="349.6" cy="308.4" r="5.2" fill="#fad625"/>
<circle cx="346.3" cy="320.7" r="5.2" fill="#fdc12a"/>
<circle cx="242.3" cy="339.8" r="5.2" fill="#f0f921"/>
<circle cx="242.3" cy="359.4" r="5.2" fill="#f0f921"/>
<circle cx="277.2" cy="325.3" r="5.2" fill="#f0f921"/>
<circle cx="277.9" cy="330.8" r="5.2" fill="#f0f921"/>
<circle cx="274.6" cy="363.6" r="5.2" fill="#d8576b"/>
<circle cx="270.7" cy="344.4" r="5.2" fill="#fb9f3a"/>
<circle cx="276.1" cy="348.1" r="5.2" fill="#fdca26"/>
<circle cx="281.7" cy="338.8" r="5.2" fill="#fb9f3a"/>
<circle cx="292.9" cy="334.7" r="5.2" fill="#fb9f3a"/>
<circle cx="302.0" cy="338.5" r="5.2" fill="#fdca26"/>
<circle cx="301.7" cy="323.0" r="5.2" fill="#fb9f3a"/>
<circle cx="311.0" cy="332.3" r="5.2" fill="#fb9f3a"/>
<circle cx="314.7" cy="338.8" r="5.2" fill="#fcb430"/>
<circle cx="293.4" cy="346.3" r="5.2" fill="#fdca26"/>
<circle cx="288.9" cy="352.8" r="5.2" fill="#fdca26"/>
<circle cx="307.2" cy="345.6" r="5.2" fill="#fb9f3a"/>
<circle cx="302.0" cy="352.3" r="5.2" fill="#fbd125"/>
<circle cx="305.7" cy="355.3" r="5.2" fill="#fbd125"/>
<circle cx="315.5" cy="349.3" r="5.2" fill="#f8da24"/>
<circle cx="300.8" cy="359.8" r="5.2" fill="#7201a8"/>
<circle cx="295.2" cy="359.1" r="5.2" fill="#fb9f3a"/>
<circle cx="288.4" cy="362.8" r="5.2" fill="#ed7953"/>
<circle cx="306.9" cy="363.9" r="5.2" fill="#fdca26"/>
<circle cx="296.7" cy="367.4" r="5.2" fill="#fdca26"/>
<circle cx="313.2" cy="360.6" r="5.2" fill="#fb9f3a"/>
<circle cx="315.5" cy="368.1" r="5.2" fill="#fcb430"/>
<circle cx="286.2" cy="372.3" r="5.2" fill="#fcb430"/>
<circle cx="308.7" cy="372.6" r="5.2" fill="#d8576b"/>
<circle cx="302.7" cy="375.6" r="5.2" fill="#bd3786"/>
<circle cx="315.5" cy="374.9" r="5.2" fill="#fdca26"/>
<circle cx="298.2" cy="381.6" r="5.2" fill="#e2685f"/>
<circle cx="285.1" cy="383.2" r="5.2" fill="#ed7953"/>
<circle cx="283.2" cy="389.2" r="5.2" fill="#ed7953"/>
<circle cx="289.6" cy="386.2" r="5.2" fill="#fb9f3a"/>
<circle cx="288.4" cy="393.7" r="5.2" fill="#ed7953"/>
<circle cx="290.7" cy="398.9" r="5.2" fill="#ed7953"/>
<circle cx="305.7" cy="400.4" r="5.2" fill="#fdca26"/>
<circle cx="305.7" cy="383.2" r="5.2" fill="#9c179e"/>
<circle cx="311.0" cy="382.4" r="5.2" fill="#9c179e"/>
<circle cx="302.7" cy="387.7" r="5.2" fill="#9c179e"/>
<circle cx="308.7" cy="390.7" r="5.2" fill="#9c179e"/>
<circle cx="311.7" cy="393.7" r="5.2" fill="#9c179e"/>
<circle cx="300.5" cy="397.4" r="5.2" fill="#7201a8"/>
<circle cx="265.1" cy="401.2" r="5.2" fill="#e2685f"/>
<circle cx="269.6" cy="394.4" r="5.2" fill="#ed7953"/>
<circle cx="269.6" cy="400.1" r="5.2" fill="#f79442"/>
<circle cx="296.7" cy="404.2" r="5.2" fill="#fcb430"/>
<circle cx="313.2" cy="401.9" r="5.2" fill="#ed7953"/>
<circle cx="295.2" cy="409.9" r="5.2" fill="#5c02a4"/>
<circle cx="301.2" cy="409.9" r="5.2" fill="#7201a8"/>
<circle cx="270.4" cy="419.2" r="5.2" fill="#ed7953"/>
<circle cx="274.9" cy="421.5" r="5.2" fill="#46039f"/>
<circle cx="275.3" cy="414.7" r="5.2" fill="#fb9f3a"/>
<circle cx="282.4" cy="418.5" r="5.2" fill="#9c179e"/>
<circle cx="289.9" cy="419.2" r="5.2" fill="#fb9f3a"/>
<circle cx="296.7" cy="417.0" r="5.2" fill="#ed7953"/>
<circle cx="307.2" cy="414.7" r="5.2" fill="#fb9f3a"/>
<circle cx="313.2" cy="419.2" r="5.2" fill="#ed7953"/>
<circle cx="316.2" cy="413.2" r="5.2" fill="#7201a8"/>
<circle cx="347.1" cy="329.0" r="5.2" fill="#bd3786"/>
<circle cx="347.8" cy="334.3" r="5.2" fill="#9c179e"/>
<circle cx="356.4" cy="327.5" r="5.2" fill="#9c179e"/>
<circle cx="356.8" cy="333.5" r="5.2" fill="#9c179e"/>
<circle cx="347.8" cy="341.0" r="5.2" fill="#7201a8"/>
<circle cx="356.1" cy="347.8" r="5.2" fill="#fb9f3a"/>
<circle cx="346.3" cy="346.8" r="5.2" fill="#bd3786"/>
<circle cx="355.3" cy="342.5" r="5.2" fill="#f8dd24"/>
<circle cx="359.1" cy="342.2" r="5.2" fill="#f8dd24"/>
<circle cx="325.0" cy="331.3" r="5.2" fill="#f0f921"/>
<circle cx="324.2" cy="343.3" r="5.2" fill="#f0f921"/>
<circle cx="324.5" cy="352.3" r="5.2" fill="#f0f921"/>
<circle cx="317.0" cy="338.0" r="5.2" fill="#fb9f3a"/>
<circle cx="330.8" cy="345.9" r="5.2" fill="#fb9f3a"/>
<circle cx="317.8" cy="350.1" r="5.2" fill="#fad625"/>
<circle cx="335.0" cy="363.3" r="5.2" fill="#f0f921"/>
<circle cx="327.8" cy="359.8" r="5.2" fill="#5c02a4"/>
<circle cx="335.8" cy="357.6" r="5.2" fill="#f48c46"/>
<circle cx="340.3" cy="353.1" r="5.2" fill="#f48c46"/>
<circle cx="347.8" cy="354.6" r="5.2" fill="#9c179e"/>
<circle cx="349.3" cy="359.1" r="5.2" fill="#9c179e"/>
<circle cx="356.8" cy="357.3" r="5.2" fill="#9c179e"/>
<circle cx="355.3" cy="363.6" r="5.2" fill="#9c179e"/>
<circle cx="363.6" cy="360.6" r="5.2" fill="#ed7953"/>
<circle cx="370.8" cy="356.1" r="5.2" fill="#bd3786"/>
<circle cx="371.1" cy="362.8" r="5.2" fill="#ac2792"/>
<circle cx="372.6" cy="369.6" r="5.2" fill="#ac2792"/>
<circle cx="366.3" cy="371.1" r="5.2" fill="#f0f921"/>
<circle cx="338.1" cy="368.1" r="5.2" fill="#9c179e"/>
<circle cx="341.1" cy="366.6" r="5.2" fill="#ed7953"/>
<circle cx="345.6" cy="368.1" r="5.2" fill="#ed7953"/>
<circle cx="344.8" cy="374.1" r="5.2" fill="#ed7953"/>
<circle cx="320.0" cy="362.1" r="5.2" fill="#f48c46"/>
<circle cx="321.5" cy="368.1" r="5.2" fill="#fdca26"/>
<circle cx="329.0" cy="369.6" r="5.2" fill="#fcb430"/>
<circle cx="320.0" cy="375.6" r="5.2" fill="#fdca26"/>
<circle cx="327.5" cy="378.6" r="5.2" fill="#fcb430"/>
<circle cx="326.0" cy="384.7" r="5.2" fill="#fcb430"/>
<circle cx="318.5" cy="393.7" r="5.2" fill="#fdca26"/>
<circle cx="320.8" cy="401.2" r="5.2" fill="#fdca26"/>
<circle cx="323.8" cy="387.7" r="5.2" fill="#7201a8"/>
<circle cx="328.3" cy="394.9" r="5.2" fill="#5c02a4"/>
<circle cx="352.3" cy="377.9" r="5.2" fill="#fb9f3a"/>
<circle cx="357.9" cy="377.4" r="5.2" fill="#f48c46"/>
<circle cx="344.8" cy="383.2" r="5.2" fill="#f48c46"/>
<circle cx="342.6" cy="391.4" r="5.2" fill="#7201a8"/>
<circle cx="353.8" cy="393.7" r="5.2" fill="#9c179e"/>
<circle cx="351.6" cy="386.2" r="5.2" fill="#46039f"/>
<circle cx="347.8" cy="390.7" r="5.2" fill="#46039f"/>
<circle cx="368.1" cy="384.7" r="5.2" fill="#bd3786"/>
<circle cx="374.9" cy="386.2" r="5.2" fill="#bd3786"/>
<circle cx="364.4" cy="388.4" r="5.2" fill="#870ca3"/>
<circle cx="362.1" cy="395.2" r="5.2" fill="#7201a8"/>
<circle cx="381.4" cy="374.9" r="5.2" fill="#ed7953"/>
<circle cx="375.6" cy="377.9" r="5.2" fill="#f48c46"/>
<circle cx="383.9" cy="386.9" r="5.2" fill="#f48c46"/>
<circle cx="386.2" cy="389.2" r="5.2" fill="#fb9f3a"/>
<circle cx="380.9" cy="394.4" r="5.2" fill="#ac2792"/>
<circle cx="371.1" cy="395.2" r="5.2" fill="#ed7953"/>
<circle cx="390.4" cy="400.4" r="5.2" fill="#d8576b"/>
<circle cx="335.0" cy="404.2" r="5.2" fill="#bd3786"/>
<circle cx="338.1" cy="398.2" r="5.2" fill="#d8576b"/>
<circle cx="344.1" cy="399.7" r="5.2" fill="#9c179e"/>
<circle cx="350.8" cy="401.9" r="5.2" fill="#ed7953"/>
<circle cx="356.8" cy="404.2" r="5.2" fill="#f48c46"/>
<circle cx="362.1" cy="402.7" r="5.2" fill="#f48c46"/>
<circle cx="368.1" cy="401.2" r="5.2" fill="#f48c46"/>
<circle cx="377.2" cy="404.2" r="5.2" fill="#ed7953"/>
<circle cx="372.6" cy="405.7" r="5.2" fill="#46039f"/>
<circle cx="380.2" cy="406.5" r="5.2" fill="#5c02a4"/>
<circle cx="383.9" cy="407.2" r="5.2" fill="#f48c46"/>
<circle cx="347.1" cy="411.7" r="5.2" fill="#7201a8"/>
<circle cx="344.1" cy="407.2" r="5.2" fill="#7201a8"/>
<circle cx="353.1" cy="410.2" r="5.2" fill="#e2685f"/>
<circle cx="360.6" cy="413.2" r="5.2" fill="#ed7953"/>
<circle cx="377.2" cy="411.7" r="5.2" fill="#e2685f"/>
<circle cx="368.1" cy="411.0" r="5.2" fill="#fb9f3a"/>
<circle cx="384.7" cy="413.2" r="5.2" fill="#fb9f3a"/>
<circle cx="391.4" cy="413.2" r="5.2" fill="#ca4778"/>
<circle cx="332.0" cy="411.7" r="5.2" fill="#7201a8"/>
<circle cx="329.0" cy="408.7" r="5.2" fill="#e2685f"/>
<circle cx="320.0" cy="413.2" r="5.2" fill="#9c179e"/>
<circle cx="337.3" cy="414.7" r="5.2" fill="#e2685f"/>
<circle cx="321.5" cy="420.7" r="5.2" fill="#9c179e"/>
<circle cx="326.0" cy="419.2" r="5.2" fill="#f48c46"/>
<circle cx="345.6" cy="419.2" r="5.2" fill="#46039f"/>
<circle cx="351.6" cy="420.0" r="5.2" fill="#d8576b"/>
<circle cx="359.1" cy="420.7" r="5.2" fill="#ed7953"/>
<circle cx="366.6" cy="419.2" r="5.2" fill="#e2685f"/>
<circle cx="374.1" cy="419.2" r="5.2" fill="#ed7953"/>
<circle cx="381.7" cy="419.2" r="5.2" fill="#fb9f3a"/>
<circle cx="387.7" cy="420.7" r="5.2" fill="#fb9f3a"/>
<circle cx="393.7" cy="420.7" r="5.2" fill="#9c179e"/>
<circle cx="401.2" cy="421.5" r="5.2" fill="#870ca3"/>
<circle cx="434.1" cy="404.1" r="5.2" fill="#ac2792"/>
<circle cx="567.8" cy="359.5" r="5.2" fill="#5302a2"/>
<circle cx="292.2" cy="424.5" r="5.2" fill="#fcb430"/>
<circle cx="301.2" cy="424.5" r="5.2" fill="#fcb430"/>
<circle cx="314.7" cy="427.5" r="5.2" fill="#fdca26"/>
<circle cx="260.3" cy="436.8" r="5.2" fill="#e2685f"/>
<circle cx="268.9" cy="432.8" r="5.2" fill="#e2685f"/>
<circle cx="272.6" cy="427.5" r="5.2" fill="#e2685f"/>
<circle cx="277.2" cy="430.5" r="5.2" fill="#e2685f"/>
<circle cx="274.9" cy="441.0" r="5.2" fill="#e2685f"/>
<circle cx="283.2" cy="438.0" r="5.2" fill="#e2685f"/>
<circle cx="282.4" cy="442.5" r="5.2" fill="#e2685f"/>
<circle cx="286.2" cy="427.5" r="5.2" fill="#ca4778"/>
<circle cx="276.4" cy="423.8" r="5.2" fill="#7201a8"/>
<circle cx="263.6" cy="448.9" r="5.2" fill="#e2685f"/>
<circle cx="259.1" cy="450.8" r="5.2" fill="#e2685f"/>
<circle cx="254.9" cy="462.8" r="5.2" fill="#f8973f"/>
<circle cx="247.8" cy="477.4" r="5.2" fill="#ca4778"/>
<circle cx="260.6" cy="495.5" r="5.2" fill="#e97258"/>
<circle cx="269.6" cy="456.8" r="5.2" fill="#d8576b"/>
<circle cx="274.1" cy="466.6" r="5.2" fill="#e2685f"/>
<circle cx="283.9" cy="457.6" r="5.2" fill="#e2685f"/>
<circle cx="283.2" cy="466.6" r="5.2" fill="#ca4778"/>
<circle cx="276.1" cy="450.1" r="5.2" fill="#7201a8"/>
<circle cx="276.1" cy="459.8" r="5.2" fill="#7201a8"/>
<circle cx="279.4" cy="479.4" r="5.2" fill="#5c02a4"/>
<circle cx="283.2" cy="488.4" r="5.2" fill="#bd3786"/>
<circle cx="291.4" cy="447.1" r="5.2" fill="#f8dd24"/>
<circle cx="290.7" cy="432.8" r="5.2" fill="#9c179e"/>
<circle cx="299.0" cy="429.8" r="5.2" fill="#7201a8"/>
<circle cx="295.2" cy="442.5" r="5.2" fill="#870ca3"/>
<circle cx="305.7" cy="435.0" r="5.2" fill="#7201a8"/>
<circle cx="310.2" cy="438.0" r="5.2" fill="#870ca3"/>
<circle cx="313.2" cy="447.1" r="5.2" fill="#7201a8"/>
<circle cx="302.7" cy="448.6" r="5.2" fill="#7201a8"/>
<circle cx="298.2" cy="468.1" r="5.2" fill="#d8576b"/>
<circle cx="302.7" cy="470.4" r="5.2" fill="#fcb430"/>
<circle cx="292.2" cy="456.8" r="5.2" fill="#7201a8"/>
<circle cx="299.7" cy="459.1" r="5.2" fill="#9c179e"/>
<circle cx="307.2" cy="456.1" r="5.2" fill="#870ca3"/>
<circle cx="290.7" cy="468.1" r="5.2" fill="#7201a8"/>
<circle cx="295.2" cy="474.1" r="5.2" fill="#7201a8"/>
<circle cx="304.2" cy="465.1" r="5.2" fill="#7201a8"/>
<circle cx="311.7" cy="463.6" r="5.2" fill="#7201a8"/>
<circle cx="310.2" cy="472.6" r="5.2" fill="#7201a8"/>
<circle cx="316.2" cy="468.1" r="5.2" fill="#7201a8"/>
<circle cx="301.2" cy="480.1" r="5.2" fill="#7201a8"/>
<circle cx="307.2" cy="480.1" r="5.2" fill="#7201a8"/>
<circle cx="313.2" cy="483.2" r="5.2" fill="#46039f"/>
<circle cx="289.2" cy="495.2" r="5.2" fill="#fb9f3a"/>
<circle cx="292.2" cy="487.7" r="5.2" fill="#7201a8"/>
<circle cx="287.7" cy="489.9" r="5.2" fill="#7201a8"/>
<circle cx="298.2" cy="489.2" r="5.2" fill="#870ca3"/>
<circle cx="305.7" cy="489.2" r="5.2" fill="#870ca3"/>
<circle cx="313.2" cy="490.7" r="5.2" fill="#7201a8"/>
<circle cx="295.2" cy="496.7" r="5.2" fill="#7201a8"/>
<circle cx="302.7" cy="502.7" r="5.2" fill="#350498"/>
<circle cx="308.7" cy="498.2" r="5.2" fill="#5c02a4"/>
<circle cx="314.7" cy="498.2" r="5.2" fill="#7201a8"/>
<circle cx="291.4" cy="505.7" r="5.2" fill="#5c02a4"/>
<circle cx="274.1" cy="498.2" r="5.2" fill="#d8576b"/>
<circle cx="279.4" cy="498.2" r="5.2" fill="#d8576b"/>
<circle cx="265.9" cy="505.0" r="5.2" fill="#bd3786"/>
<circle cx="273.4" cy="502.7" r="5.2" fill="#b6318b"/>
<circle cx="282.4" cy="505.7" r="5.2" fill="#ac2792"/>
<circle cx="272.6" cy="513.2" r="5.2" fill="#ac2792"/>
<circle cx="280.2" cy="511.7" r="5.2" fill="#b6318b"/>
<circle cx="287.7" cy="511.7" r="5.2" fill="#9c179e"/>
<circle cx="277.2" cy="519.2" r="5.2" fill="#ac2792"/>
<circle cx="284.7" cy="519.2" r="5.2" fill="#ac2792"/>
<circle cx="290.7" cy="519.2" r="5.2" fill="#870ca3"/>
<circle cx="298.2" cy="517.7" r="5.2" fill="#d8576b"/>
<circle cx="298.2" cy="510.2" r="5.2" fill="#bd3786"/>
<circle cx="307.2" cy="510.2" r="5.2" fill="#7201a8"/>
<circle cx="311.7" cy="516.2" r="5.2" fill="#46039f"/>
<circle cx="307.2" cy="520.7" r="5.2" fill="#5c02a4"/>
<circle cx="314.7" cy="508.7" r="5.2" fill="#7201a8"/>
<circle cx="320.0" cy="424.5" r="5.2" fill="#870ca3"/>
<circle cx="319.3" cy="429.8" r="5.2" fill="#fcb430"/>
<circle cx="330.5" cy="431.3" r="5.2" fill="#9c179e"/>
<circle cx="327.5" cy="426.0" r="5.2" fill="#e2685f"/>
<circle cx="339.6" cy="426.8" r="5.2" fill="#5c02a4"/>
<circle cx="333.5" cy="425.3" r="5.2" fill="#f48c46"/>
<circle cx="347.8" cy="424.5" r="5.2" fill="#fb9f3a"/>
<circle cx="347.1" cy="433.5" r="5.2" fill="#e2685f"/>
<circle cx="355.3" cy="429.0" r="5.2" fill="#e2685f"/>
<circle cx="372.6" cy="429.0" r="5.2" fill="#d8576b"/>
<circle cx="378.7" cy="432.0" r="5.2" fill="#d35170"/>
<circle cx="386.2" cy="424.5" r="5.2" fill="#fb9f3a"/>
<circle cx="383.2" cy="433.5" r="5.2" fill="#d8576b"/>
<circle cx="393.7" cy="430.5" r="5.2" fill="#d8576b"/>
<circle cx="399.7" cy="425.3" r="5.2" fill="#7201a8"/>
<circle cx="401.2" cy="434.3" r="5.2" fill="#7201a8"/>
<circle cx="412.5" cy="432.8" r="5.2" fill="#d35170"/>
<circle cx="415.5" cy="442.5" r="5.2" fill="#fb9f3a"/>
<circle cx="363.6" cy="427.5" r="5.2" fill="#fcb430"/>
<circle cx="320.0" cy="443.3" r="5.2" fill="#5c02a4"/>
<circle cx="326.0" cy="450.1" r="5.2" fill="#f48c46"/>
<circle cx="330.5" cy="444.1" r="5.2" fill="#e26760"/>
<circle cx="336.5" cy="445.6" r="5.2" fill="#e87059"/>
<circle cx="341.1" cy="439.5" r="5.2" fill="#e2685f"/>
<circle cx="348.6" cy="441.0" r="5.2" fill="#e2685f"/>
<circle cx="354.6" cy="447.1" r="5.2" fill="#e77059"/>
<circle cx="360.6" cy="438.8" r="5.2" fill="#fb9f3a"/>
<circle cx="365.9" cy="443.3" r="5.2" fill="#e26760"/>
<circle cx="374.1" cy="442.5" r="5.2" fill="#e26760"/>
<circle cx="381.7" cy="444.1" r="5.2" fill="#e26760"/>
<circle cx="387.7" cy="439.5" r="5.2" fill="#e2685f"/>
<circle cx="394.4" cy="453.1" r="5.2" fill="#7201a8"/>
<circle cx="402.7" cy="442.5" r="5.2" fill="#e26760"/>
<circle cx="407.2" cy="450.1" r="5.2" fill="#eb7655"/>
<circle cx="414.7" cy="455.3" r="5.2" fill="#fb9f3a"/>
<circle cx="394.7" cy="446.3" r="5.2" fill="#fdca26"/>
<circle cx="320.0" cy="463.6" r="5.2" fill="#46039f"/>
<circle cx="326.0" cy="457.6" r="5.2" fill="#7201a8"/>
<circle cx="333.5" cy="453.1" r="5.2" fill="#5c02a4"/>
<circle cx="339.6" cy="451.6" r="5.2" fill="#46039f"/>
<circle cx="332.0" cy="460.6" r="5.2" fill="#7201a8"/>
<circle cx="349.3" cy="454.6" r="5.2" fill="#5c02a4"/>
<circle cx="353.1" cy="459.1" r="5.2" fill="#fcb430"/>
<circle cx="342.6" cy="461.8" r="5.2" fill="#cd4a76"/>
<circle cx="357.6" cy="460.6" r="5.2" fill="#df6263"/>
<circle cx="366.6" cy="455.3" r="5.2" fill="#f2874a"/>
<circle cx="374.1" cy="457.6" r="5.2" fill="#ea7457"/>
<circle cx="381.7" cy="456.1" r="5.2" fill="#df6362"/>
<circle cx="386.2" cy="455.3" r="5.2" fill="#d4536f"/>
<circle cx="398.2" cy="460.6" r="5.2" fill="#df6263"/>
<circle cx="405.7" cy="459.1" r="5.2" fill="#d35270"/>
<circle cx="413.2" cy="463.6" r="5.2" fill="#d25071"/>
<circle cx="391.0" cy="465.4" r="5.2" fill="#fccf26"/>
<circle cx="320.0" cy="472.6" r="5.2" fill="#870ca3"/>
<circle cx="326.0" cy="477.9" r="5.2" fill="#d8576b"/>
<circle cx="338.1" cy="480.1" r="5.2" fill="#ca4778"/>
<circle cx="332.8" cy="470.8" r="5.2" fill="#e7705a"/>
<circle cx="345.3" cy="475.6" r="5.2" fill="#f0804f"/>
<circle cx="352.3" cy="468.1" r="5.2" fill="#dd5f65"/>
<circle cx="362.1" cy="469.6" r="5.2" fill="#dd5f65"/>
<circle cx="374.1" cy="468.1" r="5.2" fill="#dd5f65"/>
<circle cx="381.7" cy="477.9" r="5.2" fill="#3b049a"/>
<circle cx="375.6" cy="475.6" r="5.2" fill="#d7566c"/>
<circle cx="383.2" cy="471.1" r="5.2" fill="#dd5e66"/>
<circle cx="365.9" cy="478.9" r="5.2" fill="#ea7457"/>
<circle cx="392.2" cy="474.1" r="5.2" fill="#dc5e66"/>
<circle cx="399.7" cy="471.1" r="5.2" fill="#dd5e66"/>
<circle cx="407.2" cy="472.6" r="5.2" fill="#d04e73"/>
<circle cx="414.7" cy="471.1" r="5.2" fill="#ac2792"/>
<circle cx="415.5" cy="478.6" r="5.2" fill="#7201a8"/>
<circle cx="401.2" cy="480.1" r="5.2" fill="#ce4b75"/>
<circle cx="410.2" cy="480.1" r="5.2" fill="#ce4b75"/>
<circle cx="320.0" cy="483.2" r="5.2" fill="#7201a8"/>
<circle cx="326.0" cy="495.2" r="5.2" fill="#46039f"/>
<circle cx="347.1" cy="486.2" r="5.2" fill="#46039f"/>
<circle cx="341.1" cy="489.2" r="5.2" fill="#5c02a4"/>
<circle cx="333.5" cy="489.9" r="5.2" fill="#e46a5e"/>
<circle cx="353.1" cy="483.2" r="5.2" fill="#9c179e"/>
<circle cx="354.6" cy="490.7" r="5.2" fill="#870ca3"/>
<circle cx="362.1" cy="486.2" r="5.2" fill="#cd4a76"/>
<circle cx="377.2" cy="493.7" r="5.2" fill="#46039f"/>
<circle cx="371.9" cy="489.2" r="5.2" fill="#e06362"/>
<circle cx="363.6" cy="493.7" r="5.2" fill="#ee7b52"/>
<circle cx="381.7" cy="489.2" r="5.2" fill="#d9596a"/>
<circle cx="387.7" cy="486.2" r="5.2" fill="#d5536e"/>
<circle cx="395.2" cy="484.7" r="5.2" fill="#d5546e"/>
<circle cx="402.7" cy="489.2" r="5.2" fill="#cc4977"/>
<circle cx="410.2" cy="487.7" r="5.2" fill="#c7437c"/>
<circle cx="414.7" cy="492.2" r="5.2" fill="#cc4977"/>
<circle cx="320.0" cy="501.2" r="5.2" fill="#9c179e"/>
<circle cx="324.5" cy="498.2" r="5.2" fill="#46039f"/>
<circle cx="329.8" cy="505.0" r="5.2" fill="#ed7953"/>
<circle cx="336.5" cy="502.7" r="5.2" fill="#46039f"/>
<circle cx="342.6" cy="498.2" r="5.2" fill="#5c02a4"/>
<circle cx="347.1" cy="508.7" r="5.2" fill="#bd3786"/>
<circle cx="353.1" cy="501.2" r="5.2" fill="#ca4778"/>
<circle cx="360.6" cy="505.7" r="5.2" fill="#ca4778"/>
<circle cx="370.4" cy="498.2" r="5.2" fill="#e46a5e"/>
<circle cx="366.6" cy="505.7" r="5.2" fill="#cc4977"/>
<circle cx="387.7" cy="505.0" r="5.2" fill="#3b049a"/>
<circle cx="380.2" cy="501.2" r="5.2" fill="#cc4977"/>
<circle cx="390.7" cy="495.2" r="5.2" fill="#ca4778"/>
<circle cx="398.2" cy="498.2" r="5.2" fill="#cc4977"/>
<circle cx="407.2" cy="499.7" r="5.2" fill="#cc4977"/>
<circle cx="414.7" cy="502.7" r="5.2" fill="#cc4977"/>
<circle cx="401.2" cy="507.2" r="5.2" fill="#cc4977"/>
<circle cx="321.5" cy="519.2" r="5.2" fill="#9c179e"/>
<circle cx="327.5" cy="513.2" r="5.2" fill="#46039f"/>
<circle cx="333.5" cy="513.2" r="5.2" fill="#870ca3"/>
<circle cx="326.0" cy="520.7" r="5.2" fill="#9c179e"/>
<circle cx="339.6" cy="519.2" r="5.2" fill="#ac2792"/>
<circle cx="344.1" cy="511.7" r="5.2" fill="#ac2792"/>
<circle cx="354.6" cy="514.7" r="5.2" fill="#46039f"/>
<circle cx="349.3" cy="519.2" r="5.2" fill="#870ca3"/>
<circle cx="363.6" cy="513.2" r="5.2" fill="#d4526f"/>
<circle cx="369.6" cy="519.2" r="5.2" fill="#bd3786"/>
<circle cx="375.6" cy="514.7" r="5.2" fill="#ac2792"/>
<circle cx="381.7" cy="520.7" r="5.2" fill="#cc4977"/>
<circle cx="387.7" cy="513.2" r="5.2" fill="#e87059"/>
<circle cx="393.7" cy="516.2" r="5.2" fill="#df6363"/>
<circle cx="398.2" cy="508.7" r="5.2" fill="#d9596a"/>
<circle cx="405.7" cy="511.7" r="5.2" fill="#cc4977"/>
<circle cx="410.2" cy="508.7" r="5.2" fill="#e46a5e"/>
<circle cx="407.2" cy="519.2" r="5.2" fill="#ac2792"/>
<circle cx="414.7" cy="514.7" r="5.2" fill="#b6318b"/>
<circle cx="434.7" cy="445.6" r="5.2" fill="#ed7953"/>
<circle cx="434.7" cy="439.8" r="5.2" fill="#ed7953"/>
<circle cx="417.0" cy="432.0" r="5.2" fill="#bd3786"/>
<circle cx="417.0" cy="438.0" r="5.2" fill="#7201a8"/>
<circle cx="417.0" cy="445.6" r="5.2" fill="#fcb430"/>
<circle cx="420.0" cy="462.1" r="5.2" fill="#ac2792"/>
<circle cx="419.3" cy="453.8" r="5.2" fill="#fcb430"/>
<circle cx="429.8" cy="463.6" r="5.2" fill="#e2685f"/>
<circle cx="436.2" cy="467.4" r="5.2" fill="#ca4778"/>
<circle cx="418.5" cy="469.6" r="5.2" fill="#ac2792"/>
<circle cx="424.5" cy="477.1" r="5.2" fill="#e66e5b"/>
<circle cx="430.8" cy="473.4" r="5.2" fill="#fb9f3a"/>
<circle cx="439.6" cy="477.1" r="5.2" fill="#870ca3"/>
<circle cx="446.3" cy="484.7" r="5.2" fill="#870ca3"/>
<circle cx="441.1" cy="487.7" r="5.2" fill="#ee7c51"/>
<circle cx="433.5" cy="487.7" r="5.2" fill="#e46a5d"/>
<circle cx="436.5" cy="481.6" r="5.2" fill="#f8973f"/>
<circle cx="457.6" cy="470.8" r="5.2" fill="#7201a8"/>
<circle cx="455.8" cy="483.9" r="5.2" fill="#870ca3"/>
<circle cx="470.4" cy="495.2" r="5.2" fill="#5c02a4"/>
<circle cx="503.5" cy="506.0" r="5.2" fill="#de6164"/>
<circle cx="504.2" cy="517.0" r="5.2" fill="#46039f"/>
<circle cx="495.2" cy="523.0" r="5.2" fill="#9c179e"/>
<circle cx="421.5" cy="480.1" r="5.2" fill="#bd3786"/>
<circle cx="420.0" cy="487.7" r="5.2" fill="#ca4778"/>
<circle cx="426.0" cy="489.2" r="5.2" fill="#ca4778"/>
<circle cx="451.6" cy="493.7" r="5.2" fill="#870ca3"/>
<circle cx="456.8" cy="493.7" r="5.2" fill="#870ca3"/>
<circle cx="449.3" cy="490.7" r="5.2" fill="#bd3786"/>
<circle cx="433.5" cy="496.7" r="5.2" fill="#9c179e"/>
<circle cx="426.0" cy="498.2" r="5.2" fill="#5c02a4"/>
<circle cx="420.0" cy="496.7" r="5.2" fill="#bd3786"/>
<circle cx="441.1" cy="498.2" r="5.2" fill="#bd3786"/>
<circle cx="445.6" cy="502.7" r="5.2" fill="#2a0693"/>
<circle cx="453.1" cy="501.9" r="5.2" fill="#9c179e"/>
<circle cx="459.9" cy="499.7" r="5.2" fill="#bd3786"/>
<circle cx="436.5" cy="507.2" r="5.2" fill="#cc4977"/>
<circle cx="430.5" cy="505.7" r="5.2" fill="#cc4977"/>
<circle cx="423.0" cy="507.2" r="5.2" fill="#bd3786"/>
<circle cx="418.5" cy="504.2" r="5.2" fill="#d9596a"/>
<circle cx="451.6" cy="508.7" r="5.2" fill="#bd3786"/>
<circle cx="444.1" cy="510.2" r="5.2" fill="#cc4977"/>
<circle cx="461.4" cy="513.2" r="5.2" fill="#3b049a"/>
<circle cx="457.6" cy="510.2" r="5.2" fill="#ac2792"/>
<circle cx="468.1" cy="514.7" r="5.2" fill="#ac2792"/>
<circle cx="471.1" cy="512.5" r="5.2" fill="#bd3786"/>
<circle cx="477.2" cy="517.7" r="5.2" fill="#ac2792"/>
<circle cx="482.4" cy="519.2" r="5.2" fill="#bd3786"/>
<circle cx="465.1" cy="519.2" r="5.2" fill="#870ca3"/>
<circle cx="471.1" cy="520.7" r="5.2" fill="#5c02a4"/>
<circle cx="426.0" cy="511.7" r="5.2" fill="#7201a8"/>
<circle cx="454.6" cy="517.7" r="5.2" fill="#9c179e"/>
<circle cx="447.1" cy="517.7" r="5.2" fill="#cc4977"/>
<circle cx="439.6" cy="516.2" r="5.2" fill="#bd3786"/>
<circle cx="432.0" cy="514.7" r="5.2" fill="#cc4977"/>
<circle cx="424.5" cy="514.7" r="5.2" fill="#9c179e"/>
<circle cx="418.5" cy="519.2" r="5.2" fill="#d9596a"/>
<circle cx="436.5" cy="520.7" r="5.2" fill="#7201a8"/>
<circle cx="429.0" cy="521.5" r="5.2" fill="#ee7b52"/>
<circle cx="448.6" cy="522.2" r="5.2" fill="#ee7b52"/>
<circle cx="498.5" cy="525.6" r="5.2" fill="#ac2792"/>
<circle cx="503.0" cy="530.9" r="5.2" fill="#ac2792"/>
<circle cx="507.2" cy="523.4" r="5.2" fill="#ca4778"/>
<circle cx="509.8" cy="529.4" r="5.2" fill="#ca4778"/>
<circle cx="516.5" cy="533.9" r="5.2" fill="#1e068e"/>
<circle cx="497.0" cy="542.2" r="5.2" fill="#bd3786"/>
<circle cx="500.0" cy="536.2" r="5.2" fill="#bd3786"/>
<circle cx="506.0" cy="537.7" r="5.2" fill="#ac2792"/>
<circle cx="503.0" cy="543.7" r="5.2" fill="#ac2792"/>
<circle cx="511.3" cy="544.4" r="5.2" fill="#9c179e"/>
<circle cx="518.1" cy="542.2" r="5.2" fill="#870ca3"/>
<circle cx="521.1" cy="540.7" r="5.2" fill="#a62197"/>
<circle cx="531.6" cy="542.6" r="5.2" fill="#7201a8"/>
<circle cx="536.4" cy="545.5" r="5.2" fill="#ac2792"/>
<circle cx="546.9" cy="541.9" r="5.2" fill="#ca4778"/>
<circle cx="563.6" cy="537.4" r="5.2" fill="#5302a2"/>
<circle cx="242.3" cy="534.1" r="5.2" fill="#f0f921"/>
<circle cx="274.1" cy="531.1" r="5.2" fill="#bd3786"/>
<circle cx="281.7" cy="525.1" r="5.2" fill="#bd3786"/>
<circle cx="280.9" cy="534.9" r="5.2" fill="#bd3786"/>
<circle cx="288.4" cy="528.1" r="5.2" fill="#ac2792"/>
<circle cx="288.9" cy="545.4" r="5.2" fill="#bd3786"/>
<circle cx="292.2" cy="535.6" r="5.2" fill="#7201a8"/>
<circle cx="298.2" cy="526.6" r="5.2" fill="#7201a8"/>
<circle cx="298.2" cy="540.1" r="5.2" fill="#d8576b"/>
<circle cx="305.7" cy="528.1" r="5.2" fill="#7201a8"/>
<circle cx="310.2" cy="519.1" r="5.2" fill="#46039f"/>
<circle cx="313.2" cy="526.6" r="5.2" fill="#870ca3"/>
<circle cx="301.2" cy="534.1" r="5.2" fill="#7201a8"/>
<circle cx="307.2" cy="537.1" r="5.2" fill="#5c02a4"/>
<circle cx="301.2" cy="543.2" r="5.2" fill="#5c02a4"/>
<circle cx="293.7" cy="542.4" r="5.2" fill="#46039f"/>
<circle cx="308.7" cy="543.2" r="5.2" fill="#4f03a1"/>
<circle cx="314.7" cy="541.6" r="5.2" fill="#870ca3"/>
<circle cx="315.5" cy="532.6" r="5.2" fill="#9c179e"/>
<circle cx="320.0" cy="528.1" r="5.2" fill="#870ca3"/>
<circle cx="326.0" cy="523.6" r="5.2" fill="#9c179e"/>
<circle cx="344.1" cy="526.6" r="5.2" fill="#bd3786"/>
<circle cx="349.3" cy="531.1" r="5.2" fill="#7201a8"/>
<circle cx="354.6" cy="525.1" r="5.2" fill="#bd3786"/>
<circle cx="361.4" cy="526.6" r="5.2" fill="#3b049a"/>
<circle cx="368.1" cy="525.1" r="5.2" fill="#bd3786"/>
<circle cx="380.2" cy="526.6" r="5.2" fill="#bd3786"/>
<circle cx="386.2" cy="525.1" r="5.2" fill="#ca4778"/>
<circle cx="393.7" cy="526.6" r="5.2" fill="#cc4977"/>
<circle cx="401.2" cy="525.1" r="5.2" fill="#cc4977"/>
<circle cx="408.7" cy="525.1" r="5.2" fill="#ca4778"/>
<circle cx="414.7" cy="526.6" r="5.2" fill="#ca4778"/>
<circle cx="336.5" cy="529.6" r="5.2" fill="#d9596a"/>
<circle cx="373.8" cy="533.4" r="5.2" fill="#df6363"/>
<circle cx="320.0" cy="535.6" r="5.2" fill="#7201a8"/>
<circle cx="325.3" cy="540.1" r="5.2" fill="#5c02a4"/>
<circle cx="344.1" cy="536.4" r="5.2" fill="#5c02a4"/>
<circle cx="354.6" cy="540.9" r="5.2" fill="#46039f"/>
<circle cx="362.9" cy="536.4" r="5.2" fill="#ca4778"/>
<circle cx="368.9" cy="540.9" r="5.2" fill="#3b049a"/>
<circle cx="381.7" cy="535.6" r="5.2" fill="#bd3786"/>
<circle cx="387.7" cy="534.1" r="5.2" fill="#ac2792"/>
<circle cx="401.2" cy="533.4" r="5.2" fill="#870ca3"/>
<circle cx="405.7" cy="538.6" r="5.2" fill="#ca4778"/>
<circle cx="413.2" cy="535.6" r="5.2" fill="#bd3786"/>
<circle cx="392.9" cy="538.9" r="5.2" fill="#d14f72"/>
<circle cx="323.0" cy="544.7" r="5.2" fill="#bd3786"/>
<circle cx="318.5" cy="542.4" r="5.2" fill="#870ca3"/>
<circle cx="329.0" cy="542.4" r="5.2" fill="#7201a8"/>
<circle cx="335.0" cy="544.7" r="5.2" fill="#ca4778"/>
<circle cx="350.1" cy="544.7" r="5.2" fill="#ac2792"/>
<circle cx="354.6" cy="543.9" r="5.2" fill="#5c02a4"/>
<circle cx="343.3" cy="544.4" r="5.2" fill="#2a0693"/>
<circle cx="360.6" cy="544.7" r="5.2" fill="#bd3786"/>
<circle cx="366.6" cy="544.7" r="5.2" fill="#bd3786"/>
<circle cx="374.1" cy="544.7" r="5.2" fill="#ac2792"/>
<circle cx="377.2" cy="543.2" r="5.2" fill="#9c179e"/>
<circle cx="383.2" cy="544.4" r="5.2" fill="#ca4778"/>
<circle cx="390.7" cy="545.4" r="5.2" fill="#ac2792"/>
<circle cx="395.2" cy="543.2" r="5.2" fill="#ac2792"/>
<circle cx="398.2" cy="544.7" r="5.2" fill="#9c179e"/>
<circle cx="405.7" cy="544.7" r="5.2" fill="#bd3786"/>
<circle cx="413.2" cy="544.7" r="5.2" fill="#cc4977"/>
<circle cx="416.2" cy="543.9" r="5.2" fill="#d9596a"/>
<circle cx="420.0" cy="528.1" r="5.2" fill="#bd3786"/>
<circle cx="428.3" cy="525.9" r="5.2" fill="#ca4778"/>
<circle cx="436.5" cy="528.1" r="5.2" fill="#9c179e"/>
<circle cx="441.1" cy="534.1" r="5.2" fill="#bd3786"/>
<circle cx="432.0" cy="535.6" r="5.2" fill="#ac2792"/>
<circle cx="423.0" cy="537.1" r="5.2" fill="#ca4778"/>
<circle cx="454.6" cy="532.6" r="5.2" fill="#9c179e"/>
<circle cx="459.1" cy="535.6" r="5.2" fill="#9c179e"/>
<circle cx="468.1" cy="532.6" r="5.2" fill="#bd3786"/>
<circle cx="475.6" cy="526.6" r="5.2" fill="#7201a8"/>
<circle cx="480.2" cy="529.6" r="5.2" fill="#bd3786"/>
<circle cx="486.2" cy="526.6" r="5.2" fill="#ac2792"/>
<circle cx="483.2" cy="535.6" r="5.2" fill="#bd3786"/>
<circle cx="492.2" cy="532.6" r="5.2" fill="#bd3786"/>
<circle cx="495.2" cy="526.6" r="5.2" fill="#ac2792"/>
<circle cx="501.2" cy="529.6" r="5.2" fill="#ac2792"/>
<circle cx="507.2" cy="525.1" r="5.2" fill="#bd3786"/>
<circle cx="509.5" cy="531.1" r="5.2" fill="#bd3786"/>
<circle cx="514.7" cy="534.1" r="5.2" fill="#1e068e"/>
<circle cx="505.7" cy="535.6" r="5.2" fill="#ac2792"/>
<circle cx="470.4" cy="540.1" r="5.2" fill="#3b049a"/>
<circle cx="435.0" cy="541.6" r="5.2" fill="#46039f"/>
<circle cx="448.6" cy="525.9" r="5.2" fill="#e87059"/>
<circle cx="462.1" cy="528.9" r="5.2" fill="#ee7b52"/>
<circle cx="417.0" cy="543.9" r="5.2" fill="#cc4977"/>
<circle cx="423.0" cy="544.7" r="5.2" fill="#bd3786"/>
<circle cx="430.5" cy="543.9" r="5.2" fill="#bd3786"/>
<circle cx="438.1" cy="543.2" r="5.2" fill="#9c179e"/>
<circle cx="445.6" cy="543.9" r="5.2" fill="#ac2792"/>
<circle cx="453.1" cy="545.0" r="5.2" fill="#bd3786"/>
<circle cx="459.9" cy="543.9" r="5.2" fill="#b6318b"/>
<circle cx="466.6" cy="543.9" r="5.2" fill="#ca4778"/>
<circle cx="469.6" cy="543.2" r="5.2" fill="#bd3786"/>
<circle cx="478.7" cy="543.2" r="5.2" fill="#bd3786"/>
<circle cx="484.7" cy="544.7" r="5.2" fill="#bd3786"/>
<circle cx="489.9" cy="543.9" r="5.2" fill="#ca4778"/>
<circle cx="496.7" cy="543.9" r="5.2" fill="#ac2792"/>
<circle cx="502.7" cy="543.2" r="5.2" fill="#ac2792"/>
<circle cx="511.7" cy="544.7" r="5.2" fill="#9c179e"/>
<circle cx="516.2" cy="543.2" r="5.2" fill="#9c179e"/>
<circle cx="311.6" cy="390.5" r="5.2" fill="#fcb430"/>
<circle cx="320.6" cy="398.0" r="5.2" fill="#fdca26"/>
<circle cx="326.6" cy="402.5" r="5.2" fill="#fdca26"/>
<circle cx="304.1" cy="402.5" r="5.2" fill="#fdca26"/>
<circle cx="316.1" cy="428.1" r="5.2" fill="#fccf26"/>
<circle cx="292.0" cy="447.7" r="5.2" fill="#f8dd24"/>
<circle cx="289.8" cy="386.8" r="5.2" fill="#fcb430"/>
<circle cx="283.0" cy="389.8" r="5.2" fill="#ed7953"/>
<circle cx="289.0" cy="398.0" r="5.2" fill="#ed7953"/>
<circle cx="313.1" cy="402.5" r="5.2" fill="#f48c46"/>
<circle cx="296.5" cy="405.6" r="5.2" fill="#fb9f3a"/>
<circle cx="307.8" cy="413.1" r="5.2" fill="#fcb430"/>
<circle cx="311.6" cy="417.6" r="5.2" fill="#fb9f3a"/>
<circle cx="290.5" cy="419.1" r="5.2" fill="#fb9f3a"/>
<circle cx="299.6" cy="417.6" r="5.2" fill="#ed7953"/>
<circle cx="292.0" cy="423.6" r="5.2" fill="#fcb430"/>
<circle cx="328.1" cy="419.1" r="5.2" fill="#fb9f3a"/>
<circle cx="337.2" cy="414.6" r="5.2" fill="#ed7953"/>
<circle cx="343.2" cy="404.1" r="5.2" fill="#bd3786"/>
<circle cx="337.2" cy="398.0" r="5.2" fill="#e2685f"/>
<circle cx="350.7" cy="401.0" r="5.2" fill="#f48c46"/>
<circle cx="352.2" cy="410.1" r="5.2" fill="#ed7953"/>
<circle cx="358.2" cy="402.5" r="5.2" fill="#f48c46"/>
<circle cx="368.7" cy="395.0" r="5.2" fill="#f48c46"/>
<circle cx="374.7" cy="404.1" r="5.2" fill="#fb9f3a"/>
<circle cx="368.7" cy="410.8" r="5.2" fill="#fba836"/>
<circle cx="356.7" cy="419.1" r="5.2" fill="#ed7953"/>
<circle cx="347.7" cy="422.1" r="5.2" fill="#f48c46"/>
<circle cx="370.2" cy="420.6" r="5.2" fill="#ed7953"/>
<circle cx="374.7" cy="429.6" r="5.2" fill="#ca4778"/>
<circle cx="363.5" cy="427.4" r="5.2" fill="#fcb430"/>
<circle cx="347.7" cy="434.1" r="5.2" fill="#e2685f"/>
<circle cx="355.2" cy="431.1" r="5.2" fill="#ed7953"/>
<circle cx="367.2" cy="435.6" r="5.2" fill="#ed7953"/>
<circle cx="361.2" cy="440.1" r="5.2" fill="#f48c47"/>
<circle cx="373.2" cy="443.2" r="5.2" fill="#ec7854"/>
<circle cx="349.2" cy="443.2" r="5.2" fill="#e26760"/>
<circle cx="332.6" cy="443.2" r="5.2" fill="#e26760"/>
<circle cx="323.6" cy="449.2" r="5.2" fill="#e2685f"/>
<circle cx="355.2" cy="447.7" r="5.2" fill="#ec7755"/>
<circle cx="365.7" cy="449.2" r="5.2" fill="#eb7655"/>
<circle cx="341.7" cy="459.7" r="5.2" fill="#d35170"/>
<circle cx="352.2" cy="458.2" r="5.2" fill="#ea7357"/>
<circle cx="361.2" cy="458.2" r="5.2" fill="#df6263"/>
<circle cx="370.2" cy="455.2" r="5.2" fill="#ea7456"/>
<circle cx="373.2" cy="464.2" r="5.2" fill="#de6164"/>
<circle cx="325.1" cy="477.7" r="5.2" fill="#d8576b"/>
<circle cx="337.2" cy="479.2" r="5.2" fill="#ac2792"/>
<circle cx="355.2" cy="467.2" r="5.2" fill="#d14f72"/>
<circle cx="367.2" cy="468.7" r="5.2" fill="#d14f72"/>
<circle cx="370.2" cy="477.7" r="5.2" fill="#cf4c74"/>
<circle cx="283.0" cy="440.1" r="5.2" fill="#e2685f"/>
<circle cx="281.5" cy="432.6" r="5.2" fill="#e2685f"/>
<circle cx="284.5" cy="426.6" r="5.2" fill="#d8576b"/>
<circle cx="283.8" cy="456.7" r="5.2" fill="#ed7953"/>
<circle cx="286.0" cy="473.2" r="5.2" fill="#bd3786"/>
<circle cx="299.6" cy="470.2" r="5.2" fill="#ed7953"/>
<circle cx="280.0" cy="468.7" r="5.2" fill="#bd3786"/>
<circle cx="282.3" cy="419.1" r="5.2" fill="#870ca3"/>
<circle cx="301.1" cy="397.3" r="5.2" fill="#7201a8"/>
<circle cx="301.1" cy="410.1" r="5.2" fill="#7201a8"/>
<circle cx="319.1" cy="413.1" r="5.2" fill="#870ca3"/>
<circle cx="319.1" cy="423.3" r="5.2" fill="#7201a8"/>
<circle cx="323.6" cy="388.3" r="5.2" fill="#7201a8"/>
<circle cx="328.4" cy="395.0" r="5.2" fill="#4f03a1"/>
<circle cx="343.2" cy="391.3" r="5.2" fill="#7201a8"/>
<circle cx="349.2" cy="387.5" r="5.2" fill="#46039f"/>
<circle cx="355.2" cy="386.8" r="5.2" fill="#5c02a4"/>
<circle cx="362.7" cy="395.8" r="5.2" fill="#7201a8"/>
<circle cx="365.0" cy="387.5" r="5.2" fill="#7201a8"/>
<circle cx="339.4" cy="427.4" r="5.2" fill="#5c02a4"/>
<circle cx="331.1" cy="431.1" r="5.2" fill="#870ca3"/>
<circle cx="299.6" cy="429.6" r="5.2" fill="#7201a8"/>
<circle cx="295.0" cy="432.6" r="5.2" fill="#7201a8"/>
<circle cx="307.1" cy="435.6" r="5.2" fill="#7201a8"/>
<circle cx="302.6" cy="443.2" r="5.2" fill="#7201a8"/>
<circle cx="314.6" cy="444.7" r="5.2" fill="#5c02a4"/>
<circle cx="319.1" cy="443.2" r="5.2" fill="#7201a8"/>
<circle cx="292.0" cy="455.2" r="5.2" fill="#7201a8"/>
<circle cx="299.6" cy="458.2" r="5.2" fill="#7201a8"/>
<circle cx="307.1" cy="455.2" r="5.2" fill="#7201a8"/>
<circle cx="319.1" cy="463.5" r="5.2" fill="#4f03a1"/>
<circle cx="311.6" cy="461.2" r="5.2" fill="#7201a8"/>
<circle cx="280.0" cy="449.2" r="5.2" fill="#7201a8"/>
<circle cx="278.5" cy="459.7" r="5.2" fill="#7201a8"/>
<circle cx="290.5" cy="467.2" r="5.2" fill="#7201a8"/>
<circle cx="295.0" cy="476.2" r="5.2" fill="#7201a8"/>
<circle cx="304.1" cy="473.2" r="5.2" fill="#7201a8"/>
<circle cx="280.0" cy="479.2" r="5.2" fill="#5c02a4"/>
<circle cx="313.1" cy="473.2" r="5.2" fill="#7201a8"/>
<circle cx="322.1" cy="468.7" r="5.2" fill="#7201a8"/>
<circle cx="326.6" cy="458.2" r="5.2" fill="#7201a8"/>
<circle cx="334.1" cy="452.2" r="5.2" fill="#5c02a4"/>
<circle cx="341.7" cy="450.7" r="5.2" fill="#5c02a4"/>
<circle cx="347.7" cy="453.7" r="5.2" fill="#5c02a4"/>
<circle cx="358.2" cy="471.7" r="5.2" fill="#7201a8"/>
<circle cx="362.7" cy="476.2" r="5.2" fill="#5c02a4"/>
<circle cx="341.7" cy="440.1" r="5.2" fill="#46039f"/>
<circle cx="332.9" cy="471.0" r="5.2" fill="#f0814d"/>
<circle cx="345.4" cy="476.2" r="5.2" fill="#ef804f"/>
</g>
<text class="t" x="216.9" y="550.8" text-anchor="end">100</text>
<text class="t" x="216.9" y="506.6" text-anchor="end">150</text>
<text class="t" x="216.9" y="462.5" text-anchor="end">200</text>
<text class="t" x="216.9" y="418.4" text-anchor="end">250</text>
<text class="t" x="216.9" y="374.2" text-anchor="end">300</text>
<text class="t" x="216.9" y="330.1" text-anchor="end">350</text>
<text class="t" x="216.9" y="286.0" text-anchor="end">400</text>
<text class="t" x="216.9" y="241.9" text-anchor="end">450</text>
<text class="t" x="234.4" y="585.2" text-anchor="middle">5</text>
<text class="t" x="294.1" y="585.2" text-anchor="middle">10</text>
<text class="t" x="353.7" y="585.2" text-anchor="middle">15</text>
<text class="t" x="413.4" y="585.2" text-anchor="middle">20</text>
<text class="t" x="473.0" y="585.2" text-anchor="middle">25</text>
<text class="t" x="532.6" y="585.2" text-anchor="middle">30</text>
<text class="t" x="592.3" y="585.2" text-anchor="middle">35</text>
</g>
<rect x="609.4" y="251.7" width="24.6" height="308.9" fill="url(#pl)"/>
<line x1="623.5" y1="248.9" x2="597.6" y2="203.4" stroke="#000" stroke-width="4.7"/>
<polygon points="590.8,191.5 604.6,200.6 591.8,207.2" fill="#000"/>
<rect x="69" y="624.9" width="533.8" height="1.1" fill="#5a5a5a"/>
<rect x="68.8" y="625" width="1" height="4.6" fill="#5a5a5a"/>
<rect x="210.9" y="625" width="1" height="4.6" fill="#5a5a5a"/>
<rect x="351.5" y="625" width="1" height="4.6" fill="#5a5a5a"/>
<rect x="493.1" y="625" width="1" height="4.6" fill="#5a5a5a"/>
<rect x="140.5" y="625" width="1" height="3.2" fill="#5a5a5a"/>
<rect x="280.9" y="625" width="1" height="3.2" fill="#5a5a5a"/>
<rect x="421.8" y="625" width="1" height="3.2" fill="#5a5a5a"/>
<rect x="563.3" y="625" width="1" height="3.2" fill="#5a5a5a"/>
<g class="b" font-size="23.5">
<text x="37.78" y="55.80" textLength="9.68" lengthAdjust="spacingAndGlyphs">1</text>
<text x="37.26" y="84.45" textLength="12.19" lengthAdjust="spacingAndGlyphs">2</text>
<text x="37.26" y="113.10" textLength="11.98" lengthAdjust="spacingAndGlyphs">3</text>
<text x="36.63" y="141.75" textLength="12.66" lengthAdjust="spacingAndGlyphs">4</text>
<text x="35.4" y="171.3" font-size="27">.</text>
<text x="35.4" y="200.0" font-size="27">.</text>
<text x="35.4" y="228.6" font-size="27">.</text>
<text x="35.4" y="257.2" font-size="27">.</text>
<text x="35.4" y="285.9" font-size="27">.</text>
<text x="35.4" y="314.5" font-size="27">.</text>
<text x="35.4" y="343.2" font-size="27">.</text>
<text x="35.4" y="371.8" font-size="27">.</text>
<text x="35.4" y="400.5" font-size="27">.</text>
<text x="35.4" y="429.1" font-size="27">.</text>
<text x="35.4" y="457.8" font-size="27">.</text>
<text x="35.4" y="486.4" font-size="27">.</text>
<text x="35.4" y="515.1" font-size="27">.</text>
<text x="35.4" y="543.7" font-size="27">.</text>
<text x="37.78" y="571.50" textLength="25.62" lengthAdjust="spacingAndGlyphs">19</text>
<text x="37.26" y="600.15" textLength="27.23" lengthAdjust="spacingAndGlyphs">20</text>
</g>
<g class="b" font-size="23.5">
<text x="65.52" y="650.1" textLength="14.05" lengthAdjust="spacingAndGlyphs">0</text>
<text x="205.76" y="650.1" textLength="11.72" lengthAdjust="spacingAndGlyphs">5</text>
<text x="345.15" y="650.1" textLength="26.85" lengthAdjust="spacingAndGlyphs">10</text>
<text x="474.28" y="650.1" textLength="24.58" lengthAdjust="spacingAndGlyphs">15</text>
</g>
<text class="b" font-size="24" transform="translate(176.6 557.50) rotate(-90)" textLength="71.51" lengthAdjust="spacingAndGlyphs">Actual</text>
<text class="b" font-size="24" transform="translate(176.6 478.48) rotate(-90)" textLength="49.02" lengthAdjust="spacingAndGlyphs">bulk</text>
<text class="b" font-size="24" transform="translate(176.6 420.35) rotate(-90)" textLength="96.88" lengthAdjust="spacingAndGlyphs">modulus</text>
<text class="b" font-size="24" transform="translate(176.6 314.59) rotate(-90)" textLength="62.00" lengthAdjust="spacingAndGlyphs">(GPa)</text>
<text class="b" font-size="24" y="615.4"><tspan x="219.89" textLength="157.00" lengthAdjust="spacingAndGlyphs">2:MagpieData</tspan> <tspan x="387.65" textLength="62.55" lengthAdjust="spacingAndGlyphs">mean</tspan> <tspan x="457.78" textLength="150.98" lengthAdjust="spacingAndGlyphs">GSvolume_pa</tspan></text>
<text class="b" font-size="24" y="676.9"><tspan x="31.52" textLength="63.02" lengthAdjust="spacingAndGlyphs">Mean</tspan> <tspan class="r" x="104.75" y="672.3" font-size="22.3">│</tspan><tspan y="676.9"><tspan x="118.26" textLength="62.90" lengthAdjust="spacingAndGlyphs">SHAP</tspan> <tspan x="190.37" textLength="70.49" lengthAdjust="spacingAndGlyphs">values</tspan></tspan><tspan class="r" x="262.35" y="672.3" font-size="22.3">│</tspan><tspan y="676.9"> <tspan x="282.80" textLength="7.02" lengthAdjust="spacingAndGlyphs">:</tspan> <tspan x="298.02" textLength="89.23" lengthAdjust="spacingAndGlyphs">average</tspan> <tspan x="396.15" textLength="75.86" lengthAdjust="spacingAndGlyphs">impact</tspan> <tspan x="481.65" textLength="29.21" lengthAdjust="spacingAndGlyphs">on</tspan> <tspan x="519.65" textLength="114.25" lengthAdjust="spacingAndGlyphs">prediction</tspan></tspan></text>
<text class="r" font-size="26.5" y="166.2"><tspan x="379.54" textLength="20.66" lengthAdjust="spacingAndGlyphs">1:</tspan> <tspan x="408.93" textLength="149.11" lengthAdjust="spacingAndGlyphs">MagpieData</tspan> <tspan x="571.04" textLength="68.08" lengthAdjust="spacingAndGlyphs">mean</tspan></text>
<text class="r" font-size="26.5" y="198.6"><tspan x="454.30" textLength="109.00" lengthAdjust="spacingAndGlyphs">MeltingT</tspan></text>
</svg>
</body></html>
